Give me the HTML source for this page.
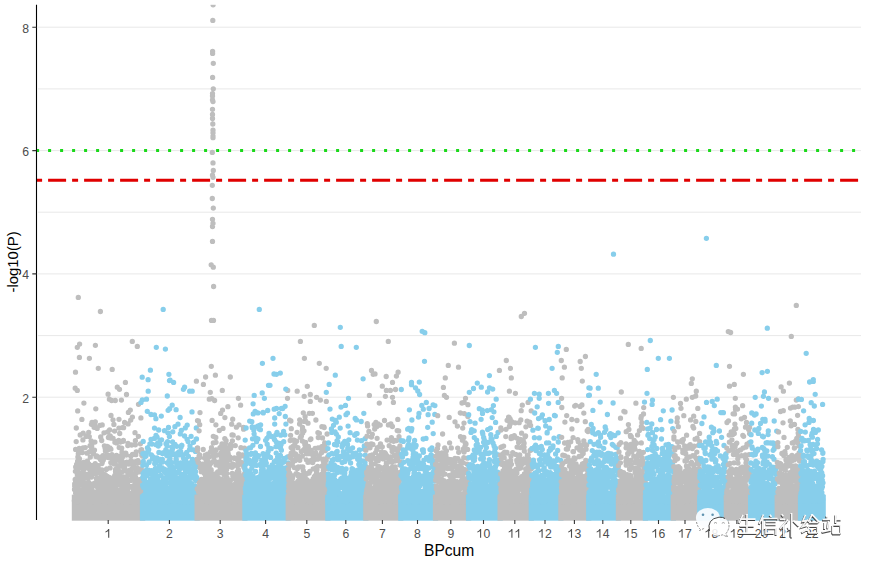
<!DOCTYPE html>
<html><head><meta charset="utf-8"><style>
html,body{margin:0;padding:0;background:#fff;width:869px;height:562px;overflow:hidden;position:relative}
.t{position:absolute;font-family:"Liberation Sans",sans-serif;white-space:nowrap}
.yl{position:absolute;right:840px;font:12.2px "Liberation Sans",sans-serif;color:#4d4d4d;line-height:14px}
.xl{position:absolute;top:526.5px;width:30px;text-align:center;font:12.2px "Liberation Sans",sans-serif;color:#4d4d4d;line-height:14px}
</style></head><body>
<svg width="869" height="562" viewBox="0 0 869 562" style="position:absolute;left:0;top:0">
<path d="M38 458.9H861M38 397.2H861M38 335.6H861M38 273.9H861M38 212.2H861M38 150.6H861M38 88.9H861M38 27.2H861" stroke="#e8e8e8" stroke-width="1" fill="none"/>
<rect x="71.8" y="494.7" width="73.4" height="26.0" fill="#bebebe"/>
<path d="M74.4 500.7h0M74.5 489.4h0M74.6 497.2h0M74.7 485.9h0M74.7 483.9h0M74.9 497.5h0M75.0 489.9h0M75.2 479.5h0M75.3 500.6h0M75.4 471.3h0M75.5 480.3h0M75.5 497.3h0M75.6 449.4h0M75.6 493.0h0M75.7 497.6h0M75.7 466.9h0M75.9 495.9h0M75.9 492.7h0M75.9 478.9h0M76.0 498.2h0M76.0 490.4h0M76.1 480.5h0M76.2 482.2h0M76.2 441.6h0M76.3 481.7h0M76.3 428.0h0M76.4 490.7h0M76.6 497.8h0M76.6 464.4h0M76.8 482.3h0M76.9 494.2h0M76.9 479.1h0M76.9 502.0h0M77.0 470.1h0M77.1 495.7h0M77.1 492.1h0M77.3 500.4h0M77.3 474.6h0M77.4 491.7h0M77.5 479.6h0M77.6 461.2h0M77.7 410.9h0M77.7 471.7h0M77.8 493.1h0M77.9 456.9h0M77.9 483.3h0M78.0 500.2h0M78.0 485.8h0M78.1 498.7h0M78.2 478.9h0M78.3 453.7h0M78.3 489.3h0M78.4 469.1h0M78.4 484.4h0M78.5 461.9h0M78.5 481.0h0M78.6 478.2h0M78.6 495.8h0M78.7 481.5h0M78.8 493.4h0M79.2 465.8h0M79.2 448.4h0M79.3 467.2h0M79.4 458.7h0M79.5 483.0h0M79.7 473.5h0M79.7 467.2h0M79.8 462.7h0M80.1 490.3h0M80.2 466.7h0M80.2 435.0h0M80.3 450.5h0M80.4 480.0h0M80.5 479.7h0M80.5 477.5h0M80.6 476.9h0M80.6 490.2h0M80.9 480.8h0M80.9 499.5h0M81.0 497.7h0M81.1 473.2h0M81.2 496.4h0M81.3 493.5h0M81.4 465.9h0M81.5 497.7h0M81.6 480.5h0M81.7 500.4h0M81.8 498.5h0M81.9 419.4h0M81.9 492.3h0M82.0 485.0h0M82.1 481.7h0M82.3 452.6h0M82.4 475.4h0M82.5 489.7h0M82.6 494.0h0M82.7 500.5h0M82.7 498.6h0M82.8 501.9h0M82.8 491.2h0M82.9 439.9h0M82.9 466.4h0M82.9 494.0h0M83.0 476.2h0M83.1 447.8h0M83.2 498.7h0M83.2 433.2h0M83.4 482.4h0M83.4 490.5h0M83.5 469.4h0M83.6 463.6h0M83.6 462.4h0M83.8 498.6h0M83.8 473.1h0M83.9 482.4h0M83.9 403.1h0M83.9 467.0h0M84.0 495.0h0M84.1 499.3h0M84.4 487.0h0M84.4 493.5h0M84.5 496.8h0M84.6 490.6h0M84.7 483.2h0M84.8 493.6h0M84.9 497.8h0M84.9 500.6h0M84.9 489.8h0M85.1 478.0h0M85.2 447.6h0M85.2 495.2h0M85.3 485.7h0M85.4 487.7h0M85.7 500.3h0M85.7 487.4h0M85.8 484.1h0M86.0 501.2h0M86.1 494.1h0M86.1 436.4h0M86.4 462.0h0M86.4 477.6h0M86.6 484.8h0M86.9 474.3h0M87.1 453.2h0M87.1 466.9h0M87.2 468.1h0M87.3 495.5h0M87.4 461.2h0M87.5 482.8h0M87.5 488.7h0M87.7 495.5h0M87.8 463.5h0M87.8 468.2h0M87.9 497.3h0M87.9 491.8h0M88.0 482.9h0M88.1 495.3h0M88.2 474.8h0M88.3 485.2h0M88.5 477.6h0M88.7 482.5h0M88.7 432.3h0M88.8 463.9h0M88.9 498.0h0M88.9 497.8h0M88.9 501.0h0M89.0 487.0h0M89.0 493.7h0M89.1 492.9h0M89.1 501.4h0M89.2 499.4h0M89.3 436.6h0M89.4 477.1h0M89.5 493.9h0M89.6 501.6h0M89.7 451.6h0M89.8 486.2h0M89.9 476.4h0M89.9 500.5h0M90.0 470.1h0M90.0 465.1h0M90.1 445.7h0M90.3 457.1h0M90.3 501.2h0M90.7 501.7h0M91.0 489.8h0M91.1 484.5h0M91.1 440.9h0M91.3 485.5h0M91.3 492.7h0M91.4 447.3h0M91.4 424.3h0M91.4 490.4h0M91.5 490.3h0M91.5 477.1h0M91.6 487.6h0M91.6 499.8h0M91.7 446.0h0M91.7 473.1h0M91.9 496.1h0M91.9 497.3h0M92.0 468.8h0M92.0 422.3h0M92.1 493.8h0M92.1 497.5h0M92.2 484.2h0M92.2 492.5h0M92.3 491.3h0M92.5 497.4h0M92.6 499.1h0M92.6 467.5h0M92.7 465.3h0M92.8 497.1h0M93.4 494.5h0M93.5 453.5h0M93.6 501.5h0M94.0 494.8h0M94.1 427.3h0M94.4 473.7h0M94.4 471.8h0M94.4 423.7h0M94.5 424.6h0M94.5 450.1h0M94.6 491.9h0M94.7 483.2h0M94.8 472.4h0M94.9 442.1h0M95.0 493.7h0M95.2 463.6h0M95.2 484.7h0M95.3 421.8h0M95.4 499.3h0M95.6 470.2h0M95.7 486.0h0M95.8 408.8h0M95.9 483.6h0M95.9 498.9h0M95.9 470.8h0M96.0 492.0h0M96.1 466.6h0M96.1 456.6h0M96.2 482.2h0M96.4 473.4h0M96.4 500.5h0M96.5 478.5h0M96.5 500.8h0M96.6 497.1h0M96.7 456.0h0M97.1 483.6h0M97.2 472.4h0M97.2 428.4h0M97.4 486.9h0M97.5 496.4h0M97.6 495.6h0M97.7 499.3h0M97.8 465.7h0M97.8 486.4h0M97.9 485.6h0M97.9 471.1h0M97.9 465.6h0M98.0 456.9h0M98.1 502.0h0M98.2 467.2h0M98.2 469.9h0M98.3 500.2h0M98.4 496.4h0M98.5 497.1h0M98.5 498.9h0M98.6 490.9h0M99.0 497.4h0M99.1 494.2h0M99.2 489.5h0M99.4 486.7h0M99.4 481.1h0M99.7 492.7h0M99.8 458.2h0M99.9 492.1h0M99.9 425.4h0M100.2 498.9h0M100.3 457.4h0M100.3 501.4h0M100.4 489.0h0M100.5 492.4h0M100.5 459.5h0M100.6 477.3h0M100.7 436.9h0M100.9 473.7h0M101.0 457.6h0M101.0 496.4h0M101.2 490.8h0M101.4 492.4h0M101.4 499.0h0M101.5 499.6h0M101.7 440.5h0M101.7 487.8h0M101.9 463.6h0M101.9 469.9h0M102.0 479.6h0M102.0 456.7h0M102.2 462.3h0M102.2 424.9h0M102.3 462.3h0M102.4 482.5h0M102.5 477.8h0M102.6 478.8h0M102.6 489.5h0M102.7 493.2h0M102.8 487.3h0M102.9 455.7h0M103.0 499.4h0M103.1 490.5h0M103.2 478.8h0M103.2 499.8h0M103.3 460.0h0M103.7 484.1h0M103.7 474.3h0M103.8 493.3h0M103.8 480.6h0M103.9 495.5h0M103.9 476.7h0M104.0 432.8h0M104.2 484.4h0M104.3 492.3h0M104.4 445.8h0M104.5 486.7h0M104.6 499.4h0M104.7 480.9h0M104.8 457.6h0M104.9 483.5h0M104.9 484.8h0M104.9 501.4h0M105.0 475.2h0M105.1 447.9h0M105.2 499.6h0M105.3 497.2h0M105.3 498.8h0M105.4 450.9h0M105.4 475.0h0M106.0 482.2h0M106.0 495.2h0M106.1 476.4h0M106.1 494.9h0M106.2 469.6h0M106.2 495.5h0M106.3 476.5h0M106.4 493.8h0M106.5 456.5h0M106.6 483.0h0M106.7 469.0h0M106.8 501.3h0M106.9 498.7h0M106.9 493.6h0M107.0 446.4h0M107.0 487.2h0M107.0 501.8h0M107.4 476.3h0M107.5 455.0h0M107.6 432.0h0M107.6 501.7h0M107.7 446.6h0M107.8 490.1h0M107.8 488.0h0M107.9 495.1h0M108.0 449.7h0M108.1 484.0h0M108.2 497.0h0M108.3 448.3h0M108.3 492.6h0M108.4 457.5h0M108.4 437.5h0M108.5 484.9h0M109.0 501.0h0M109.0 500.4h0M109.1 495.3h0M109.2 477.3h0M109.2 495.2h0M109.4 479.0h0M109.5 480.1h0M109.5 488.6h0M109.6 496.1h0M109.6 430.0h0M109.7 499.3h0M109.9 447.9h0M110.1 491.1h0M110.1 467.9h0M110.2 480.9h0M110.2 435.9h0M110.3 489.0h0M110.5 486.2h0M110.5 499.3h0M110.6 481.3h0M110.7 438.0h0M110.8 462.6h0M110.9 449.2h0M111.0 415.4h0M111.0 483.5h0M111.1 484.9h0M111.2 485.1h0M111.3 499.5h0M111.6 498.8h0M111.9 496.1h0M111.9 454.7h0M112.1 488.5h0M112.4 490.0h0M112.5 500.7h0M112.5 493.1h0M112.6 498.0h0M112.6 459.8h0M112.7 500.2h0M112.8 496.9h0M112.8 458.2h0M113.0 494.7h0M113.0 419.8h0M113.1 457.1h0M113.1 438.3h0M113.3 492.0h0M113.4 462.5h0M113.6 463.4h0M113.6 494.7h0M113.7 477.5h0M113.8 487.1h0M113.9 424.4h0M113.9 498.2h0M114.0 461.1h0M114.1 498.7h0M114.1 490.5h0M114.2 483.3h0M114.4 460.9h0M114.4 458.9h0M114.5 500.8h0M114.5 464.1h0M114.6 431.1h0M114.6 476.6h0M114.8 475.3h0M114.8 456.6h0M114.9 442.3h0M115.0 495.3h0M115.1 463.0h0M115.2 496.0h0M115.2 493.1h0M115.3 497.7h0M115.3 494.6h0M115.4 481.0h0M115.5 471.5h0M115.6 469.5h0M115.9 500.3h0M116.1 484.6h0M116.2 456.1h0M116.3 495.7h0M116.4 496.3h0M116.5 455.3h0M116.5 500.0h0M116.6 442.9h0M116.6 496.7h0M116.7 495.3h0M116.8 470.2h0M116.9 489.3h0M116.9 460.3h0M117.0 499.6h0M117.0 441.4h0M117.2 492.2h0M117.2 499.5h0M117.3 470.6h0M117.3 493.8h0M117.5 495.7h0M117.5 499.6h0M117.6 465.6h0M117.7 480.5h0M117.9 493.2h0M118.0 494.3h0M118.0 480.5h0M118.1 476.8h0M118.2 500.7h0M118.3 493.6h0M118.3 494.7h0M118.5 500.3h0M118.5 493.1h0M118.6 484.4h0M118.6 490.1h0M118.7 440.3h0M118.7 501.9h0M118.8 500.0h0M118.9 428.1h0M119.0 419.3h0M119.1 494.1h0M119.1 476.6h0M119.2 447.6h0M119.2 492.7h0M119.4 474.9h0M119.4 490.7h0M119.6 473.0h0M119.6 500.6h0M119.7 433.5h0M119.8 458.3h0M119.9 494.0h0M119.9 491.9h0M120.0 466.3h0M120.1 494.0h0M120.1 471.6h0M120.3 442.0h0M120.4 456.1h0M120.5 492.1h0M120.6 480.6h0M120.7 461.8h0M120.8 477.0h0M120.8 466.2h0M120.9 497.9h0M121.0 489.8h0M121.0 463.2h0M121.1 483.3h0M121.5 457.0h0M121.5 464.9h0M121.6 488.5h0M121.6 459.7h0M121.7 448.1h0M121.8 501.1h0M122.0 483.4h0M122.0 471.8h0M122.0 452.2h0M122.1 489.1h0M122.4 457.1h0M122.4 427.6h0M122.5 479.2h0M122.5 455.1h0M122.6 488.4h0M122.7 500.4h0M123.0 441.3h0M123.0 496.0h0M123.1 500.5h0M123.1 485.8h0M123.2 496.7h0M123.2 477.3h0M123.3 498.5h0M123.4 440.3h0M123.5 476.9h0M123.6 427.7h0M123.9 467.5h0M123.9 498.3h0M124.0 501.5h0M124.0 501.2h0M124.1 470.9h0M124.1 465.2h0M124.3 479.4h0M124.3 465.1h0M124.4 497.8h0M124.5 494.6h0M124.5 496.1h0M124.6 422.4h0M124.6 466.9h0M124.7 495.9h0M124.8 492.8h0M124.8 501.1h0M124.9 483.8h0M125.0 477.9h0M125.2 498.8h0M125.3 470.7h0M125.3 462.7h0M125.4 482.3h0M125.5 476.8h0M125.5 495.1h0M125.6 489.7h0M125.7 490.4h0M125.8 453.1h0M125.8 492.0h0M125.9 500.8h0M126.0 497.7h0M126.0 479.5h0M126.1 494.4h0M126.3 455.0h0M126.5 500.2h0M126.7 462.4h0M126.7 463.9h0M126.9 462.5h0M126.9 470.6h0M127.0 497.4h0M127.0 483.1h0M127.1 490.2h0M127.2 491.3h0M127.2 477.3h0M127.3 470.8h0M127.5 482.6h0M127.6 484.9h0M127.7 486.0h0M127.8 489.1h0M127.8 445.6h0M127.9 479.6h0M128.0 443.3h0M128.0 475.0h0M128.0 473.5h0M128.1 423.9h0M128.2 497.2h0M128.4 412.4h0M128.5 486.2h0M128.6 493.3h0M128.6 494.1h0M128.9 498.8h0M129.0 464.1h0M129.2 494.0h0M129.3 500.1h0M129.5 499.2h0M129.7 461.8h0M129.7 470.1h0M129.9 502.0h0M130.1 495.7h0M130.2 474.1h0M130.2 494.5h0M130.3 410.1h0M130.4 501.4h0M130.4 471.7h0M130.5 473.8h0M130.5 480.4h0M130.7 420.1h0M130.8 501.0h0M130.8 486.5h0M130.9 456.2h0M131.0 494.9h0M131.2 460.8h0M131.3 493.1h0M131.4 469.3h0M131.6 479.7h0M131.7 445.0h0M131.7 499.7h0M131.8 464.2h0M132.1 473.3h0M132.2 486.5h0M132.2 498.4h0M132.3 487.5h0M132.3 493.6h0M132.4 417.1h0M132.5 454.5h0M132.6 477.0h0M132.8 497.7h0M132.8 474.3h0M132.9 498.0h0M133.0 467.9h0M133.1 500.5h0M133.2 477.8h0M133.3 488.6h0M133.5 492.3h0M133.6 498.7h0M133.7 501.1h0M133.8 465.7h0M133.9 487.8h0M134.1 501.2h0M134.2 485.6h0M134.3 491.2h0M134.4 500.1h0M134.4 495.0h0M134.5 462.1h0M134.6 498.3h0M134.7 461.8h0M134.8 474.7h0M134.9 495.1h0M134.9 491.9h0M135.0 480.5h0M135.0 432.7h0M135.1 482.5h0M135.2 484.2h0M135.2 499.6h0M135.3 444.8h0M135.4 497.1h0M135.4 440.7h0M135.5 500.3h0M135.6 477.5h0M135.8 454.7h0M135.9 500.3h0M136.0 473.2h0M136.0 486.8h0M136.1 498.4h0M136.2 452.0h0M136.2 498.4h0M136.3 490.6h0M136.3 487.7h0M136.4 470.9h0M136.4 487.7h0M136.5 496.7h0M136.5 489.7h0M136.6 498.2h0M136.7 461.4h0M136.8 501.2h0M136.9 485.2h0M137.0 488.2h0M137.1 462.5h0M137.3 467.8h0M137.4 482.7h0M137.7 501.5h0M138.0 491.7h0M138.0 460.7h0M138.2 493.9h0M138.3 471.3h0M138.3 480.2h0M138.4 436.3h0M138.4 501.2h0M138.5 404.3h0M138.5 493.0h0M138.6 483.2h0M138.7 491.9h0M138.8 480.1h0M139.1 462.5h0M139.3 494.9h0M139.5 495.9h0M139.5 501.4h0M139.5 471.8h0M139.7 471.4h0M139.8 491.2h0M139.8 483.9h0M139.9 493.2h0M140.0 492.7h0M140.2 484.5h0M140.2 501.7h0M140.4 499.8h0M140.4 443.8h0M140.5 487.9h0M140.7 487.1h0M140.8 479.4h0M140.9 417.9h0M140.9 450.0h0M141.0 485.3h0M141.1 496.8h0M141.2 468.8h0M141.3 501.9h0M141.5 493.3h0M141.5 452.7h0M141.6 449.6h0M141.6 449.8h0M141.7 492.7h0M141.8 455.3h0M141.9 451.1h0M142.0 496.0h0M142.0 484.6h0M142.1 470.4h0M142.1 484.0h0M142.3 491.0h0M142.4 498.6h0M142.5 456.1h0" stroke="#bebebe" stroke-width="5.3" stroke-linecap="round" fill="none"/>
<rect x="139.9" y="494.7" width="59.9" height="26.0" fill="#87ceeb"/>
<path d="M142.6 485.1h0M142.7 499.9h0M142.8 477.1h0M142.8 465.3h0M142.9 496.2h0M142.9 453.7h0M143.0 486.3h0M143.1 473.6h0M143.2 496.0h0M143.2 441.4h0M143.3 500.1h0M143.3 461.5h0M143.5 497.3h0M143.7 487.4h0M143.7 479.2h0M143.9 495.2h0M144.0 485.7h0M144.0 499.1h0M144.2 500.4h0M144.2 498.2h0M144.3 487.8h0M144.4 471.9h0M144.5 496.6h0M144.5 479.6h0M144.7 483.3h0M144.8 481.1h0M144.9 456.7h0M145.0 496.9h0M145.3 498.9h0M145.4 481.8h0M145.5 498.9h0M145.7 491.1h0M145.9 452.8h0M146.0 490.5h0M146.1 455.7h0M146.1 501.2h0M146.2 453.6h0M146.2 493.3h0M146.3 496.2h0M146.3 495.0h0M146.4 501.3h0M146.5 492.3h0M146.5 465.0h0M146.6 469.8h0M146.7 475.6h0M146.8 495.4h0M146.8 493.2h0M146.9 493.1h0M147.0 499.2h0M147.1 474.2h0M147.2 494.7h0M147.3 411.3h0M147.4 447.8h0M147.4 490.4h0M147.6 501.7h0M147.7 495.0h0M147.8 482.5h0M148.1 473.1h0M148.2 451.8h0M148.3 487.1h0M148.5 470.1h0M148.6 488.2h0M148.6 494.5h0M148.7 449.6h0M148.9 462.4h0M149.0 484.9h0M149.0 487.0h0M149.2 497.7h0M149.2 461.9h0M149.3 484.0h0M149.4 488.0h0M149.5 486.0h0M149.6 500.4h0M149.7 493.1h0M149.8 491.4h0M149.9 443.9h0M150.0 481.2h0M150.0 495.6h0M150.3 478.9h0M150.6 500.4h0M150.7 473.7h0M150.9 500.1h0M151.0 439.3h0M151.0 414.5h0M151.1 479.8h0M151.1 482.8h0M151.3 494.5h0M151.4 487.2h0M151.4 454.8h0M151.6 492.0h0M151.6 471.7h0M151.7 470.6h0M151.8 487.8h0M151.9 483.5h0M152.0 490.5h0M152.0 444.1h0M152.1 493.6h0M152.2 492.3h0M152.3 500.6h0M152.4 491.4h0M152.5 499.7h0M152.5 458.6h0M152.6 480.4h0M152.7 501.9h0M152.7 483.8h0M152.9 479.5h0M152.9 479.9h0M153.0 472.4h0M153.1 499.8h0M153.2 456.9h0M153.2 499.3h0M153.3 471.9h0M153.5 496.5h0M153.5 485.4h0M153.6 496.1h0M153.7 476.6h0M153.7 497.2h0M153.8 491.3h0M153.9 496.0h0M154.0 494.4h0M154.1 496.1h0M154.3 476.2h0M154.3 438.4h0M154.4 479.6h0M154.5 414.8h0M154.5 428.1h0M154.5 494.0h0M154.7 463.6h0M154.9 483.4h0M155.0 481.8h0M155.0 481.1h0M155.0 462.4h0M155.1 458.2h0M155.3 476.2h0M155.4 483.2h0M155.4 468.4h0M155.5 476.3h0M155.5 475.8h0M155.7 487.5h0M155.7 463.2h0M155.8 462.7h0M155.8 501.9h0M155.9 473.1h0M155.9 418.7h0M156.0 435.3h0M156.0 479.3h0M156.0 480.0h0M156.1 444.7h0M156.1 482.0h0M156.2 476.9h0M156.2 469.2h0M156.4 494.7h0M156.5 480.3h0M156.6 487.7h0M156.7 495.2h0M156.8 490.4h0M156.9 498.6h0M157.0 496.8h0M157.0 458.0h0M157.1 437.2h0M157.6 480.8h0M157.8 443.0h0M157.8 493.2h0M157.9 476.1h0M157.9 487.7h0M158.0 500.3h0M158.0 494.0h0M158.1 477.3h0M158.2 493.5h0M158.3 446.0h0M158.3 494.7h0M158.4 493.7h0M158.7 430.0h0M158.8 490.6h0M158.9 452.4h0M158.9 486.2h0M159.0 492.2h0M159.2 493.0h0M159.3 460.3h0M159.3 470.3h0M159.5 498.8h0M159.5 488.3h0M159.5 461.3h0M159.6 466.1h0M159.7 483.7h0M159.8 470.2h0M160.0 444.1h0M160.3 459.4h0M160.4 496.0h0M160.5 484.8h0M160.7 493.0h0M160.7 475.4h0M160.8 440.1h0M160.9 482.7h0M160.9 460.0h0M161.0 493.9h0M161.0 497.9h0M161.1 483.4h0M161.2 492.3h0M161.3 416.1h0M161.3 482.0h0M161.4 482.9h0M161.4 461.2h0M161.5 501.9h0M161.6 439.8h0M161.7 469.4h0M161.8 462.2h0M162.0 467.6h0M162.1 497.1h0M162.2 461.8h0M162.3 459.5h0M162.3 492.9h0M162.5 453.6h0M162.5 461.9h0M162.5 485.7h0M162.7 498.0h0M162.7 487.2h0M162.8 493.2h0M163.0 486.3h0M163.1 498.5h0M163.1 490.8h0M163.2 452.6h0M163.2 480.2h0M163.4 481.3h0M163.5 490.0h0M163.6 481.3h0M163.6 477.9h0M163.8 483.7h0M163.9 468.9h0M164.0 470.9h0M164.0 469.9h0M164.1 494.6h0M164.3 498.5h0M164.3 497.1h0M164.4 501.5h0M164.4 495.1h0M164.5 484.8h0M164.5 430.7h0M164.6 489.7h0M164.7 495.1h0M164.9 492.5h0M165.1 491.1h0M165.3 472.0h0M165.4 472.8h0M165.5 469.9h0M165.5 492.3h0M165.6 482.6h0M165.7 487.5h0M165.7 493.4h0M165.8 450.1h0M165.8 450.0h0M166.0 502.0h0M166.0 443.7h0M166.1 493.5h0M166.1 491.3h0M166.3 481.4h0M166.4 500.2h0M166.5 501.5h0M166.6 482.8h0M166.7 488.0h0M166.8 455.5h0M166.9 452.6h0M167.0 475.5h0M167.1 470.3h0M167.1 446.0h0M167.3 462.7h0M167.4 500.7h0M167.5 496.9h0M167.6 441.6h0M167.9 432.8h0M168.0 477.4h0M168.0 491.9h0M168.1 410.3h0M168.2 490.8h0M168.5 427.4h0M168.5 501.0h0M168.6 476.6h0M168.8 464.4h0M169.0 451.8h0M169.1 496.5h0M169.2 483.0h0M169.3 460.5h0M169.4 436.4h0M169.5 497.4h0M169.6 471.9h0M169.6 476.8h0M169.6 464.9h0M169.7 408.7h0M169.8 473.5h0M169.9 469.0h0M169.9 493.3h0M170.0 458.5h0M170.0 464.7h0M170.1 496.8h0M170.1 469.8h0M170.2 491.4h0M170.3 488.9h0M170.4 477.8h0M170.5 468.9h0M170.6 465.5h0M170.7 487.4h0M170.8 499.5h0M170.9 462.2h0M170.9 491.9h0M171.1 497.0h0M171.1 465.6h0M171.2 488.3h0M171.4 478.4h0M171.5 496.5h0M171.6 454.1h0M171.8 471.8h0M171.9 501.2h0M171.9 447.1h0M172.0 492.5h0M172.0 462.6h0M172.2 405.2h0M172.2 469.7h0M172.5 448.9h0M172.5 454.4h0M172.6 442.0h0M172.7 484.7h0M172.8 431.8h0M172.9 480.7h0M172.9 492.4h0M173.0 453.3h0M173.1 474.6h0M173.1 476.2h0M173.3 497.5h0M173.3 496.6h0M173.4 483.0h0M173.5 470.0h0M173.6 485.7h0M173.6 472.6h0M173.7 492.3h0M173.7 476.4h0M173.8 467.7h0M173.9 492.3h0M174.0 480.9h0M174.0 444.5h0M174.3 500.8h0M174.4 485.0h0M174.6 482.1h0M174.6 497.4h0M174.9 426.7h0M175.0 444.5h0M175.2 476.4h0M175.3 495.4h0M175.4 500.9h0M175.4 492.0h0M175.5 479.3h0M175.8 496.6h0M176.0 489.5h0M176.0 455.8h0M176.1 458.9h0M176.1 409.7h0M176.2 493.7h0M176.3 459.7h0M176.4 463.0h0M176.5 501.2h0M176.5 494.7h0M176.7 499.9h0M176.7 472.5h0M176.8 446.3h0M176.9 480.6h0M177.0 477.8h0M177.1 483.2h0M177.2 490.6h0M177.3 490.0h0M177.4 466.2h0M177.5 491.0h0M177.6 492.0h0M177.7 453.0h0M177.7 493.6h0M177.8 472.5h0M177.9 483.3h0M177.9 466.8h0M178.0 489.3h0M178.0 424.2h0M178.1 487.3h0M178.4 496.7h0M178.5 492.0h0M178.9 468.0h0M179.0 480.1h0M179.1 495.8h0M179.2 499.1h0M179.2 451.7h0M179.4 472.8h0M179.6 497.5h0M179.6 454.9h0M179.6 497.5h0M179.8 491.3h0M179.9 493.0h0M180.0 468.8h0M180.0 480.3h0M180.1 484.8h0M180.1 417.5h0M180.2 501.1h0M180.3 433.9h0M180.4 501.8h0M180.4 478.2h0M180.6 501.6h0M180.6 463.0h0M180.6 491.5h0M180.7 451.6h0M180.8 501.6h0M180.8 499.2h0M181.1 447.1h0M181.1 495.6h0M181.1 475.0h0M181.2 491.9h0M181.3 430.5h0M181.6 445.3h0M181.7 489.1h0M181.7 498.6h0M181.8 466.6h0M181.8 475.5h0M181.9 445.3h0M182.0 467.8h0M182.2 477.1h0M182.2 490.5h0M182.3 495.5h0M182.5 474.6h0M182.6 481.8h0M182.6 496.1h0M182.7 454.7h0M182.9 496.3h0M182.9 490.6h0M183.0 484.3h0M183.1 482.4h0M183.2 462.5h0M183.2 496.3h0M183.3 497.7h0M183.4 500.2h0M183.4 499.7h0M183.5 478.3h0M183.6 458.2h0M183.8 478.5h0M183.9 489.4h0M184.0 488.4h0M184.1 477.5h0M184.1 465.3h0M184.2 501.7h0M184.4 493.8h0M184.6 436.0h0M184.7 483.7h0M184.7 474.5h0M184.8 484.7h0M185.0 473.5h0M185.1 497.3h0M185.2 469.9h0M185.2 487.4h0M185.3 427.9h0M185.4 479.3h0M185.6 459.9h0M185.7 494.0h0M185.9 497.1h0M185.9 477.9h0M186.0 486.9h0M186.1 501.4h0M186.6 453.5h0M186.7 452.5h0M186.8 478.1h0M186.8 478.1h0M186.9 478.5h0M187.0 480.2h0M187.1 439.3h0M187.1 499.4h0M187.2 425.1h0M187.2 482.1h0M187.3 464.3h0M187.3 497.2h0M187.4 501.7h0M187.6 489.9h0M187.8 479.5h0M187.8 465.5h0M187.9 494.1h0M187.9 487.1h0M188.1 441.6h0M188.1 463.1h0M188.3 500.8h0M188.4 456.3h0M188.5 499.7h0M188.6 477.1h0M188.6 497.1h0M188.7 477.3h0M188.8 501.0h0M188.9 491.3h0M188.9 470.6h0M189.0 495.5h0M189.0 494.4h0M189.1 491.5h0M189.3 466.2h0M189.4 495.6h0M189.5 497.8h0M189.6 487.0h0M189.6 449.5h0M189.8 483.0h0M189.8 498.4h0M189.9 499.8h0M190.0 445.8h0M190.2 473.5h0M190.3 462.7h0M190.4 483.2h0M190.6 483.0h0M190.7 502.0h0M190.9 494.5h0M191.0 478.0h0M191.0 490.9h0M191.1 436.3h0M191.2 476.8h0M191.3 469.5h0M191.4 495.8h0M191.5 484.0h0M191.6 496.3h0M191.9 484.7h0M192.0 411.9h0M192.1 475.9h0M192.1 487.9h0M192.1 496.8h0M192.2 489.1h0M192.4 449.7h0M192.5 459.3h0M192.6 501.0h0M192.8 475.5h0M193.1 500.7h0M193.3 497.4h0M193.3 491.2h0M193.5 442.3h0M193.6 492.2h0M193.7 469.0h0M193.7 463.4h0M193.8 497.7h0M194.0 493.3h0M194.1 500.0h0M194.1 465.1h0M194.3 471.6h0M194.3 499.1h0M194.4 492.4h0M194.4 497.9h0M194.5 478.6h0M194.7 477.5h0M194.9 485.8h0M194.9 501.0h0M195.1 472.9h0M195.1 477.9h0M195.2 474.6h0M195.3 495.3h0M195.4 497.4h0M195.5 500.2h0M195.5 451.4h0M195.6 471.6h0M195.7 501.1h0M195.7 480.6h0M195.8 501.3h0M195.9 499.9h0M196.0 490.0h0M196.1 460.7h0M196.2 439.1h0M196.3 476.8h0M196.3 427.9h0M196.4 495.9h0M196.5 438.9h0M196.6 501.0h0M196.6 495.4h0M196.7 459.4h0M196.7 501.2h0M196.8 490.6h0M196.8 492.2h0M196.9 477.9h0M196.9 493.2h0M197.0 466.6h0M197.1 448.3h0" stroke="#87ceeb" stroke-width="5.3" stroke-linecap="round" fill="none"/>
<rect x="194.5" y="494.7" width="53.0" height="26.0" fill="#bebebe"/>
<path d="M197.2 489.0h0M197.3 459.5h0M197.4 450.6h0M197.4 497.0h0M197.5 420.6h0M197.6 488.8h0M197.6 447.9h0M197.8 501.4h0M198.2 462.2h0M198.4 421.0h0M198.5 491.8h0M198.5 462.4h0M198.6 496.8h0M198.8 488.8h0M198.9 486.6h0M199.1 430.8h0M199.1 455.8h0M199.1 498.3h0M199.2 490.7h0M199.2 486.6h0M199.3 482.8h0M199.3 456.3h0M199.4 499.5h0M199.6 454.9h0M199.6 457.6h0M199.7 424.7h0M199.9 496.2h0M200.0 412.6h0M200.1 467.7h0M200.2 492.7h0M200.2 483.3h0M200.3 495.7h0M200.4 481.3h0M200.5 500.0h0M200.6 466.1h0M200.6 485.7h0M200.7 498.9h0M201.1 496.5h0M201.1 498.0h0M201.2 501.3h0M201.2 485.5h0M201.3 470.5h0M201.3 471.7h0M201.4 486.8h0M201.5 479.4h0M201.6 484.8h0M201.6 465.0h0M201.8 467.0h0M201.9 490.0h0M202.0 489.4h0M202.0 491.0h0M202.1 467.2h0M202.2 487.7h0M202.3 464.1h0M202.4 499.0h0M202.4 496.6h0M202.5 488.2h0M202.5 491.1h0M202.7 499.2h0M202.8 496.6h0M202.8 483.8h0M202.9 497.9h0M203.1 496.8h0M203.2 449.5h0M203.4 499.7h0M203.6 498.4h0M203.6 489.4h0M203.7 471.2h0M203.7 498.1h0M203.8 499.3h0M203.8 498.5h0M203.9 498.4h0M204.0 491.9h0M204.1 495.2h0M204.1 493.9h0M204.2 473.3h0M204.3 495.6h0M204.4 501.0h0M204.4 471.1h0M204.5 468.5h0M204.6 457.9h0M204.7 484.7h0M204.7 465.6h0M204.8 470.0h0M204.9 467.2h0M205.0 481.4h0M205.0 471.5h0M205.1 493.3h0M205.2 484.7h0M205.2 483.9h0M205.3 487.7h0M205.3 455.1h0M205.4 490.9h0M205.5 476.5h0M205.5 466.7h0M205.6 476.1h0M205.6 473.8h0M205.6 487.9h0M205.7 496.7h0M206.0 495.7h0M206.1 482.0h0M206.2 463.1h0M206.3 461.7h0M206.4 502.0h0M206.5 493.2h0M206.6 501.7h0M206.6 464.9h0M206.8 474.9h0M207.0 482.1h0M207.0 495.7h0M207.1 496.6h0M207.2 457.4h0M207.3 495.2h0M207.4 500.8h0M207.6 454.1h0M207.8 461.1h0M207.8 497.1h0M208.0 453.9h0M208.1 474.1h0M208.4 490.7h0M208.5 500.3h0M208.5 501.0h0M208.6 467.2h0M208.7 473.2h0M208.8 487.2h0M208.8 499.0h0M208.9 476.4h0M209.0 478.8h0M209.0 470.6h0M209.3 482.7h0M209.4 456.7h0M209.4 481.3h0M209.5 465.3h0M209.6 474.2h0M209.6 491.4h0M209.6 486.5h0M209.7 471.8h0M209.9 501.8h0M210.1 479.6h0M210.1 496.2h0M210.2 487.7h0M210.2 469.9h0M210.6 463.5h0M210.6 451.6h0M210.7 489.9h0M210.7 484.9h0M210.8 489.6h0M210.9 472.1h0M211.0 471.4h0M211.1 495.9h0M211.1 469.7h0M211.2 470.3h0M211.3 499.6h0M211.4 485.6h0M211.5 447.7h0M211.6 478.3h0M211.8 498.4h0M212.0 474.7h0M212.1 500.0h0M212.1 420.4h0M212.2 489.9h0M212.2 486.4h0M212.3 502.0h0M212.3 489.8h0M212.5 494.7h0M212.5 481.3h0M212.6 484.6h0M212.6 489.7h0M212.8 491.7h0M213.0 461.7h0M213.1 452.7h0M213.1 494.8h0M213.1 498.9h0M213.3 436.3h0M213.3 442.9h0M213.4 476.1h0M213.6 477.7h0M213.7 498.3h0M213.8 501.4h0M213.8 501.7h0M214.0 456.9h0M214.0 496.3h0M214.1 495.0h0M214.1 501.2h0M214.2 494.5h0M214.4 460.9h0M214.5 481.6h0M214.6 487.2h0M214.6 490.9h0M214.6 484.1h0M214.7 499.6h0M214.9 493.6h0M214.9 497.6h0M215.0 475.5h0M215.1 501.0h0M215.1 490.1h0M215.2 481.1h0M215.4 473.9h0M215.5 501.3h0M215.8 437.4h0M215.9 480.4h0M215.9 424.8h0M216.0 449.9h0M216.0 442.3h0M216.1 498.3h0M216.1 464.9h0M216.2 493.8h0M216.3 475.1h0M216.4 500.3h0M216.6 494.7h0M216.7 497.4h0M216.8 501.7h0M216.8 500.9h0M216.9 498.6h0M217.0 474.4h0M217.1 473.2h0M217.2 455.0h0M217.2 497.2h0M217.3 494.0h0M217.3 476.5h0M217.4 493.5h0M217.6 500.4h0M217.7 471.9h0M217.8 488.0h0M217.9 498.9h0M218.0 462.5h0M218.1 492.8h0M218.3 472.0h0M218.5 484.8h0M218.6 496.2h0M218.7 495.8h0M218.9 487.4h0M219.0 500.1h0M219.0 500.4h0M219.2 483.0h0M219.3 492.2h0M219.3 430.5h0M219.7 492.9h0M219.8 466.5h0M219.9 486.1h0M220.0 447.7h0M220.1 495.6h0M220.3 468.0h0M220.4 492.4h0M220.4 478.8h0M220.5 492.3h0M220.5 491.2h0M220.6 461.5h0M220.6 497.2h0M220.7 490.6h0M220.7 413.4h0M220.8 500.4h0M220.9 453.1h0M221.0 486.6h0M221.1 472.8h0M221.1 454.1h0M221.1 480.0h0M221.2 499.1h0M221.3 497.9h0M221.3 493.7h0M221.5 457.2h0M221.6 493.4h0M221.6 464.0h0M221.7 454.2h0M221.7 472.8h0M221.8 499.1h0M221.8 445.3h0M221.9 462.9h0M222.0 450.0h0M222.0 444.0h0M222.3 482.6h0M222.5 410.1h0M222.5 491.5h0M222.6 493.4h0M222.6 487.4h0M222.7 497.4h0M222.9 468.2h0M222.9 486.1h0M223.0 428.4h0M223.0 495.2h0M223.1 497.4h0M223.1 501.1h0M223.2 458.9h0M223.4 454.5h0M223.5 448.7h0M223.7 496.8h0M223.7 492.2h0M223.9 491.1h0M224.0 498.5h0M224.1 459.3h0M224.1 451.2h0M224.1 501.6h0M224.3 480.8h0M224.4 445.1h0M224.6 496.6h0M224.6 475.5h0M224.6 459.1h0M224.7 449.6h0M224.7 473.1h0M224.8 497.3h0M224.8 438.6h0M224.9 417.6h0M224.9 472.9h0M225.1 469.7h0M225.1 490.8h0M225.3 488.0h0M225.4 443.6h0M225.6 499.3h0M225.6 492.5h0M225.7 464.1h0M225.7 478.7h0M225.8 474.2h0M225.9 457.7h0M226.0 484.0h0M226.1 455.9h0M226.1 491.2h0M226.1 440.6h0M226.5 466.8h0M226.6 469.6h0M226.9 493.3h0M227.0 473.6h0M227.1 486.0h0M227.2 463.7h0M227.2 478.1h0M227.3 484.5h0M227.3 464.9h0M227.4 453.7h0M227.5 447.7h0M227.6 483.7h0M227.7 460.3h0M227.7 485.5h0M227.8 500.1h0M227.9 406.7h0M228.0 452.3h0M228.1 466.1h0M228.1 486.1h0M228.2 464.8h0M228.3 454.5h0M228.4 490.3h0M228.5 486.0h0M228.5 480.4h0M228.6 498.1h0M228.7 498.3h0M228.7 491.8h0M229.2 495.9h0M229.2 486.3h0M229.3 485.9h0M229.4 466.4h0M229.4 489.1h0M229.5 496.5h0M229.5 484.7h0M229.6 459.7h0M229.9 496.9h0M230.0 457.1h0M230.1 459.1h0M230.2 484.3h0M230.3 480.9h0M230.3 500.7h0M230.5 493.3h0M230.6 444.4h0M230.6 448.3h0M230.7 488.3h0M230.7 486.6h0M230.8 495.4h0M230.9 485.3h0M231.0 466.8h0M231.0 490.6h0M231.1 484.9h0M231.1 446.5h0M231.4 490.5h0M231.5 496.5h0M231.6 501.5h0M231.7 424.2h0M231.7 495.7h0M231.8 500.4h0M231.9 467.3h0M232.0 434.9h0M232.0 466.1h0M232.2 473.5h0M232.3 496.9h0M232.3 499.3h0M232.4 440.8h0M232.5 497.6h0M232.5 486.3h0M232.6 463.9h0M232.7 496.6h0M232.7 419.2h0M232.7 464.5h0M232.8 490.1h0M232.8 497.5h0M232.9 476.7h0M233.0 490.3h0M233.2 435.2h0M233.3 493.5h0M233.4 498.7h0M233.4 488.6h0M233.5 498.4h0M233.6 466.1h0M233.6 485.1h0M233.7 486.7h0M233.8 491.0h0M233.8 494.8h0M234.0 498.4h0M234.1 500.6h0M234.1 475.3h0M234.2 494.5h0M234.4 458.0h0M234.6 496.7h0M234.6 497.5h0M234.7 458.4h0M234.7 493.4h0M234.8 494.2h0M234.8 489.2h0M234.9 498.9h0M235.0 493.4h0M235.1 495.5h0M235.2 465.2h0M235.2 479.0h0M235.3 500.1h0M235.3 445.6h0M235.5 500.4h0M235.5 476.8h0M235.6 483.4h0M235.7 487.3h0M236.0 500.2h0M236.0 484.5h0M236.1 483.0h0M236.2 474.6h0M236.2 501.3h0M236.3 486.9h0M236.4 488.6h0M236.4 427.2h0M236.5 498.7h0M236.6 492.8h0M236.6 465.1h0M236.7 478.7h0M236.7 496.6h0M236.8 494.6h0M236.9 491.7h0M237.0 499.9h0M237.0 481.5h0M237.1 500.5h0M237.1 488.5h0M237.2 472.0h0M237.3 492.7h0M237.5 480.6h0M237.6 498.2h0M237.8 460.7h0M237.9 499.5h0M238.0 491.8h0M238.0 482.6h0M238.2 483.0h0M238.2 437.8h0M238.3 469.4h0M238.4 496.7h0M238.5 471.3h0M238.5 493.9h0M238.6 487.6h0M238.6 457.5h0M238.7 453.9h0M238.7 494.8h0M238.8 464.5h0M238.8 459.2h0M238.9 472.1h0M239.0 424.8h0M239.1 488.8h0M239.2 495.4h0M239.3 491.4h0M239.3 495.0h0M239.6 481.9h0M239.7 495.6h0M239.9 488.0h0M239.9 492.0h0M240.0 499.7h0M240.0 496.9h0M240.2 456.2h0M240.6 405.2h0M240.8 476.7h0M240.9 481.9h0M240.9 447.7h0M241.0 493.1h0M241.3 481.2h0M241.3 501.2h0M241.5 502.0h0M241.6 486.3h0M241.7 501.4h0M241.8 495.9h0M242.0 462.6h0M242.2 501.8h0M242.3 484.1h0M242.3 480.1h0M242.5 455.0h0M242.6 499.9h0M242.7 491.6h0M242.7 475.7h0M242.7 484.6h0M242.8 478.4h0M243.3 465.8h0M243.4 487.2h0M243.4 485.1h0M243.5 427.5h0M243.6 491.4h0M243.6 429.2h0M243.7 489.3h0M243.8 493.1h0M243.9 465.4h0M243.9 491.4h0M244.0 482.3h0M244.0 467.6h0M244.2 500.8h0M244.2 500.9h0M244.3 477.8h0M244.3 456.0h0M244.5 448.2h0M244.5 493.9h0M244.6 473.6h0M244.7 482.6h0M244.8 493.9h0M244.9 501.9h0" stroke="#bebebe" stroke-width="5.3" stroke-linecap="round" fill="none"/>
<rect x="242.3" y="494.7" width="48.5" height="26.0" fill="#87ceeb"/>
<path d="M244.9 465.9h0M245.1 469.0h0M245.1 470.1h0M245.2 440.1h0M245.2 499.6h0M245.3 489.1h0M245.4 487.6h0M245.4 497.1h0M245.7 492.7h0M245.8 475.2h0M245.9 459.7h0M245.9 491.7h0M246.0 450.8h0M246.1 428.0h0M246.2 484.9h0M246.2 457.8h0M246.3 463.8h0M246.3 495.2h0M246.4 495.4h0M246.5 483.2h0M246.6 453.4h0M246.7 494.4h0M246.8 459.5h0M246.8 497.7h0M246.9 474.9h0M247.0 499.8h0M247.1 478.7h0M247.2 493.5h0M247.2 483.7h0M247.4 455.1h0M247.5 488.1h0M247.5 474.4h0M247.7 494.9h0M247.7 493.6h0M248.1 495.6h0M248.2 471.2h0M248.3 496.5h0M248.5 496.8h0M248.6 496.1h0M248.6 476.0h0M248.7 477.6h0M248.7 459.7h0M249.0 499.3h0M249.1 497.1h0M249.2 500.4h0M249.3 494.1h0M249.5 447.9h0M249.5 489.4h0M249.6 475.8h0M249.7 421.1h0M249.7 498.0h0M249.8 476.5h0M250.0 480.5h0M250.2 483.5h0M250.2 498.2h0M250.3 481.2h0M250.3 494.7h0M250.4 493.3h0M250.4 485.8h0M250.5 499.6h0M250.5 491.8h0M250.6 473.2h0M250.6 447.7h0M250.7 476.7h0M250.8 502.0h0M250.8 491.1h0M250.9 454.3h0M251.1 464.0h0M251.1 482.5h0M251.2 453.8h0M251.2 462.0h0M251.4 487.2h0M251.5 453.3h0M251.5 477.5h0M251.7 480.5h0M251.7 500.8h0M251.8 421.7h0M251.8 468.3h0M252.0 497.6h0M252.0 499.0h0M252.1 492.8h0M252.2 426.8h0M252.2 500.0h0M252.3 427.8h0M252.4 496.0h0M252.5 438.8h0M252.6 497.2h0M252.7 475.8h0M252.7 495.1h0M252.8 427.9h0M252.9 498.5h0M252.9 445.3h0M253.1 403.8h0M253.1 475.8h0M253.3 413.9h0M253.4 460.7h0M253.5 492.2h0M253.7 479.3h0M253.8 430.3h0M254.1 433.8h0M254.2 500.6h0M254.2 482.8h0M254.3 483.8h0M254.4 463.0h0M254.5 458.7h0M254.6 483.3h0M254.7 485.9h0M254.8 492.4h0M254.9 489.4h0M255.0 490.6h0M255.1 497.1h0M255.1 411.3h0M255.2 454.6h0M255.2 478.8h0M255.3 461.0h0M255.4 452.9h0M255.6 471.5h0M255.7 465.2h0M255.7 438.0h0M255.8 480.6h0M255.8 482.5h0M255.9 493.6h0M256.0 494.0h0M256.1 459.8h0M256.1 426.9h0M256.2 494.1h0M256.3 465.4h0M256.4 493.8h0M256.5 441.7h0M256.6 484.7h0M256.7 494.9h0M256.9 492.6h0M257.0 487.3h0M257.3 500.1h0M257.4 491.0h0M257.5 484.2h0M257.6 500.6h0M257.6 494.7h0M257.7 478.9h0M257.9 439.0h0M257.9 412.9h0M258.0 496.5h0M258.0 480.5h0M258.1 477.4h0M258.2 456.5h0M258.2 425.8h0M258.3 498.7h0M258.3 492.2h0M258.4 499.4h0M258.4 455.7h0M258.5 496.0h0M258.7 499.1h0M258.8 483.5h0M258.9 480.1h0M258.9 493.9h0M259.2 498.2h0M259.2 501.2h0M259.3 428.9h0M259.3 489.0h0M259.5 500.2h0M259.6 499.5h0M259.7 495.1h0M259.7 480.1h0M260.0 488.4h0M260.0 476.4h0M260.4 429.7h0M260.5 464.2h0M260.5 446.5h0M260.6 424.8h0M260.8 499.3h0M260.9 465.8h0M261.0 497.9h0M261.1 497.7h0M261.2 474.0h0M261.2 473.2h0M261.3 495.3h0M261.4 495.4h0M261.4 482.5h0M261.5 501.4h0M261.5 469.8h0M261.7 460.4h0M261.7 492.4h0M261.8 481.8h0M261.9 498.6h0M262.0 476.3h0M262.1 501.4h0M262.2 474.6h0M262.2 476.4h0M262.3 462.6h0M262.4 491.0h0M262.6 492.6h0M262.6 492.7h0M262.7 489.0h0M262.7 486.5h0M262.8 479.3h0M262.9 482.9h0M262.9 467.0h0M263.0 495.9h0M263.0 412.4h0M263.1 453.7h0M263.2 484.1h0M263.2 468.7h0M263.3 474.9h0M263.3 412.9h0M263.5 483.4h0M263.5 501.4h0M263.6 500.1h0M263.6 479.0h0M263.7 500.2h0M263.7 501.7h0M263.8 487.7h0M264.0 486.7h0M264.0 456.3h0M264.1 493.5h0M264.2 454.2h0M264.2 483.1h0M264.3 498.1h0M264.4 493.4h0M264.5 500.7h0M264.6 492.4h0M264.7 479.3h0M264.7 495.3h0M264.8 486.3h0M264.8 472.5h0M264.9 500.5h0M264.9 489.6h0M265.0 487.0h0M265.1 484.7h0M265.2 464.6h0M265.3 463.4h0M265.4 484.9h0M265.5 460.4h0M265.6 440.3h0M265.7 473.7h0M265.9 497.9h0M266.0 457.1h0M266.0 501.7h0M266.1 480.8h0M266.2 492.4h0M266.3 475.7h0M266.3 463.1h0M266.4 491.9h0M266.5 487.3h0M266.7 476.6h0M266.7 476.7h0M266.7 493.9h0M266.9 438.4h0M266.9 492.2h0M267.0 484.1h0M267.1 480.4h0M267.2 444.2h0M267.2 494.4h0M267.4 486.6h0M267.5 477.4h0M267.6 493.1h0M267.7 410.5h0M267.8 471.3h0M267.9 486.0h0M268.2 451.4h0M268.3 456.0h0M268.4 480.7h0M268.4 490.1h0M268.6 501.7h0M268.7 485.9h0M268.7 436.1h0M268.8 447.8h0M269.0 467.5h0M269.0 433.3h0M269.1 469.8h0M269.2 494.9h0M269.3 486.3h0M269.5 491.4h0M269.7 496.7h0M269.7 500.0h0M269.7 501.6h0M269.8 474.6h0M269.9 493.8h0M269.9 487.6h0M270.1 467.6h0M270.2 488.2h0M270.2 478.5h0M270.3 488.8h0M270.4 501.3h0M270.5 457.4h0M270.6 485.6h0M270.7 475.1h0M270.8 501.9h0M270.9 468.3h0M271.2 448.7h0M271.3 500.9h0M271.4 473.2h0M271.5 470.2h0M271.6 436.5h0M271.6 486.5h0M271.7 491.7h0M271.7 498.6h0M271.8 468.3h0M271.8 499.5h0M271.9 491.8h0M272.0 489.9h0M272.0 488.4h0M272.1 477.0h0M272.2 496.5h0M272.2 464.8h0M272.4 483.7h0M272.4 478.2h0M272.5 478.2h0M272.7 485.0h0M272.8 500.6h0M272.9 501.9h0M273.0 496.3h0M273.0 493.5h0M273.5 437.3h0M273.6 485.2h0M273.7 467.0h0M273.7 498.1h0M274.1 495.6h0M274.1 484.7h0M274.2 498.0h0M274.2 409.2h0M274.3 461.7h0M274.4 501.4h0M274.5 439.6h0M274.5 468.1h0M274.6 496.4h0M274.7 418.0h0M274.7 424.1h0M274.9 501.6h0M275.0 491.6h0M275.0 502.0h0M275.1 488.8h0M275.2 498.0h0M275.2 485.2h0M275.3 501.6h0M275.3 482.8h0M275.4 492.2h0M275.4 472.9h0M275.5 469.3h0M275.7 481.5h0M275.7 502.0h0M275.8 485.4h0M275.9 498.7h0M275.9 460.6h0M276.0 446.7h0M276.0 434.7h0M276.2 453.1h0M276.2 441.8h0M276.2 482.8h0M276.3 477.0h0M276.4 482.1h0M276.5 408.4h0M276.6 480.6h0M276.7 461.3h0M276.8 466.9h0M276.9 481.7h0M277.0 432.4h0M277.1 477.4h0M277.1 483.0h0M277.4 475.7h0M277.6 456.8h0M277.7 484.1h0M277.8 492.5h0M277.9 495.7h0M278.0 466.2h0M278.0 494.4h0M278.1 444.2h0M278.1 498.3h0M278.2 492.2h0M278.2 501.1h0M278.3 500.9h0M278.4 488.6h0M278.4 478.0h0M278.5 483.0h0M278.6 474.3h0M278.7 460.2h0M278.8 486.6h0M278.9 461.8h0M279.1 469.6h0M279.2 478.8h0M279.2 413.6h0M279.3 488.6h0M279.4 493.7h0M279.4 498.0h0M279.5 487.8h0M279.6 494.9h0M279.6 443.5h0M279.7 470.0h0M279.7 492.4h0M279.8 501.7h0M279.9 465.3h0M280.1 469.8h0M280.2 484.5h0M280.2 477.2h0M280.3 480.5h0M280.4 491.9h0M280.4 455.5h0M280.5 447.9h0M280.5 460.7h0M280.6 466.1h0M280.7 498.9h0M280.7 435.2h0M280.9 476.3h0M281.0 485.4h0M281.1 484.1h0M281.1 444.5h0M281.2 500.3h0M281.3 492.3h0M281.4 408.4h0M281.4 450.2h0M281.5 472.2h0M281.5 461.2h0M281.7 499.7h0M281.8 470.9h0M281.9 501.9h0M282.1 496.4h0M282.1 490.6h0M282.4 489.3h0M282.4 501.8h0M282.5 497.3h0M282.6 482.2h0M282.6 493.9h0M282.7 408.6h0M282.7 485.6h0M282.8 472.4h0M282.9 467.8h0M283.0 492.6h0M283.0 484.9h0M283.1 480.1h0M283.2 462.3h0M283.3 486.6h0M283.4 491.4h0M283.4 500.8h0M283.5 468.9h0M283.5 500.8h0M283.6 431.4h0M283.6 476.6h0M283.7 441.7h0M283.7 489.2h0M283.8 478.7h0M284.1 473.2h0M284.1 470.1h0M284.2 501.2h0M284.2 458.3h0M284.4 459.1h0M284.5 500.8h0M284.5 483.4h0M284.6 491.3h0M284.7 483.8h0M284.7 486.3h0M284.9 434.8h0M285.0 487.4h0M285.0 488.6h0M285.1 406.3h0M285.1 497.8h0M285.2 484.9h0M285.3 416.5h0M285.5 495.4h0M285.5 486.6h0M285.6 491.4h0M285.7 498.9h0M285.8 500.3h0M285.8 488.0h0M285.9 424.1h0M285.9 484.9h0M286.0 480.1h0M286.0 478.4h0M286.1 474.1h0M286.2 494.2h0M286.2 474.9h0M286.3 485.7h0M286.5 485.7h0M286.6 490.1h0M286.6 467.7h0M286.7 468.9h0M286.7 477.4h0M287.0 483.2h0M287.0 482.1h0M287.1 490.0h0M287.3 472.1h0M287.3 499.4h0M287.4 494.9h0M287.4 469.8h0M287.5 457.0h0M287.6 501.0h0M287.7 497.0h0M287.7 484.9h0M287.8 488.6h0M287.8 476.2h0M287.9 480.3h0M287.9 498.7h0M288.0 482.5h0M288.0 478.0h0M288.1 462.8h0" stroke="#87ceeb" stroke-width="5.3" stroke-linecap="round" fill="none"/>
<rect x="285.6" y="494.7" width="44.9" height="26.0" fill="#bebebe"/>
<path d="M288.2 498.5h0M288.4 491.1h0M288.5 469.2h0M288.5 475.7h0M288.6 464.1h0M288.7 486.5h0M288.8 494.9h0M288.9 485.0h0M289.0 480.7h0M289.2 473.5h0M289.2 487.9h0M289.3 478.9h0M289.3 492.8h0M289.4 494.7h0M289.6 482.0h0M289.6 420.2h0M289.7 473.1h0M290.0 455.9h0M290.1 497.7h0M290.1 486.3h0M290.2 476.0h0M290.2 440.5h0M290.4 489.8h0M290.5 478.9h0M290.6 435.3h0M290.7 465.2h0M290.7 487.9h0M290.8 458.1h0M290.9 421.0h0M290.9 496.9h0M291.0 485.7h0M291.1 447.6h0M291.2 500.9h0M291.2 453.2h0M291.3 428.7h0M291.4 501.6h0M291.4 496.4h0M291.5 465.2h0M291.8 501.3h0M291.8 486.1h0M292.0 489.9h0M292.1 475.7h0M292.2 484.4h0M292.2 487.4h0M292.3 496.3h0M292.4 478.2h0M292.6 492.3h0M292.7 462.7h0M292.7 460.6h0M292.8 450.2h0M292.8 476.7h0M292.9 446.4h0M292.9 501.8h0M293.0 440.2h0M293.1 499.7h0M293.2 501.9h0M293.3 454.3h0M293.4 482.8h0M293.6 489.9h0M293.8 493.5h0M294.1 453.8h0M294.1 440.1h0M294.2 500.6h0M294.2 490.8h0M294.3 494.4h0M294.3 467.6h0M294.3 484.2h0M294.5 494.9h0M294.5 493.9h0M294.7 490.2h0M294.7 497.5h0M294.8 444.4h0M294.9 495.6h0M295.0 499.3h0M295.3 459.3h0M295.3 460.4h0M295.5 500.7h0M295.5 454.0h0M295.7 490.3h0M295.8 500.9h0M295.8 491.4h0M295.9 487.7h0M295.9 496.6h0M296.0 458.8h0M296.1 473.6h0M296.4 495.5h0M296.5 441.2h0M296.7 490.6h0M296.9 486.9h0M297.1 432.3h0M297.2 493.1h0M297.2 499.4h0M297.3 468.8h0M297.3 499.0h0M297.5 501.0h0M297.5 483.7h0M297.7 474.8h0M297.8 481.3h0M297.8 483.7h0M297.9 447.7h0M298.1 494.7h0M298.2 489.6h0M298.2 456.1h0M298.3 498.8h0M298.3 467.0h0M298.4 486.3h0M298.4 474.7h0M298.5 476.2h0M298.6 481.5h0M298.8 494.9h0M299.0 487.1h0M299.1 475.2h0M299.1 498.1h0M299.2 500.1h0M299.3 500.3h0M299.3 475.1h0M299.4 475.5h0M299.6 424.0h0M299.7 419.8h0M299.8 460.3h0M299.9 488.2h0M300.0 499.1h0M300.3 437.3h0M300.4 466.8h0M300.6 476.1h0M300.6 487.0h0M300.7 495.1h0M300.7 496.4h0M300.8 494.8h0M300.8 497.5h0M301.2 487.5h0M301.2 482.3h0M301.3 451.6h0M301.4 435.9h0M301.4 491.8h0M301.5 486.5h0M301.6 478.1h0M302.0 491.3h0M302.0 488.1h0M302.1 489.3h0M302.3 478.4h0M302.3 441.0h0M302.3 456.2h0M302.4 430.1h0M302.5 498.0h0M302.5 427.4h0M302.6 474.8h0M302.7 433.0h0M302.7 496.6h0M302.8 466.9h0M303.1 450.5h0M303.3 470.6h0M303.3 412.8h0M303.5 481.7h0M303.5 486.0h0M303.6 450.4h0M303.6 495.6h0M303.7 484.6h0M303.8 480.2h0M304.0 501.2h0M304.0 430.8h0M304.2 421.4h0M304.3 493.7h0M304.4 490.9h0M304.8 448.3h0M304.8 444.3h0M304.9 493.8h0M305.1 416.6h0M305.3 492.5h0M305.3 420.5h0M305.4 478.3h0M305.4 473.5h0M305.5 442.5h0M305.6 474.7h0M305.7 499.2h0M305.8 492.9h0M305.9 473.8h0M305.9 498.3h0M306.0 490.9h0M306.2 450.1h0M306.3 491.1h0M306.4 459.8h0M306.4 473.9h0M306.5 493.9h0M306.5 494.3h0M306.6 453.8h0M306.6 486.6h0M306.7 487.4h0M306.8 495.0h0M306.8 484.1h0M306.9 492.0h0M307.0 499.5h0M307.1 479.9h0M307.2 492.3h0M307.3 488.6h0M307.5 492.6h0M307.5 485.7h0M307.8 495.6h0M307.9 462.3h0M308.0 423.2h0M308.1 453.7h0M308.1 496.6h0M308.2 498.6h0M308.3 491.7h0M308.4 446.5h0M308.4 498.3h0M308.6 491.9h0M308.7 449.4h0M308.8 483.3h0M309.0 500.1h0M309.0 501.5h0M309.1 473.1h0M309.2 462.1h0M309.3 413.3h0M309.4 501.0h0M309.6 501.1h0M309.8 495.0h0M309.8 471.3h0M310.1 498.5h0M310.2 481.9h0M310.3 439.6h0M310.3 492.5h0M310.4 493.4h0M310.5 489.2h0M310.9 438.9h0M311.1 453.8h0M311.2 450.3h0M311.3 497.9h0M311.4 484.5h0M311.4 460.1h0M311.5 482.6h0M311.6 481.6h0M311.6 499.4h0M312.0 485.1h0M312.1 491.4h0M312.1 501.6h0M312.2 499.8h0M312.3 498.7h0M312.4 413.3h0M312.4 453.2h0M312.7 462.6h0M312.8 500.0h0M312.9 495.3h0M313.0 502.0h0M313.1 479.0h0M313.1 455.8h0M313.2 468.9h0M313.3 488.7h0M313.4 497.8h0M313.5 497.7h0M313.6 481.8h0M313.6 453.4h0M313.7 456.1h0M313.8 499.9h0M313.9 495.9h0M314.0 459.9h0M314.1 500.0h0M314.2 483.9h0M314.3 476.7h0M314.4 455.1h0M314.6 488.3h0M314.6 495.1h0M314.7 501.3h0M314.7 493.5h0M314.8 499.9h0M314.9 497.8h0M315.1 448.3h0M315.2 475.7h0M315.2 477.7h0M315.3 501.5h0M315.4 494.9h0M315.5 499.0h0M315.6 484.7h0M315.8 452.8h0M315.8 483.4h0M315.8 485.0h0M315.9 420.0h0M316.1 494.9h0M316.2 486.5h0M316.2 467.7h0M316.3 478.9h0M316.4 502.0h0M316.4 497.7h0M316.6 500.4h0M316.6 472.0h0M316.7 485.5h0M316.7 497.7h0M316.9 501.5h0M316.9 486.9h0M317.0 469.5h0M317.0 483.9h0M317.1 489.4h0M317.2 498.4h0M317.2 496.8h0M317.3 490.1h0M317.3 492.0h0M317.3 482.3h0M317.4 486.6h0M317.6 459.2h0M317.7 466.3h0M317.7 485.5h0M317.8 492.3h0M317.9 432.6h0M318.1 496.4h0M318.1 447.9h0M318.2 496.3h0M318.3 437.5h0M318.3 501.5h0M318.4 498.7h0M318.4 487.2h0M318.5 490.5h0M318.6 498.2h0M318.6 493.8h0M318.7 484.9h0M318.8 485.2h0M319.1 482.8h0M319.3 455.6h0M319.3 492.8h0M319.4 486.3h0M319.4 433.3h0M319.7 477.0h0M319.8 493.2h0M320.0 499.3h0M320.1 496.8h0M320.2 495.5h0M320.3 474.8h0M320.3 478.6h0M320.3 501.9h0M320.4 484.1h0M320.5 491.0h0M320.6 494.3h0M320.7 499.1h0M320.8 499.2h0M320.8 487.2h0M321.0 502.0h0M321.1 488.6h0M321.3 486.3h0M321.3 484.4h0M321.5 478.7h0M321.5 452.7h0M321.6 490.9h0M321.6 448.5h0M321.7 452.3h0M321.8 446.6h0M321.9 426.7h0M321.9 501.2h0M322.0 466.2h0M322.0 477.5h0M322.2 495.4h0M322.4 474.2h0M322.5 437.9h0M322.6 459.3h0M322.6 493.1h0M322.7 480.1h0M322.8 497.7h0M322.8 500.4h0M322.9 460.1h0M323.0 493.5h0M323.3 470.6h0M323.3 475.7h0M323.4 474.6h0M323.4 474.8h0M323.6 462.2h0M323.7 474.1h0M323.8 481.5h0M323.9 426.8h0M324.0 492.6h0M324.0 496.8h0M324.1 459.2h0M324.2 469.9h0M324.2 427.6h0M324.3 445.1h0M324.3 500.9h0M324.3 492.6h0M324.5 487.0h0M324.6 478.2h0M324.7 442.8h0M324.8 488.6h0M325.0 498.0h0M325.1 464.5h0M325.1 446.8h0M325.3 450.5h0M325.5 485.1h0M325.8 482.2h0M325.9 468.3h0M325.9 493.1h0M326.0 460.4h0M326.2 460.2h0M326.4 478.8h0M326.6 498.6h0M326.7 474.6h0M326.9 466.5h0M327.0 465.8h0M327.0 491.2h0M327.1 434.0h0M327.2 476.8h0M327.3 468.4h0M327.3 498.1h0M327.4 494.7h0M327.4 483.6h0M327.7 456.8h0M327.7 479.4h0M327.8 494.1h0" stroke="#bebebe" stroke-width="5.3" stroke-linecap="round" fill="none"/>
<rect x="325.2" y="494.7" width="43.3" height="26.0" fill="#87ceeb"/>
<path d="M327.9 448.6h0M328.0 499.4h0M328.0 500.6h0M328.1 485.3h0M328.3 473.9h0M328.3 483.2h0M328.4 443.0h0M328.5 477.9h0M328.7 484.7h0M328.8 467.0h0M328.8 480.3h0M328.9 454.8h0M329.0 479.5h0M329.1 493.1h0M329.3 492.3h0M329.4 501.9h0M329.4 488.0h0M329.5 495.3h0M329.5 496.5h0M329.6 487.4h0M329.6 491.6h0M329.7 500.6h0M329.7 477.7h0M329.8 492.2h0M329.8 468.4h0M330.0 409.1h0M330.1 501.1h0M330.2 479.0h0M330.2 489.1h0M330.3 494.5h0M330.3 492.8h0M330.4 499.2h0M330.4 491.3h0M330.5 486.8h0M330.7 495.2h0M330.9 463.2h0M331.1 485.9h0M331.2 485.0h0M331.4 429.0h0M331.5 501.2h0M331.5 481.8h0M331.6 483.6h0M331.8 479.3h0M331.8 432.4h0M331.9 498.1h0M331.9 453.5h0M332.0 469.7h0M332.1 466.7h0M332.1 486.5h0M332.2 460.1h0M332.3 419.1h0M332.5 479.0h0M332.6 492.3h0M332.6 475.3h0M332.7 481.7h0M332.8 501.9h0M332.9 492.7h0M333.1 476.8h0M333.1 469.6h0M333.2 499.9h0M333.3 482.4h0M333.3 489.9h0M333.4 467.6h0M333.5 425.3h0M333.7 459.5h0M333.8 475.3h0M333.8 492.8h0M334.0 453.9h0M334.1 501.1h0M334.2 464.8h0M334.3 480.3h0M334.3 487.6h0M334.3 499.9h0M334.4 467.6h0M334.5 444.5h0M334.7 499.8h0M334.7 479.4h0M334.8 484.3h0M334.8 474.7h0M334.9 481.8h0M335.0 486.2h0M335.1 432.0h0M335.3 495.3h0M335.3 420.5h0M335.5 492.2h0M335.6 482.5h0M335.6 488.3h0M335.7 498.7h0M335.8 501.5h0M335.8 497.8h0M336.0 481.3h0M336.1 485.4h0M336.3 422.2h0M336.4 434.1h0M336.5 452.1h0M336.7 445.0h0M336.8 467.2h0M336.8 499.5h0M337.0 440.8h0M337.0 500.7h0M337.1 498.9h0M337.1 471.2h0M337.2 451.4h0M337.3 483.8h0M337.3 472.4h0M337.4 468.3h0M337.6 457.0h0M337.8 441.9h0M337.8 491.0h0M337.9 459.7h0M338.0 490.2h0M338.1 491.4h0M338.2 490.3h0M338.3 488.7h0M338.3 436.9h0M338.4 499.5h0M338.4 481.5h0M338.6 498.8h0M338.8 468.0h0M338.9 458.8h0M339.0 485.2h0M339.2 487.9h0M339.2 456.4h0M339.3 500.4h0M339.3 417.2h0M339.3 493.2h0M339.9 500.9h0M340.1 498.3h0M340.2 428.1h0M340.3 494.0h0M340.4 457.0h0M340.7 495.2h0M340.8 472.1h0M340.8 479.0h0M341.0 407.1h0M341.1 499.1h0M341.6 496.0h0M341.6 482.8h0M341.7 480.8h0M341.7 483.2h0M341.9 456.0h0M342.0 468.5h0M342.0 500.7h0M342.1 446.8h0M342.2 462.6h0M342.2 477.9h0M342.3 469.7h0M342.5 445.6h0M342.6 444.6h0M342.8 499.7h0M342.9 486.7h0M342.9 501.0h0M343.0 487.8h0M343.2 443.4h0M343.3 451.6h0M343.3 481.0h0M343.4 500.0h0M343.9 488.6h0M344.0 486.0h0M344.1 456.9h0M344.1 491.8h0M344.2 485.7h0M344.2 494.9h0M344.3 474.4h0M344.3 475.4h0M344.4 455.3h0M344.4 485.4h0M344.7 441.4h0M344.7 487.8h0M344.8 494.4h0M344.8 473.2h0M344.9 494.7h0M344.9 461.6h0M345.0 495.8h0M345.1 492.7h0M345.3 459.1h0M345.3 485.9h0M345.4 496.6h0M345.5 405.4h0M345.7 458.2h0M345.9 501.5h0M346.0 414.7h0M346.1 468.9h0M346.2 496.0h0M346.3 483.1h0M346.3 482.5h0M346.4 491.2h0M346.6 482.4h0M346.8 501.4h0M346.8 496.2h0M346.9 453.8h0M347.0 493.6h0M347.1 490.3h0M347.2 478.5h0M347.3 482.4h0M347.4 495.1h0M347.5 413.1h0M347.5 444.5h0M347.6 484.3h0M347.6 486.7h0M347.7 498.8h0M347.7 449.1h0M347.8 447.8h0M347.9 458.8h0M348.0 498.4h0M348.1 426.1h0M348.6 497.1h0M348.6 498.0h0M348.8 495.6h0M348.8 439.8h0M348.8 488.4h0M348.9 481.4h0M348.9 493.7h0M349.0 492.0h0M349.0 490.6h0M349.1 456.6h0M349.1 478.0h0M349.3 481.2h0M349.4 483.2h0M349.8 484.7h0M349.8 486.5h0M349.9 489.8h0M349.9 497.0h0M350.0 450.6h0M350.1 432.7h0M350.2 499.6h0M350.3 499.8h0M350.4 457.5h0M350.6 463.0h0M350.7 483.4h0M350.9 481.0h0M350.9 497.9h0M351.0 475.4h0M351.1 495.6h0M351.2 493.1h0M351.3 472.4h0M351.5 484.4h0M351.6 497.5h0M351.7 489.2h0M351.7 497.3h0M351.8 497.4h0M351.8 498.1h0M352.0 468.6h0M352.1 470.0h0M352.3 489.7h0M352.3 490.4h0M352.3 498.4h0M352.5 487.9h0M352.6 447.8h0M352.7 482.6h0M352.8 494.3h0M352.9 497.2h0M353.0 469.3h0M353.1 453.5h0M353.2 456.5h0M353.4 488.4h0M353.6 492.0h0M353.7 454.7h0M353.7 490.1h0M353.8 476.7h0M353.8 490.8h0M353.9 474.0h0M353.9 478.7h0M354.1 499.4h0M354.2 501.5h0M354.3 492.8h0M354.3 490.1h0M354.4 474.1h0M354.5 496.6h0M354.5 489.7h0M354.7 496.1h0M354.7 435.3h0M354.8 493.9h0M354.9 486.2h0M354.9 500.2h0M355.0 493.7h0M355.2 498.2h0M355.2 418.4h0M355.3 494.1h0M355.4 499.8h0M355.5 499.8h0M355.6 484.3h0M355.6 453.1h0M355.7 495.1h0M355.8 500.5h0M355.8 434.0h0M355.9 497.8h0M356.0 485.0h0M356.1 473.0h0M356.2 492.5h0M356.3 499.3h0M356.4 419.9h0M356.5 497.5h0M356.6 471.0h0M356.7 473.5h0M356.8 489.3h0M356.9 496.6h0M357.0 496.6h0M357.1 433.6h0M357.2 498.5h0M357.3 498.0h0M357.4 440.1h0M357.4 494.3h0M357.5 488.4h0M357.5 482.2h0M357.6 470.2h0M357.7 477.3h0M357.7 459.3h0M357.8 475.8h0M357.8 496.7h0M357.9 489.8h0M358.4 456.6h0M358.6 492.3h0M358.7 480.2h0M358.8 464.3h0M358.9 486.9h0M359.0 464.8h0M359.0 499.5h0M359.2 470.4h0M359.4 449.9h0M359.5 463.1h0M359.6 486.1h0M359.6 484.6h0M359.7 470.6h0M359.8 474.3h0M359.9 478.0h0M359.9 468.2h0M359.9 497.2h0M360.0 459.6h0M360.1 499.4h0M360.1 455.2h0M360.2 491.2h0M360.2 487.6h0M360.3 489.6h0M360.3 495.9h0M360.4 480.5h0M360.4 487.8h0M360.5 498.7h0M361.0 500.8h0M361.1 472.6h0M361.1 491.4h0M361.2 487.1h0M361.2 421.5h0M361.3 481.7h0M361.4 482.9h0M361.4 466.2h0M361.5 440.7h0M361.7 476.0h0M361.8 481.4h0M361.8 492.2h0M361.9 502.0h0M361.9 482.3h0M362.0 499.4h0M362.1 498.8h0M362.1 475.5h0M362.4 469.7h0M362.4 473.3h0M362.5 494.4h0M362.7 501.5h0M362.9 495.1h0M363.1 486.9h0M363.1 472.6h0M363.2 471.3h0M363.3 482.0h0M363.3 484.9h0M363.4 488.8h0M363.4 492.7h0M363.5 465.7h0M363.7 488.5h0M363.8 413.3h0M363.8 492.1h0M363.9 461.1h0M364.0 470.5h0M364.0 449.1h0M364.1 499.5h0M364.1 471.4h0M364.2 485.3h0M364.3 445.9h0M364.3 474.4h0M364.4 469.9h0M364.5 497.5h0M364.7 494.8h0M364.7 498.4h0M364.8 481.9h0M364.9 477.2h0M365.0 462.5h0M365.1 438.7h0M365.1 445.9h0M365.2 483.1h0M365.2 480.9h0M365.3 455.2h0M365.3 480.8h0M365.4 502.0h0M365.5 482.8h0M365.5 501.4h0M365.6 487.9h0M365.6 466.1h0M365.8 492.6h0M365.8 489.8h0M365.9 499.8h0" stroke="#87ceeb" stroke-width="5.3" stroke-linecap="round" fill="none"/>
<rect x="363.2" y="494.7" width="40.2" height="26.0" fill="#bebebe"/>
<path d="M365.9 450.2h0M366.3 478.9h0M366.3 493.1h0M366.5 501.0h0M366.5 501.1h0M366.6 472.1h0M366.7 473.5h0M366.7 489.8h0M366.9 444.1h0M367.0 436.2h0M367.2 474.9h0M367.3 423.6h0M367.4 487.9h0M367.5 458.5h0M367.6 425.9h0M367.8 495.4h0M367.9 484.9h0M367.9 488.1h0M368.0 477.6h0M368.1 491.2h0M368.4 483.2h0M368.5 469.5h0M368.6 489.1h0M368.7 491.7h0M368.8 467.6h0M368.8 491.7h0M368.9 431.4h0M369.1 469.9h0M369.2 458.4h0M369.5 491.3h0M369.6 446.4h0M369.7 485.6h0M369.7 473.5h0M369.8 456.1h0M369.8 472.0h0M369.9 455.6h0M370.0 447.8h0M370.1 483.1h0M370.2 487.3h0M370.3 471.8h0M370.3 475.5h0M370.4 497.8h0M370.5 495.5h0M370.5 460.0h0M370.7 500.2h0M370.8 488.3h0M370.9 466.6h0M371.0 471.4h0M371.1 444.0h0M371.2 490.3h0M371.3 456.6h0M371.3 495.3h0M371.4 463.6h0M371.4 479.7h0M371.4 437.0h0M371.5 498.6h0M371.5 482.3h0M371.6 488.7h0M371.6 488.0h0M371.7 492.6h0M371.9 464.8h0M372.1 490.8h0M372.2 454.8h0M372.2 469.1h0M372.3 434.3h0M372.4 476.5h0M372.4 489.7h0M372.5 496.5h0M372.6 481.4h0M372.7 495.0h0M372.9 444.5h0M373.2 479.5h0M373.3 490.1h0M373.4 494.4h0M373.4 473.1h0M373.6 474.3h0M373.7 479.8h0M373.8 478.7h0M373.9 490.9h0M374.0 470.5h0M374.0 497.8h0M374.1 489.3h0M374.1 494.9h0M374.2 424.6h0M374.3 482.2h0M374.4 494.1h0M374.5 500.1h0M374.6 488.9h0M374.7 429.0h0M374.7 493.1h0M374.9 458.5h0M375.1 463.7h0M375.3 489.1h0M375.4 496.6h0M375.4 502.0h0M375.5 486.3h0M375.6 452.7h0M375.6 491.0h0M375.9 490.9h0M375.9 422.4h0M376.0 490.6h0M376.2 485.4h0M376.3 482.8h0M376.4 500.7h0M376.6 493.1h0M376.6 495.0h0M376.8 449.7h0M376.9 426.5h0M376.9 472.4h0M377.0 495.9h0M377.1 438.3h0M377.1 485.1h0M377.4 477.4h0M377.4 447.7h0M377.5 488.7h0M377.6 480.5h0M377.7 481.8h0M377.8 468.0h0M377.8 473.6h0M378.0 460.7h0M378.1 423.9h0M378.2 460.7h0M378.3 500.0h0M378.4 457.2h0M378.5 466.3h0M378.6 466.6h0M378.6 495.5h0M378.7 470.9h0M378.9 501.6h0M378.9 481.9h0M379.3 403.1h0M379.3 499.3h0M379.4 490.5h0M379.4 491.0h0M379.5 497.3h0M379.5 446.4h0M379.6 466.9h0M379.7 492.7h0M379.9 475.0h0M380.0 457.8h0M380.2 455.3h0M380.2 425.1h0M380.3 483.6h0M380.4 499.7h0M380.4 482.6h0M380.5 443.9h0M380.7 492.5h0M380.9 489.3h0M381.1 488.6h0M381.2 474.8h0M381.3 473.7h0M381.4 491.3h0M381.6 451.8h0M381.8 487.1h0M381.9 500.9h0M381.9 501.7h0M382.0 488.2h0M382.1 497.7h0M382.3 446.8h0M382.4 497.8h0M382.6 478.6h0M382.7 498.7h0M382.7 497.0h0M382.8 486.2h0M382.9 496.8h0M382.9 456.7h0M383.0 458.2h0M383.1 499.4h0M383.2 458.9h0M383.3 494.2h0M383.4 487.0h0M383.4 469.1h0M383.5 491.9h0M383.6 483.5h0M384.2 480.2h0M384.2 481.4h0M384.3 467.4h0M384.4 477.7h0M384.4 492.6h0M384.5 499.9h0M384.5 420.5h0M384.6 489.0h0M384.7 476.6h0M384.7 452.6h0M384.8 468.4h0M384.9 489.2h0M384.9 457.3h0M384.9 488.3h0M385.0 472.6h0M385.1 474.3h0M385.2 473.8h0M385.2 494.9h0M385.3 474.1h0M385.4 453.3h0M385.5 488.6h0M385.5 483.9h0M385.6 493.2h0M385.6 485.7h0M385.8 491.5h0M385.8 488.3h0M385.9 476.7h0M385.9 489.3h0M385.9 498.3h0M386.1 479.2h0M386.3 463.9h0M386.4 487.1h0M386.4 462.9h0M386.6 455.4h0M386.8 500.1h0M386.8 466.9h0M386.9 473.6h0M387.0 488.0h0M387.1 440.1h0M387.2 487.5h0M387.2 497.5h0M387.3 477.5h0M387.4 496.1h0M387.5 487.7h0M387.6 501.1h0M387.6 487.8h0M387.7 494.8h0M387.9 499.5h0M387.9 458.1h0M387.9 496.7h0M388.0 488.3h0M388.1 500.4h0M388.1 474.2h0M388.2 472.9h0M388.3 491.5h0M388.3 469.2h0M388.4 424.9h0M388.4 493.6h0M388.5 491.9h0M388.6 494.9h0M388.7 488.9h0M388.9 497.8h0M388.9 469.9h0M389.0 480.4h0M389.1 480.7h0M389.2 445.7h0M389.4 499.1h0M389.5 468.9h0M389.6 492.6h0M389.7 498.7h0M389.8 476.1h0M389.9 483.6h0M390.0 488.8h0M390.1 488.3h0M390.1 501.9h0M390.2 461.9h0M390.3 488.3h0M390.4 484.7h0M390.4 480.4h0M390.5 477.1h0M390.6 487.2h0M390.7 480.5h0M390.8 496.2h0M390.8 456.9h0M390.9 494.8h0M390.9 424.0h0M390.9 498.6h0M391.0 461.0h0M391.1 440.6h0M391.2 496.5h0M391.3 486.4h0M391.4 437.6h0M391.5 494.7h0M391.5 485.2h0M391.6 480.0h0M391.8 496.4h0M391.9 462.1h0M391.9 448.4h0M392.0 493.0h0M392.1 499.0h0M392.2 451.5h0M392.4 426.5h0M392.4 448.7h0M392.4 493.1h0M392.5 466.8h0M392.5 499.4h0M392.6 489.8h0M392.8 491.2h0M392.9 500.5h0M392.9 500.1h0M393.0 497.8h0M393.1 483.2h0M393.2 473.4h0M393.3 499.9h0M393.3 447.4h0M393.4 471.0h0M393.4 477.2h0M393.5 473.0h0M393.6 501.3h0M393.6 498.7h0M393.7 441.3h0M393.7 479.6h0M393.9 488.9h0M394.0 468.7h0M394.1 477.6h0M394.3 497.3h0M394.3 479.2h0M394.4 489.6h0M394.4 456.0h0M394.4 479.6h0M394.5 490.2h0M394.6 485.4h0M394.6 485.3h0M394.7 485.5h0M394.8 473.2h0M394.9 440.5h0M394.9 461.1h0M395.0 467.0h0M395.0 475.4h0M395.1 485.9h0M395.2 488.8h0M395.2 500.0h0M395.3 475.1h0M395.4 472.3h0M395.4 495.8h0M395.4 489.2h0M395.5 469.2h0M395.5 449.3h0M395.6 492.6h0M395.8 473.0h0M395.9 502.0h0M396.1 460.6h0M396.2 499.2h0M396.3 478.3h0M396.4 472.6h0M396.6 501.7h0M396.6 448.9h0M396.7 440.6h0M396.7 490.6h0M396.8 491.3h0M396.8 454.7h0M396.9 474.0h0M396.9 486.7h0M397.0 481.5h0M397.1 487.4h0M397.2 473.0h0M397.2 430.6h0M397.3 494.6h0M397.4 499.6h0M397.5 493.4h0M397.6 496.3h0M397.7 451.3h0M397.7 491.6h0M397.8 419.4h0M397.8 484.9h0M397.9 491.1h0M397.9 477.7h0M398.0 472.9h0M398.1 495.0h0M398.3 457.1h0M398.4 483.7h0M398.4 485.7h0M398.5 474.1h0M398.5 496.9h0M398.6 495.7h0M398.6 487.1h0M398.7 430.9h0M398.7 493.7h0M398.9 496.8h0M399.0 494.8h0M399.0 436.7h0M399.1 448.3h0M399.3 478.4h0M399.4 484.0h0M399.7 480.0h0M399.8 489.9h0M399.8 472.3h0M399.9 447.0h0M399.9 496.4h0M399.9 445.9h0M400.0 465.0h0M400.1 461.6h0M400.3 475.5h0M400.4 477.1h0M400.5 496.8h0M400.7 455.3h0" stroke="#bebebe" stroke-width="5.3" stroke-linecap="round" fill="none"/>
<rect x="398.2" y="494.7" width="40.0" height="26.0" fill="#87ceeb"/>
<path d="M400.8 496.0h0M400.9 499.9h0M401.0 475.5h0M401.3 465.1h0M401.3 440.7h0M401.4 487.2h0M401.4 496.2h0M401.5 454.3h0M401.7 499.2h0M401.8 489.3h0M401.8 474.3h0M402.0 498.2h0M402.1 487.2h0M402.1 474.1h0M402.2 493.5h0M402.4 457.0h0M402.5 469.2h0M402.6 497.3h0M402.6 471.6h0M402.7 477.9h0M402.8 469.6h0M402.9 484.7h0M403.1 441.0h0M403.2 449.8h0M403.2 452.6h0M403.3 472.3h0M403.3 441.4h0M403.4 490.4h0M403.4 496.2h0M403.5 489.6h0M403.5 487.4h0M403.6 479.1h0M403.6 490.3h0M403.8 462.3h0M403.9 482.7h0M403.9 495.7h0M404.0 501.8h0M404.1 495.0h0M404.1 500.3h0M404.2 471.6h0M404.3 496.8h0M404.5 473.6h0M404.5 491.6h0M404.8 468.9h0M404.8 489.7h0M404.9 475.2h0M404.9 494.2h0M405.0 481.5h0M405.1 493.1h0M405.1 451.7h0M405.3 477.8h0M405.4 479.1h0M405.5 499.5h0M405.5 469.2h0M405.6 474.4h0M405.7 484.7h0M405.9 492.6h0M405.9 500.2h0M405.9 453.5h0M406.0 480.5h0M406.0 495.1h0M406.1 494.6h0M406.2 485.7h0M406.4 494.1h0M406.9 487.8h0M407.1 485.6h0M407.1 488.3h0M407.2 482.4h0M407.3 493.6h0M407.4 489.7h0M407.4 476.6h0M407.5 447.8h0M407.5 490.7h0M407.6 501.7h0M407.6 490.4h0M407.7 502.0h0M407.7 429.2h0M407.8 460.7h0M407.8 473.0h0M407.9 445.6h0M408.0 470.9h0M408.0 487.9h0M408.4 498.1h0M408.4 477.8h0M408.5 440.2h0M408.6 444.4h0M408.7 484.6h0M408.7 499.6h0M408.8 428.4h0M408.9 469.6h0M409.0 438.0h0M409.0 497.0h0M409.1 487.2h0M409.2 491.5h0M409.3 463.4h0M409.4 409.8h0M409.4 486.4h0M409.5 498.9h0M409.6 464.1h0M409.7 479.4h0M409.8 491.3h0M410.0 461.6h0M410.1 429.8h0M410.1 498.5h0M410.2 485.4h0M410.2 498.0h0M410.3 486.1h0M410.4 493.1h0M410.5 495.1h0M410.6 488.7h0M410.6 448.3h0M410.8 490.0h0M410.9 467.8h0M410.9 481.1h0M411.0 496.0h0M411.1 430.9h0M411.1 446.5h0M411.2 499.9h0M411.3 497.2h0M411.3 497.4h0M411.4 496.1h0M411.4 500.7h0M411.5 430.0h0M411.7 499.3h0M411.8 428.6h0M411.9 420.0h0M411.9 479.0h0M412.0 461.0h0M412.1 491.7h0M412.1 481.0h0M412.2 460.1h0M412.3 478.9h0M412.7 478.0h0M412.7 500.6h0M412.9 450.6h0M413.0 457.3h0M413.1 464.9h0M413.1 501.2h0M413.2 498.4h0M413.3 454.3h0M413.4 459.3h0M413.4 494.6h0M413.5 476.3h0M413.6 502.0h0M413.7 469.3h0M413.8 443.8h0M413.9 485.2h0M413.9 493.8h0M414.0 473.1h0M414.2 498.8h0M414.3 444.7h0M414.4 488.0h0M414.5 472.5h0M414.6 440.5h0M414.7 484.5h0M414.8 499.3h0M414.8 479.5h0M415.0 498.3h0M415.1 499.3h0M415.2 501.7h0M415.4 495.3h0M415.4 495.2h0M415.5 447.1h0M415.6 500.5h0M415.6 492.0h0M415.7 460.9h0M415.8 500.0h0M415.8 475.8h0M415.9 484.7h0M415.9 453.8h0M416.0 494.3h0M416.0 478.1h0M416.1 501.9h0M416.1 445.5h0M416.2 487.8h0M416.3 462.8h0M416.3 485.1h0M416.4 496.7h0M416.5 501.5h0M416.8 468.3h0M416.8 462.8h0M416.9 501.8h0M417.0 500.2h0M417.1 500.4h0M417.2 479.0h0M417.3 459.8h0M417.3 459.3h0M417.4 468.0h0M417.5 497.1h0M417.6 491.6h0M417.8 497.1h0M417.8 460.1h0M417.9 456.7h0M418.0 495.0h0M418.0 492.6h0M418.1 484.8h0M418.2 480.7h0M418.4 489.0h0M418.5 417.1h0M418.5 494.5h0M418.6 476.4h0M418.7 474.2h0M418.8 495.9h0M419.0 468.5h0M419.0 413.5h0M419.1 462.8h0M419.3 455.9h0M419.5 486.2h0M419.6 476.1h0M419.9 499.6h0M420.0 476.5h0M420.2 500.2h0M420.4 500.9h0M420.7 495.6h0M420.9 463.3h0M421.0 463.7h0M421.1 493.2h0M421.2 468.6h0M421.3 483.7h0M421.3 468.1h0M421.4 476.3h0M421.5 494.9h0M421.5 495.3h0M421.5 478.9h0M421.6 501.9h0M421.7 478.6h0M421.8 405.5h0M422.0 480.5h0M422.1 493.2h0M422.3 478.3h0M422.4 491.4h0M422.5 449.9h0M422.6 492.8h0M422.8 494.5h0M423.0 491.4h0M423.0 491.5h0M423.1 494.1h0M423.2 465.9h0M423.2 439.0h0M423.3 409.2h0M423.3 450.0h0M423.4 452.3h0M423.5 464.2h0M423.6 482.4h0M423.8 496.3h0M423.8 494.4h0M423.9 475.7h0M424.0 460.1h0M424.1 475.7h0M424.3 499.1h0M424.4 468.0h0M424.5 478.8h0M424.6 492.1h0M424.9 482.7h0M425.0 501.5h0M425.1 486.7h0M425.1 471.0h0M425.2 480.5h0M425.3 487.5h0M425.3 500.9h0M425.4 479.8h0M425.4 494.4h0M425.5 480.7h0M425.5 484.5h0M425.7 498.8h0M426.0 500.9h0M426.0 438.4h0M426.0 492.5h0M426.1 480.2h0M426.3 470.1h0M426.5 457.7h0M426.5 501.1h0M426.5 489.0h0M426.6 495.2h0M426.7 491.4h0M426.8 467.5h0M426.8 477.4h0M427.0 473.3h0M427.0 476.0h0M427.5 494.8h0M427.5 493.1h0M427.6 501.1h0M427.7 427.3h0M427.7 480.5h0M427.9 499.5h0M428.0 487.1h0M428.1 414.7h0M428.2 484.6h0M428.2 485.4h0M428.3 486.8h0M428.3 500.3h0M428.4 491.8h0M428.4 477.3h0M428.5 474.9h0M428.6 485.5h0M429.0 460.5h0M429.0 468.0h0M429.1 408.5h0M429.2 489.1h0M429.3 492.6h0M429.4 486.6h0M429.7 493.2h0M429.8 480.4h0M429.8 494.6h0M429.9 457.0h0M429.9 491.7h0M430.0 449.6h0M430.0 497.1h0M430.1 459.0h0M430.2 478.5h0M430.3 477.6h0M430.5 501.1h0M430.5 481.9h0M430.6 493.9h0M430.7 474.5h0M430.8 501.1h0M430.8 501.9h0M431.0 501.4h0M431.0 498.4h0M431.1 454.8h0M431.2 498.1h0M431.4 485.9h0M431.6 493.6h0M431.7 488.6h0M431.8 457.7h0M431.9 448.0h0M432.0 449.5h0M432.2 455.9h0M432.2 422.2h0M432.3 494.6h0M432.5 463.8h0M432.7 466.8h0M432.9 474.1h0M433.0 486.7h0M433.0 497.9h0M433.1 404.8h0M433.1 472.4h0M433.2 433.6h0M433.2 493.9h0M433.4 460.8h0M433.5 501.0h0M433.5 490.8h0M433.6 473.3h0M433.7 471.5h0M433.7 486.4h0M433.9 474.0h0M434.1 493.2h0M434.2 500.3h0M434.2 488.3h0M434.3 467.2h0M434.4 473.2h0M434.5 468.4h0M434.5 481.0h0M434.6 490.6h0M434.7 496.8h0M434.8 414.4h0M434.9 405.6h0M435.0 476.4h0M435.0 489.4h0M435.1 463.4h0M435.2 500.6h0M435.3 496.0h0M435.3 498.9h0M435.5 500.1h0" stroke="#87ceeb" stroke-width="5.3" stroke-linecap="round" fill="none"/>
<rect x="432.9" y="494.7" width="38.3" height="26.0" fill="#bebebe"/>
<path d="M435.6 464.4h0M435.7 480.2h0M435.8 456.3h0M435.9 501.5h0M436.1 497.0h0M436.2 476.7h0M436.2 450.7h0M436.3 485.9h0M436.4 489.0h0M436.6 498.0h0M436.6 500.5h0M436.7 471.7h0M436.9 480.2h0M437.0 477.9h0M437.1 455.4h0M437.1 499.1h0M437.2 460.2h0M437.2 495.2h0M437.3 474.6h0M437.3 496.4h0M437.4 492.4h0M437.5 448.4h0M437.5 499.8h0M437.7 415.7h0M437.7 493.9h0M437.8 496.2h0M437.8 479.5h0M437.9 467.4h0M438.0 500.8h0M438.0 445.0h0M438.2 481.3h0M438.3 488.6h0M438.3 476.2h0M438.4 465.5h0M438.6 497.5h0M438.6 453.4h0M438.7 473.8h0M438.8 500.7h0M438.8 498.3h0M438.9 487.8h0M439.0 488.6h0M439.3 489.0h0M439.4 492.8h0M439.5 492.8h0M439.6 469.6h0M439.7 494.2h0M439.7 480.6h0M439.9 498.4h0M439.9 468.1h0M440.0 486.3h0M440.1 492.0h0M440.1 494.0h0M440.2 489.2h0M440.4 466.6h0M440.5 492.9h0M440.6 469.1h0M441.0 456.6h0M441.0 481.8h0M441.0 494.4h0M441.1 460.5h0M441.4 472.8h0M441.5 481.2h0M441.6 492.8h0M441.6 487.3h0M441.7 468.8h0M441.9 482.1h0M441.9 462.9h0M442.0 480.2h0M442.0 452.8h0M442.0 479.4h0M442.1 490.5h0M442.1 459.5h0M442.2 485.4h0M442.3 458.4h0M442.4 490.0h0M442.5 499.7h0M442.5 480.5h0M442.6 434.0h0M442.6 498.9h0M442.7 474.6h0M442.8 453.6h0M442.9 470.6h0M443.0 496.6h0M443.1 492.9h0M443.1 463.5h0M443.2 468.7h0M443.6 487.0h0M443.6 501.2h0M443.7 480.7h0M443.9 480.7h0M444.1 501.5h0M444.1 496.1h0M444.3 495.3h0M444.5 498.4h0M444.7 447.9h0M444.7 495.9h0M444.8 502.0h0M444.9 493.9h0M445.0 474.1h0M445.0 465.1h0M445.2 496.7h0M445.4 495.8h0M445.4 485.9h0M445.5 484.8h0M445.5 484.8h0M445.6 457.3h0M445.6 464.4h0M445.7 498.1h0M445.8 489.9h0M445.8 492.0h0M445.9 455.0h0M446.0 457.5h0M446.0 498.4h0M446.1 486.6h0M446.2 501.7h0M446.2 494.6h0M446.4 450.8h0M446.5 495.0h0M446.5 464.3h0M446.6 500.3h0M446.6 460.2h0M446.7 491.1h0M446.8 488.3h0M446.8 485.4h0M446.9 486.5h0M447.1 497.0h0M447.2 501.8h0M447.2 487.7h0M447.3 493.5h0M447.4 486.3h0M447.6 468.5h0M447.6 499.4h0M447.7 489.4h0M447.7 461.6h0M447.9 499.6h0M448.0 484.9h0M448.1 481.9h0M448.2 488.9h0M448.3 488.3h0M448.3 481.5h0M448.5 488.5h0M448.5 485.5h0M448.7 462.5h0M448.9 459.4h0M448.9 486.5h0M449.0 489.0h0M449.0 494.6h0M449.2 417.4h0M449.5 495.9h0M449.5 475.3h0M449.6 442.8h0M449.8 497.8h0M449.8 487.1h0M449.9 488.0h0M450.0 501.5h0M450.0 485.1h0M450.1 494.1h0M450.1 497.1h0M450.2 493.7h0M450.3 476.6h0M450.4 468.5h0M450.6 493.4h0M450.7 482.3h0M450.9 490.9h0M451.0 459.7h0M451.3 447.9h0M451.4 499.7h0M451.5 464.2h0M451.5 495.4h0M451.6 462.0h0M451.8 496.4h0M451.9 500.4h0M452.0 490.4h0M452.1 501.9h0M452.1 462.0h0M452.2 482.6h0M452.3 495.2h0M452.5 492.0h0M452.7 480.0h0M452.7 462.6h0M452.8 462.7h0M452.9 485.8h0M453.0 467.3h0M453.0 472.9h0M453.1 499.5h0M453.2 493.2h0M453.2 479.6h0M453.3 498.6h0M453.4 472.1h0M453.6 498.5h0M453.8 490.4h0M453.8 475.4h0M453.9 483.5h0M453.9 486.3h0M454.1 488.0h0M454.2 494.7h0M454.3 490.6h0M454.5 488.9h0M454.8 495.5h0M454.8 462.6h0M454.9 482.5h0M455.0 421.8h0M455.0 458.3h0M455.4 497.5h0M455.6 485.1h0M455.7 500.8h0M455.8 486.1h0M455.8 492.1h0M455.9 475.3h0M456.1 472.6h0M456.2 475.6h0M456.3 472.1h0M456.4 483.8h0M456.5 489.8h0M456.5 498.9h0M456.7 501.4h0M456.9 488.6h0M457.0 481.6h0M457.0 467.0h0M457.1 483.4h0M457.2 467.0h0M457.3 496.9h0M457.3 492.8h0M457.4 426.1h0M457.5 466.4h0M457.5 470.0h0M457.6 487.6h0M457.7 487.5h0M457.7 448.1h0M457.8 495.4h0M457.9 458.7h0M458.0 475.6h0M458.0 496.4h0M458.1 501.4h0M458.4 482.3h0M458.5 495.2h0M458.5 490.6h0M458.7 452.3h0M458.9 492.2h0M459.1 491.6h0M459.3 471.5h0M459.3 469.6h0M459.5 498.7h0M459.8 493.8h0M459.8 488.9h0M459.9 482.6h0M460.0 461.4h0M460.1 475.6h0M460.1 501.8h0M460.3 412.8h0M460.4 474.8h0M460.5 436.7h0M460.5 473.6h0M460.7 413.1h0M460.9 481.7h0M460.9 495.7h0M461.0 488.2h0M461.0 462.6h0M461.0 483.4h0M461.2 496.4h0M461.2 502.0h0M461.4 463.2h0M461.4 486.4h0M461.6 480.4h0M461.6 461.1h0M461.7 467.8h0M461.8 488.2h0M462.0 475.4h0M462.0 403.0h0M462.3 471.1h0M462.4 440.2h0M462.5 496.3h0M462.7 428.1h0M462.9 494.3h0M462.9 499.9h0M463.0 495.4h0M463.1 474.2h0M463.2 493.9h0M463.2 450.0h0M463.3 462.8h0M463.4 480.4h0M463.5 498.5h0M463.5 448.8h0M463.6 486.6h0M463.6 501.5h0M463.8 437.5h0M463.8 457.6h0M463.9 493.5h0M464.0 497.4h0M464.0 423.1h0M464.1 452.1h0M464.1 495.7h0M464.2 501.2h0M464.2 486.2h0M464.3 413.6h0M464.4 478.8h0M464.5 501.1h0M464.5 481.2h0M464.5 481.9h0M464.6 497.5h0M464.7 486.1h0M464.8 446.9h0M464.9 502.0h0M464.9 469.6h0M465.0 498.9h0M465.1 489.6h0M465.1 492.5h0M465.2 442.9h0M465.2 485.5h0M465.4 481.6h0M465.4 470.4h0M465.5 498.4h0M465.8 485.9h0M465.9 469.8h0M466.0 443.9h0M466.0 492.8h0M466.2 493.1h0M466.4 478.7h0M466.4 491.0h0M466.5 494.3h0M466.6 494.6h0M466.6 495.6h0M466.7 498.3h0M466.7 484.0h0M466.8 495.1h0M466.9 493.5h0M467.1 487.3h0M467.1 497.9h0M467.2 464.1h0M467.3 458.2h0M467.3 483.7h0M467.4 499.2h0M467.5 484.9h0M467.5 480.3h0M467.6 449.4h0M467.6 482.1h0M467.7 472.9h0M467.8 492.8h0M467.9 404.7h0M467.9 416.5h0M468.0 485.8h0M468.1 500.6h0M468.2 481.8h0M468.5 479.1h0M468.5 477.2h0" stroke="#bebebe" stroke-width="5.3" stroke-linecap="round" fill="none"/>
<rect x="465.9" y="494.7" width="36.9" height="26.0" fill="#87ceeb"/>
<path d="M468.6 499.6h0M468.6 473.3h0M468.7 414.7h0M468.8 473.4h0M468.9 466.1h0M469.0 475.2h0M469.0 457.6h0M469.1 477.7h0M469.3 491.0h0M469.4 495.9h0M469.8 496.7h0M469.8 488.2h0M469.9 491.9h0M470.0 421.6h0M470.0 497.9h0M470.0 468.1h0M470.1 493.9h0M470.1 498.9h0M470.4 464.7h0M470.4 466.2h0M470.5 495.3h0M470.5 483.8h0M470.6 489.2h0M470.8 498.8h0M471.0 501.3h0M471.0 432.4h0M471.0 478.7h0M471.1 501.0h0M471.3 497.0h0M471.4 497.3h0M471.6 491.9h0M471.7 429.7h0M471.8 466.6h0M471.9 499.5h0M472.0 456.4h0M472.1 488.2h0M472.2 501.3h0M472.4 492.6h0M472.4 484.8h0M472.5 488.2h0M472.5 486.6h0M472.5 465.1h0M472.6 495.5h0M472.7 499.0h0M472.7 478.0h0M472.8 500.8h0M472.9 489.2h0M473.0 494.6h0M473.1 455.0h0M473.1 476.7h0M473.2 499.3h0M473.3 484.2h0M473.3 460.0h0M473.4 487.8h0M473.4 499.6h0M473.5 496.4h0M473.6 490.8h0M473.8 476.8h0M473.9 470.9h0M474.0 500.9h0M474.0 474.3h0M474.0 481.2h0M474.1 466.7h0M474.1 487.7h0M474.2 430.8h0M474.3 437.6h0M474.3 450.0h0M474.4 460.3h0M474.4 490.3h0M474.7 457.6h0M474.8 500.1h0M474.9 500.0h0M474.9 482.8h0M475.1 423.2h0M475.3 469.9h0M475.4 490.0h0M475.5 499.8h0M475.5 473.9h0M475.6 453.2h0M475.6 480.5h0M475.7 483.4h0M475.8 494.1h0M475.8 499.5h0M475.9 500.9h0M476.0 478.0h0M476.0 470.8h0M476.1 493.4h0M476.1 452.2h0M476.2 496.6h0M476.2 445.2h0M476.3 489.7h0M476.4 470.5h0M476.5 492.1h0M476.5 479.2h0M476.6 440.1h0M476.6 476.0h0M476.7 492.8h0M476.8 496.6h0M477.0 492.3h0M477.1 487.0h0M477.1 491.1h0M477.3 443.8h0M477.3 496.0h0M477.4 471.5h0M477.5 496.5h0M477.5 449.3h0M477.6 466.5h0M477.7 501.6h0M477.8 476.8h0M477.8 496.0h0M477.9 486.8h0M478.0 497.4h0M478.1 489.8h0M478.1 493.8h0M478.2 485.1h0M478.3 471.8h0M478.4 492.2h0M478.5 469.9h0M478.5 468.3h0M478.5 482.3h0M478.7 499.9h0M478.8 498.1h0M478.9 488.0h0M478.9 496.7h0M479.0 498.0h0M479.0 478.2h0M479.2 450.3h0M479.3 494.7h0M479.3 408.7h0M479.5 480.8h0M479.5 491.0h0M479.6 471.3h0M479.6 500.4h0M479.7 486.2h0M479.8 483.8h0M479.9 467.3h0M480.0 497.7h0M480.0 497.5h0M480.1 473.4h0M480.1 469.2h0M480.3 483.7h0M480.4 468.3h0M480.5 483.8h0M480.6 447.3h0M480.6 492.9h0M480.7 458.9h0M480.7 474.6h0M480.8 454.1h0M480.8 498.1h0M480.9 476.1h0M481.1 419.3h0M481.1 485.4h0M481.2 492.3h0M481.3 484.7h0M481.4 496.4h0M481.5 496.7h0M481.6 493.7h0M481.7 499.6h0M481.7 489.6h0M481.8 465.8h0M482.0 498.9h0M482.0 501.7h0M482.1 482.6h0M482.2 410.1h0M482.3 481.6h0M482.3 454.7h0M482.4 432.2h0M482.5 413.4h0M482.6 483.0h0M482.6 487.6h0M482.7 490.5h0M482.7 465.0h0M482.8 474.4h0M482.8 434.0h0M482.9 490.2h0M482.9 467.6h0M483.0 459.6h0M483.0 472.3h0M483.3 500.9h0M483.3 475.2h0M483.4 458.2h0M483.5 501.2h0M483.5 501.5h0M483.6 442.3h0M483.6 479.2h0M483.7 437.4h0M483.8 462.8h0M484.1 475.8h0M484.1 482.5h0M484.2 492.8h0M484.3 439.8h0M484.4 487.4h0M484.4 498.7h0M484.5 463.1h0M484.6 496.1h0M484.7 444.7h0M484.8 474.9h0M485.0 453.8h0M485.1 491.7h0M485.2 470.5h0M485.2 451.7h0M485.3 499.9h0M485.4 488.0h0M485.5 486.6h0M485.6 491.6h0M485.9 479.8h0M486.1 490.4h0M486.1 482.5h0M486.2 488.3h0M486.2 481.2h0M486.3 479.5h0M486.4 447.5h0M486.4 473.4h0M486.5 475.8h0M486.6 466.0h0M486.6 489.5h0M486.7 487.2h0M486.9 489.6h0M486.9 499.9h0M487.0 494.1h0M487.1 486.1h0M487.3 410.6h0M487.5 480.0h0M487.6 489.4h0M487.7 429.6h0M487.7 494.7h0M487.8 490.1h0M487.9 442.4h0M487.9 471.6h0M488.0 480.0h0M488.1 489.8h0M488.2 490.6h0M488.3 498.2h0M488.4 478.6h0M488.4 496.9h0M488.5 453.5h0M488.6 474.7h0M488.7 477.8h0M488.8 486.8h0M488.9 493.3h0M489.0 472.8h0M489.0 499.8h0M489.1 499.3h0M489.1 496.2h0M489.2 462.4h0M489.3 496.7h0M489.4 453.0h0M489.4 459.7h0M489.5 496.7h0M489.6 476.6h0M489.8 497.6h0M489.9 465.5h0M490.1 492.2h0M490.4 468.4h0M490.4 428.1h0M490.5 472.9h0M490.6 469.6h0M490.6 491.0h0M490.7 480.2h0M490.7 497.4h0M490.8 486.9h0M490.8 434.7h0M490.9 494.2h0M490.9 474.3h0M491.1 438.4h0M491.3 492.5h0M491.3 484.1h0M491.4 409.7h0M491.9 495.2h0M491.9 439.5h0M492.1 491.4h0M492.2 417.6h0M492.2 487.4h0M492.3 501.1h0M492.3 487.1h0M492.4 471.0h0M492.4 487.5h0M492.5 496.1h0M492.6 468.9h0M492.7 496.3h0M492.9 501.0h0M492.9 482.3h0M493.0 499.7h0M493.1 487.8h0M493.1 494.3h0M493.1 443.2h0M493.2 472.9h0M493.2 489.8h0M493.3 492.5h0M493.4 405.6h0M493.6 480.6h0M493.6 499.0h0M493.7 489.5h0M493.8 499.5h0M493.8 486.8h0M493.9 411.8h0M494.0 477.3h0M494.1 452.5h0M494.1 489.1h0M494.1 446.0h0M494.2 479.8h0M494.2 498.6h0M494.3 475.7h0M494.4 460.9h0M494.4 477.5h0M494.5 461.7h0M494.6 456.2h0M494.7 472.1h0M494.7 497.0h0M494.8 497.9h0M494.9 448.5h0M495.1 452.7h0M495.1 495.4h0M495.2 468.6h0M495.2 461.4h0M495.3 475.5h0M495.3 499.3h0M495.4 476.1h0M495.5 466.5h0M495.5 448.2h0M495.6 494.2h0M495.6 496.0h0M495.6 422.4h0M495.7 500.4h0M496.0 475.6h0M496.3 436.4h0M496.3 490.6h0M496.4 488.0h0M496.5 485.2h0M496.6 501.4h0M496.7 484.4h0M496.8 479.0h0M496.9 461.4h0M496.9 472.4h0M497.0 462.8h0M497.1 498.6h0M497.1 496.3h0M497.2 475.6h0M497.3 500.3h0M497.6 454.7h0M497.6 464.0h0M497.7 472.2h0M497.8 489.8h0M497.9 460.2h0M497.9 499.1h0M498.0 432.4h0M498.1 498.4h0M498.1 488.4h0M498.1 478.3h0M498.2 489.2h0M498.3 501.0h0M498.4 497.1h0M498.4 491.4h0M498.5 484.3h0M498.7 461.0h0M498.7 500.9h0M499.1 480.0h0M499.2 478.9h0M499.4 499.3h0M499.5 489.2h0M499.6 498.5h0M499.7 478.4h0M499.8 499.2h0M499.8 494.1h0M499.9 461.9h0M500.0 494.8h0M500.1 496.9h0M500.1 474.0h0" stroke="#87ceeb" stroke-width="5.3" stroke-linecap="round" fill="none"/>
<rect x="497.5" y="494.7" width="36.4" height="26.0" fill="#bebebe"/>
<path d="M500.2 484.2h0M500.3 498.4h0M500.4 495.9h0M500.5 455.1h0M500.7 474.0h0M500.8 427.9h0M500.8 447.4h0M501.0 430.0h0M501.0 488.6h0M501.1 489.9h0M501.1 483.8h0M501.3 492.1h0M501.4 489.5h0M501.5 459.1h0M501.6 464.3h0M501.7 501.5h0M501.7 473.6h0M501.8 500.5h0M501.8 458.0h0M501.9 494.1h0M501.9 499.9h0M502.1 464.4h0M502.1 481.8h0M502.1 446.7h0M502.2 488.0h0M502.3 494.2h0M502.4 478.0h0M502.4 475.6h0M502.6 463.4h0M502.7 480.3h0M502.7 496.8h0M502.8 484.8h0M502.9 486.9h0M502.9 493.3h0M503.0 470.9h0M503.0 464.7h0M503.1 484.2h0M503.2 453.7h0M503.2 495.1h0M503.3 489.0h0M503.5 500.0h0M503.5 493.1h0M503.6 475.1h0M503.6 446.1h0M503.7 491.9h0M503.8 486.6h0M503.9 477.1h0M504.1 483.4h0M504.1 497.7h0M504.2 457.7h0M504.3 491.9h0M504.4 493.9h0M504.5 466.4h0M504.6 468.2h0M504.6 452.2h0M504.7 471.0h0M504.8 469.3h0M504.9 499.6h0M504.9 482.9h0M505.1 476.8h0M505.3 486.1h0M505.3 496.3h0M505.4 494.6h0M505.7 491.5h0M505.8 436.6h0M506.0 429.3h0M506.1 462.9h0M506.1 486.5h0M506.2 471.7h0M506.3 467.3h0M506.5 481.8h0M506.5 488.3h0M506.6 491.1h0M506.6 475.9h0M506.8 489.4h0M506.9 476.6h0M507.0 470.6h0M507.0 452.4h0M507.1 420.3h0M507.1 453.1h0M507.2 489.9h0M507.2 482.9h0M507.3 489.3h0M507.5 501.8h0M507.6 461.8h0M507.6 469.0h0M507.7 471.0h0M507.8 488.3h0M507.9 488.5h0M508.0 490.2h0M508.1 487.0h0M508.3 492.1h0M508.6 417.1h0M508.6 474.1h0M508.9 501.3h0M509.0 496.4h0M509.1 417.5h0M509.2 480.6h0M509.3 501.6h0M509.4 426.5h0M509.4 498.2h0M509.5 477.9h0M509.5 493.8h0M509.6 462.2h0M509.6 495.8h0M509.7 485.3h0M509.8 469.1h0M510.0 424.2h0M510.0 502.0h0M510.1 465.8h0M510.1 481.0h0M510.2 492.0h0M510.2 419.2h0M510.3 471.8h0M510.3 495.1h0M510.6 483.4h0M510.6 476.7h0M510.6 487.0h0M510.7 460.6h0M510.9 456.3h0M511.0 438.5h0M511.0 494.0h0M511.1 487.8h0M511.2 486.3h0M511.4 492.0h0M511.4 464.3h0M511.5 436.7h0M511.6 492.3h0M511.6 497.9h0M511.6 471.4h0M511.7 495.9h0M511.8 497.6h0M511.9 493.2h0M512.1 422.0h0M512.1 482.6h0M512.2 496.3h0M512.4 438.0h0M512.6 492.2h0M512.7 452.7h0M512.7 479.5h0M512.8 495.7h0M512.9 495.5h0M513.0 500.1h0M513.1 497.4h0M513.2 471.9h0M513.2 479.8h0M513.4 485.2h0M513.4 491.8h0M513.5 489.4h0M513.6 491.5h0M513.9 477.5h0M514.0 498.4h0M514.1 476.2h0M514.1 481.0h0M514.1 496.5h0M514.2 491.0h0M514.2 498.2h0M514.3 435.6h0M514.6 480.9h0M514.7 493.6h0M515.1 499.9h0M515.2 488.7h0M515.2 422.8h0M515.4 481.6h0M515.5 494.3h0M515.6 470.0h0M515.6 501.1h0M515.6 493.7h0M515.7 485.2h0M515.8 454.5h0M515.9 501.1h0M515.9 483.0h0M516.0 500.5h0M516.1 496.0h0M516.1 499.5h0M516.1 469.1h0M516.2 485.5h0M516.3 500.0h0M516.4 488.4h0M516.5 483.6h0M516.6 492.2h0M516.6 483.9h0M516.6 477.3h0M516.8 460.5h0M516.9 473.0h0M517.0 488.3h0M517.1 447.1h0M517.1 462.3h0M517.2 438.3h0M517.5 488.8h0M517.6 497.7h0M517.9 493.2h0M518.0 464.4h0M518.0 501.1h0M518.1 478.4h0M518.1 497.2h0M518.2 459.4h0M518.3 497.4h0M518.3 501.6h0M518.4 494.6h0M518.5 483.3h0M518.6 442.4h0M518.7 468.8h0M518.7 457.3h0M518.8 461.1h0M518.8 481.8h0M518.9 489.8h0M519.1 500.5h0M519.1 455.8h0M519.2 422.7h0M519.5 458.3h0M519.6 487.8h0M519.6 464.1h0M519.6 495.8h0M519.7 454.9h0M519.8 462.5h0M520.1 498.7h0M520.2 447.6h0M520.3 439.3h0M520.5 478.2h0M520.6 467.9h0M520.8 420.0h0M521.0 486.1h0M521.1 460.2h0M521.1 487.1h0M521.2 410.7h0M521.2 495.1h0M521.3 482.4h0M521.4 464.5h0M521.6 476.7h0M521.6 433.2h0M521.8 464.6h0M521.8 478.3h0M522.1 488.6h0M522.1 477.8h0M522.2 484.9h0M522.3 405.2h0M522.6 462.8h0M522.7 494.4h0M522.8 481.7h0M522.9 501.2h0M523.0 489.5h0M523.3 440.9h0M523.5 459.2h0M523.5 501.6h0M523.6 489.0h0M523.6 495.7h0M523.6 444.9h0M523.7 491.9h0M523.7 500.8h0M523.8 496.8h0M523.9 495.9h0M524.0 459.1h0M524.0 488.6h0M524.1 447.1h0M524.1 443.2h0M524.2 488.8h0M524.3 451.0h0M524.4 473.8h0M524.5 496.1h0M524.8 497.2h0M524.9 499.3h0M524.9 460.5h0M525.1 436.8h0M525.3 476.0h0M525.4 477.9h0M525.4 501.8h0M525.5 483.8h0M525.6 436.0h0M525.7 468.9h0M525.8 460.0h0M525.8 494.5h0M525.9 426.8h0M526.0 462.9h0M526.2 472.1h0M526.2 479.6h0M526.3 493.6h0M526.4 470.0h0M526.5 490.4h0M526.5 496.4h0M526.6 495.5h0M526.8 499.6h0M527.0 495.8h0M527.0 480.9h0M527.1 421.2h0M527.1 500.1h0M527.4 455.2h0M527.4 500.7h0M527.5 493.5h0M527.6 501.7h0M527.7 474.5h0M527.8 460.9h0M528.1 478.1h0M528.1 487.2h0M528.1 454.8h0M528.2 500.1h0M528.2 463.3h0M528.3 496.5h0M528.4 466.3h0M528.5 492.3h0M528.6 494.7h0M528.7 473.8h0M528.8 458.8h0M528.9 482.1h0M528.9 481.6h0M529.0 490.4h0M529.1 499.6h0M529.4 479.3h0M529.4 500.4h0M529.5 423.4h0M529.6 479.2h0M529.7 422.1h0M529.9 475.3h0M529.9 501.1h0M530.1 474.5h0M530.1 450.5h0M530.1 490.4h0M530.2 466.6h0M530.2 501.6h0M530.4 467.1h0M530.5 469.2h0M530.6 425.4h0M530.7 494.4h0M530.8 501.6h0M530.9 450.0h0M531.0 482.3h0M531.1 463.1h0M531.1 484.8h0M531.2 468.8h0M531.2 410.8h0" stroke="#bebebe" stroke-width="5.3" stroke-linecap="round" fill="none"/>
<rect x="528.7" y="494.7" width="34.8" height="26.0" fill="#87ceeb"/>
<path d="M531.4 500.3h0M531.7 489.7h0M531.7 492.3h0M531.8 475.4h0M532.0 448.5h0M532.1 494.4h0M532.1 489.1h0M532.3 475.9h0M532.3 464.2h0M532.4 501.9h0M532.5 498.8h0M532.6 485.8h0M532.6 483.3h0M532.7 483.9h0M532.7 465.4h0M532.8 501.3h0M532.9 430.2h0M533.0 467.0h0M533.0 500.8h0M533.1 475.8h0M533.2 488.0h0M533.2 496.4h0M533.3 493.2h0M533.4 460.2h0M533.5 488.6h0M533.6 492.4h0M533.6 476.1h0M533.6 496.3h0M533.7 481.0h0M533.7 493.7h0M533.8 474.3h0M533.9 463.0h0M534.1 502.0h0M534.1 483.2h0M534.2 479.7h0M534.2 498.3h0M534.4 498.4h0M534.4 437.7h0M534.5 465.0h0M534.5 446.8h0M534.6 493.2h0M534.6 498.7h0M534.7 413.0h0M534.7 501.5h0M534.8 493.9h0M534.8 501.7h0M534.9 485.0h0M535.1 484.8h0M535.2 488.4h0M535.2 473.0h0M535.5 490.8h0M535.6 445.1h0M535.6 476.9h0M535.6 483.4h0M535.8 486.4h0M535.9 450.5h0M535.9 486.7h0M536.2 489.0h0M536.3 449.7h0M536.3 473.7h0M536.4 446.9h0M536.5 501.9h0M536.5 496.1h0M536.6 487.5h0M536.7 495.7h0M536.8 492.2h0M537.0 465.3h0M537.0 492.1h0M537.1 478.4h0M537.1 479.1h0M537.2 406.8h0M537.4 500.8h0M537.5 493.3h0M537.5 476.6h0M537.6 467.3h0M537.8 428.2h0M537.8 488.9h0M538.0 484.8h0M538.0 495.4h0M538.1 470.2h0M538.2 500.7h0M538.3 428.3h0M538.4 480.5h0M538.5 418.6h0M538.6 499.3h0M538.7 494.5h0M538.8 491.9h0M538.8 447.9h0M538.9 470.7h0M539.1 492.5h0M539.3 437.9h0M539.4 453.6h0M539.5 459.8h0M539.7 498.2h0M539.9 489.9h0M540.0 463.7h0M540.0 485.2h0M540.1 453.7h0M540.1 483.7h0M540.2 500.6h0M540.2 490.2h0M540.4 459.5h0M540.5 498.1h0M540.6 477.3h0M540.7 488.1h0M540.7 480.1h0M540.9 454.4h0M540.9 493.2h0M541.0 498.5h0M541.1 484.3h0M541.1 500.9h0M541.1 447.5h0M541.2 494.5h0M541.3 446.5h0M541.4 500.0h0M541.4 417.1h0M541.6 479.9h0M541.7 475.5h0M541.8 492.3h0M541.9 493.3h0M542.0 491.3h0M542.1 497.1h0M542.1 464.8h0M542.3 449.5h0M542.3 492.7h0M542.4 414.8h0M542.4 502.0h0M542.5 495.6h0M542.5 486.8h0M542.6 500.1h0M542.7 486.3h0M542.7 492.7h0M542.7 482.6h0M542.9 494.5h0M543.0 493.8h0M543.1 495.2h0M543.3 495.8h0M543.3 491.9h0M543.5 469.8h0M543.7 493.7h0M543.7 495.5h0M543.9 478.7h0M543.9 489.5h0M544.0 487.2h0M544.1 488.9h0M544.2 468.0h0M544.3 495.0h0M544.3 470.0h0M544.4 455.0h0M544.5 487.2h0M544.5 493.6h0M544.6 495.5h0M544.6 458.9h0M544.7 471.5h0M544.7 497.9h0M545.0 461.9h0M545.0 501.1h0M545.1 420.7h0M545.4 495.4h0M545.4 487.5h0M545.5 480.1h0M545.7 486.0h0M545.7 425.9h0M545.9 491.0h0M546.0 459.8h0M546.1 499.8h0M546.2 480.0h0M546.3 484.5h0M546.4 474.3h0M546.6 442.9h0M546.8 471.7h0M547.0 495.2h0M547.1 432.9h0M547.2 432.3h0M547.3 489.3h0M547.3 494.3h0M547.5 489.5h0M547.6 454.6h0M547.6 499.8h0M547.7 479.7h0M547.8 481.0h0M547.9 463.9h0M548.1 486.3h0M548.1 497.3h0M548.2 461.0h0M548.2 492.1h0M548.4 457.7h0M548.5 495.1h0M548.5 474.2h0M548.6 403.3h0M548.6 475.4h0M548.7 498.7h0M548.7 442.8h0M548.8 493.9h0M548.9 497.1h0M549.2 419.5h0M549.2 451.0h0M549.4 480.5h0M549.6 428.1h0M549.6 500.7h0M549.7 458.9h0M549.7 498.0h0M549.7 476.9h0M549.8 475.4h0M549.9 490.2h0M549.9 494.3h0M550.1 486.6h0M550.2 481.4h0M550.2 472.8h0M550.3 472.7h0M550.5 481.9h0M550.6 448.2h0M550.6 493.1h0M550.7 467.1h0M550.8 449.5h0M550.8 491.9h0M550.9 465.4h0M551.0 491.5h0M551.0 475.4h0M551.5 484.2h0M551.6 465.2h0M551.7 485.0h0M551.8 498.8h0M552.0 480.6h0M552.2 501.5h0M552.2 488.3h0M552.3 491.0h0M552.5 501.3h0M552.7 499.3h0M552.7 478.2h0M552.8 447.6h0M553.0 446.0h0M553.0 493.0h0M553.1 489.2h0M553.1 463.3h0M553.2 460.8h0M553.3 485.7h0M553.3 496.1h0M553.5 474.6h0M553.6 466.9h0M554.0 438.2h0M554.3 466.2h0M554.3 500.3h0M554.4 501.5h0M554.4 464.6h0M554.5 415.5h0M554.7 500.2h0M554.8 490.2h0M554.9 501.8h0M555.2 498.3h0M555.2 495.7h0M555.2 477.0h0M555.3 480.9h0M555.3 415.8h0M555.4 497.6h0M555.5 491.6h0M555.6 453.9h0M555.7 476.6h0M555.8 496.8h0M556.0 469.6h0M556.0 466.9h0M556.2 493.4h0M556.2 501.6h0M556.3 496.8h0M556.4 473.2h0M556.5 502.0h0M556.6 496.2h0M556.7 496.3h0M556.7 502.0h0M556.8 473.2h0M556.9 460.3h0M557.0 500.8h0M557.1 480.3h0M557.1 487.4h0M557.2 485.1h0M557.3 482.5h0M557.4 458.8h0M557.4 466.6h0M557.5 492.6h0M557.7 450.5h0M557.7 489.1h0M557.9 484.2h0M557.9 495.4h0M558.2 478.1h0M558.3 442.0h0M558.4 475.2h0M558.6 493.2h0M558.8 488.2h0M558.9 486.9h0M559.2 477.4h0M559.2 436.7h0M559.4 490.8h0M559.7 498.0h0M559.7 500.0h0M559.7 479.2h0M559.8 477.9h0M559.9 497.1h0M560.0 501.4h0M560.1 495.5h0M560.2 472.0h0M560.3 488.0h0M560.4 490.5h0M560.4 499.4h0M560.6 460.5h0M560.6 486.6h0M560.7 467.1h0M560.8 476.7h0M560.9 500.0h0M560.9 468.3h0" stroke="#87ceeb" stroke-width="5.3" stroke-linecap="round" fill="none"/>
<rect x="558.3" y="494.7" width="33.1" height="26.0" fill="#bebebe"/>
<path d="M561.2 481.6h0M561.5 487.5h0M561.5 474.4h0M561.6 494.9h0M561.6 491.0h0M561.7 437.3h0M561.7 465.9h0M561.8 485.9h0M561.8 407.5h0M561.9 490.2h0M562.0 464.4h0M562.1 483.8h0M562.2 496.5h0M562.3 482.5h0M562.4 499.3h0M562.5 499.9h0M562.6 496.8h0M562.6 497.2h0M562.7 483.5h0M562.7 488.7h0M562.7 490.1h0M562.8 455.2h0M562.8 502.0h0M562.9 463.6h0M562.9 500.1h0M563.0 495.5h0M563.0 470.3h0M563.1 490.1h0M563.2 494.4h0M563.3 498.1h0M563.6 489.0h0M563.6 495.7h0M563.7 473.8h0M563.8 482.0h0M563.8 496.4h0M563.9 477.0h0M564.0 497.0h0M564.0 496.6h0M564.2 491.9h0M564.3 471.5h0M564.4 470.6h0M564.5 491.1h0M564.6 443.0h0M564.6 492.2h0M564.7 455.7h0M564.8 487.6h0M564.9 422.1h0M565.0 469.7h0M565.0 483.8h0M565.2 485.9h0M565.2 493.0h0M565.2 499.1h0M565.3 498.5h0M565.3 482.3h0M565.4 492.3h0M565.7 499.9h0M565.8 493.7h0M565.9 461.4h0M565.9 491.5h0M566.0 501.9h0M566.2 500.5h0M566.2 495.3h0M566.3 449.1h0M566.3 485.3h0M566.5 480.3h0M566.7 415.6h0M566.7 501.6h0M566.8 473.3h0M567.0 484.1h0M567.1 495.4h0M567.1 482.2h0M567.2 492.3h0M567.2 480.8h0M567.2 489.4h0M567.3 485.6h0M567.4 496.7h0M567.5 482.3h0M567.6 449.0h0M567.6 488.8h0M567.8 497.7h0M567.8 495.5h0M567.9 457.1h0M567.9 442.3h0M568.1 496.3h0M568.1 496.1h0M568.2 474.3h0M568.4 446.0h0M568.5 478.3h0M568.6 492.5h0M568.7 487.1h0M568.8 499.5h0M568.8 489.4h0M568.9 496.3h0M569.1 475.6h0M569.2 493.9h0M569.3 484.0h0M569.5 500.2h0M569.5 466.0h0M569.7 478.0h0M569.8 498.4h0M569.8 491.9h0M570.1 489.6h0M570.2 486.5h0M570.2 490.9h0M570.2 460.6h0M570.3 464.4h0M570.3 499.9h0M570.4 475.1h0M570.4 463.8h0M570.5 485.7h0M570.6 501.6h0M570.6 485.2h0M570.7 441.8h0M570.8 495.0h0M570.9 483.1h0M570.9 493.2h0M571.1 468.2h0M571.1 479.0h0M571.2 482.6h0M571.2 471.1h0M571.2 490.7h0M571.3 493.0h0M571.4 500.0h0M571.5 485.8h0M571.5 494.6h0M571.6 471.2h0M571.7 482.4h0M571.7 497.8h0M571.8 419.5h0M571.9 428.9h0M572.0 493.1h0M572.2 500.3h0M572.2 499.7h0M572.4 497.1h0M572.5 467.9h0M572.6 496.7h0M572.7 476.3h0M572.7 484.1h0M572.9 488.3h0M573.0 451.6h0M573.1 437.6h0M573.1 472.7h0M573.2 463.8h0M573.2 491.1h0M573.3 470.2h0M573.3 461.7h0M573.4 451.7h0M573.5 501.4h0M573.6 480.9h0M573.7 494.4h0M573.8 481.5h0M574.0 479.3h0M574.0 489.8h0M574.1 458.0h0M574.2 463.9h0M574.4 488.7h0M574.6 470.0h0M574.7 487.2h0M574.7 406.1h0M574.7 471.7h0M575.0 458.8h0M575.2 486.0h0M575.2 496.2h0M575.3 494.7h0M575.6 492.8h0M575.7 405.3h0M575.7 492.6h0M575.8 480.7h0M575.8 498.6h0M575.9 501.0h0M576.0 463.9h0M576.2 466.4h0M576.2 487.5h0M576.3 490.9h0M576.7 467.4h0M576.7 495.6h0M576.8 482.2h0M577.0 420.5h0M577.0 447.8h0M577.1 492.0h0M577.1 468.2h0M577.2 492.1h0M577.2 494.7h0M577.3 494.8h0M577.4 497.5h0M577.5 473.4h0M577.6 487.4h0M577.7 470.2h0M577.8 477.4h0M577.8 439.7h0M577.9 497.6h0M578.0 472.9h0M578.1 491.5h0M578.2 467.7h0M578.2 496.9h0M578.3 471.7h0M578.3 441.7h0M578.4 488.5h0M578.5 470.9h0M578.6 485.2h0M578.6 497.9h0M578.8 500.3h0M578.9 467.2h0M578.9 486.0h0M579.0 490.3h0M579.1 456.5h0M579.2 491.4h0M579.3 498.0h0M579.3 501.6h0M579.6 468.6h0M579.7 480.0h0M579.7 450.0h0M579.8 499.1h0M580.0 498.9h0M580.1 480.5h0M580.1 406.4h0M580.2 494.6h0M580.2 489.1h0M580.3 501.5h0M580.3 473.3h0M580.4 445.2h0M580.5 469.7h0M580.7 477.6h0M580.7 498.7h0M580.9 479.9h0M580.9 477.5h0M581.0 470.4h0M581.0 491.8h0M581.2 475.8h0M581.4 455.8h0M581.6 449.5h0M581.7 485.2h0M581.9 405.0h0M581.9 465.7h0M582.1 451.5h0M582.2 499.5h0M582.2 495.4h0M582.2 465.9h0M582.3 489.0h0M582.4 463.8h0M582.4 499.6h0M582.5 500.5h0M582.7 498.9h0M582.7 480.1h0M582.8 467.0h0M583.0 469.2h0M583.0 469.2h0M583.1 490.2h0M583.1 501.7h0M583.2 496.2h0M583.2 453.6h0M583.3 481.8h0M583.4 500.2h0M583.5 490.3h0M583.6 450.4h0M583.6 463.4h0M583.7 463.9h0M583.8 413.1h0M583.8 441.0h0M583.9 483.5h0M584.1 487.6h0M584.2 444.6h0M584.2 477.2h0M584.3 489.2h0M584.3 494.6h0M584.4 483.9h0M584.4 501.4h0M584.5 498.2h0M584.6 500.5h0M584.8 500.5h0M585.2 476.1h0M585.2 491.7h0M585.3 421.7h0M585.6 492.0h0M585.6 482.7h0M585.7 467.3h0M585.7 501.5h0M585.8 460.5h0M585.8 501.3h0M585.9 465.9h0M585.9 484.2h0M586.0 449.2h0M586.1 501.4h0M586.2 480.5h0M586.2 499.0h0M586.3 499.7h0M586.4 494.6h0M586.5 499.8h0M586.6 444.9h0M586.7 464.3h0M586.7 497.9h0M586.8 484.5h0M586.9 482.0h0M587.0 496.4h0M587.1 469.8h0M587.1 477.6h0M587.2 479.5h0M587.2 489.3h0M587.2 430.7h0M587.4 474.2h0M587.6 497.7h0M587.7 467.7h0M587.8 500.6h0M588.0 431.5h0M588.2 501.3h0M588.2 429.3h0M588.5 477.6h0M588.6 490.2h0M588.7 494.2h0M588.7 485.3h0M588.7 478.0h0" stroke="#bebebe" stroke-width="5.3" stroke-linecap="round" fill="none"/>
<rect x="586.1" y="494.7" width="34.9" height="26.0" fill="#87ceeb"/>
<path d="M588.9 470.1h0M589.0 485.2h0M589.1 492.3h0M589.1 479.0h0M589.2 494.5h0M589.3 474.5h0M589.3 497.8h0M589.4 464.8h0M589.6 480.1h0M590.1 474.1h0M590.1 495.9h0M590.2 494.0h0M590.3 441.7h0M590.5 460.4h0M590.6 490.3h0M590.7 484.4h0M590.7 482.8h0M590.7 475.0h0M590.8 485.9h0M590.8 469.0h0M591.0 470.5h0M591.1 476.4h0M591.2 497.9h0M591.3 424.4h0M591.3 501.8h0M591.6 457.8h0M591.6 482.5h0M591.7 460.7h0M591.7 476.0h0M591.7 459.8h0M591.8 491.6h0M591.8 502.0h0M592.0 501.3h0M592.0 496.1h0M592.1 490.4h0M592.2 494.5h0M592.2 496.7h0M592.2 493.8h0M592.3 450.6h0M592.3 485.4h0M592.4 485.5h0M592.5 430.0h0M592.5 472.1h0M592.6 499.2h0M592.6 500.1h0M592.7 498.2h0M592.7 485.6h0M592.7 432.8h0M592.8 475.3h0M592.9 410.4h0M592.9 499.1h0M593.0 487.5h0M593.0 494.6h0M593.1 428.3h0M593.2 498.7h0M593.4 480.9h0M593.4 499.2h0M593.6 475.4h0M593.6 488.1h0M593.7 470.9h0M593.8 455.3h0M593.8 473.8h0M594.0 495.1h0M594.0 444.3h0M594.2 482.2h0M594.4 501.9h0M594.5 463.6h0M594.7 496.7h0M594.8 497.7h0M594.9 501.4h0M595.0 499.4h0M595.0 485.5h0M595.3 483.6h0M595.3 434.2h0M595.4 453.5h0M595.5 474.7h0M595.6 501.3h0M595.6 482.3h0M595.8 493.8h0M595.9 454.4h0M596.0 477.6h0M596.1 500.6h0M596.2 477.2h0M596.2 456.3h0M596.3 483.5h0M596.4 494.1h0M596.4 469.6h0M596.5 494.1h0M596.5 469.8h0M596.6 443.8h0M596.7 461.1h0M596.7 452.2h0M596.8 490.0h0M596.8 491.0h0M596.9 496.8h0M597.2 486.6h0M597.3 490.7h0M597.3 493.3h0M597.4 476.1h0M597.5 499.4h0M597.7 490.9h0M597.7 473.2h0M597.8 484.6h0M598.0 490.1h0M598.1 464.9h0M598.2 501.7h0M598.2 498.7h0M598.3 491.9h0M598.3 460.6h0M598.4 441.9h0M598.4 432.7h0M598.5 467.8h0M598.7 445.8h0M598.7 479.8h0M598.7 470.9h0M598.9 488.1h0M599.0 489.3h0M599.1 485.3h0M599.1 496.5h0M599.2 462.3h0M599.2 452.2h0M599.3 464.2h0M599.4 475.7h0M599.5 501.7h0M599.6 500.6h0M599.6 498.3h0M599.7 496.7h0M599.8 499.0h0M599.9 471.5h0M599.9 494.2h0M600.0 445.9h0M600.1 488.9h0M600.2 498.0h0M600.2 476.7h0M600.3 472.8h0M600.3 489.3h0M600.4 484.7h0M600.5 435.1h0M600.6 437.3h0M600.7 464.3h0M600.8 483.7h0M600.9 492.3h0M601.0 471.6h0M601.1 475.1h0M601.2 496.0h0M601.2 455.3h0M601.3 491.1h0M601.6 453.3h0M601.7 498.9h0M601.7 491.5h0M601.8 485.2h0M601.8 494.5h0M601.9 486.6h0M602.0 491.1h0M602.1 463.5h0M602.1 491.0h0M602.2 497.7h0M602.2 487.4h0M602.4 492.4h0M602.6 497.9h0M602.7 480.5h0M602.8 483.6h0M602.9 500.5h0M602.9 490.3h0M603.0 487.6h0M603.1 482.6h0M603.3 477.1h0M603.3 490.1h0M603.4 490.6h0M603.4 479.1h0M603.5 467.1h0M603.7 480.5h0M603.7 462.1h0M603.7 448.3h0M603.9 490.7h0M604.0 499.9h0M604.0 491.2h0M604.1 481.3h0M604.2 485.4h0M604.4 485.1h0M604.4 486.2h0M604.5 432.3h0M604.6 471.6h0M604.8 459.2h0M604.8 484.9h0M604.9 495.5h0M604.9 489.7h0M605.0 497.9h0M605.0 442.2h0M605.1 473.8h0M605.2 426.9h0M605.2 484.9h0M605.3 497.8h0M605.5 482.9h0M605.5 487.3h0M605.7 468.5h0M605.8 429.5h0M605.9 488.1h0M606.0 458.0h0M606.1 491.7h0M606.1 454.5h0M606.2 500.7h0M606.3 467.5h0M606.5 499.4h0M606.6 468.7h0M606.8 458.0h0M606.8 493.4h0M607.0 487.2h0M607.1 472.6h0M607.2 487.4h0M607.2 478.1h0M607.3 478.8h0M607.4 414.5h0M607.5 457.9h0M607.6 492.8h0M607.7 495.1h0M607.8 461.0h0M607.8 453.5h0M607.8 499.9h0M607.9 484.2h0M608.2 499.3h0M608.5 493.6h0M608.5 475.5h0M608.9 484.0h0M608.9 453.3h0M609.0 481.8h0M609.2 485.2h0M609.3 470.1h0M609.5 434.9h0M609.6 460.2h0M609.8 483.8h0M609.9 493.3h0M610.0 476.5h0M610.1 475.8h0M610.3 470.7h0M610.4 433.7h0M610.5 485.6h0M610.6 497.4h0M610.7 501.8h0M610.8 458.1h0M610.8 437.5h0M611.1 493.0h0M611.3 495.0h0M611.3 454.0h0M611.4 497.7h0M611.4 464.0h0M611.6 475.4h0M611.8 488.8h0M612.1 484.0h0M612.1 434.7h0M612.2 470.7h0M612.2 474.2h0M612.3 434.9h0M612.3 444.3h0M612.4 495.0h0M612.6 491.9h0M613.0 501.3h0M613.1 459.2h0M613.1 479.7h0M613.2 474.6h0M613.3 489.2h0M613.3 487.9h0M613.3 445.3h0M613.5 481.3h0M613.6 486.0h0M613.9 499.2h0M614.0 470.8h0M614.1 496.3h0M614.2 490.3h0M614.2 491.0h0M614.3 498.2h0M614.3 476.6h0M614.4 484.6h0M614.5 480.1h0M614.5 494.7h0M614.8 435.6h0M614.9 479.8h0M615.0 487.3h0M615.1 490.0h0M615.1 470.4h0M615.3 462.8h0M615.3 500.8h0M615.4 493.8h0M615.4 482.2h0M615.5 467.4h0M615.6 462.2h0M615.6 502.0h0M615.7 454.5h0M615.8 447.3h0M615.9 494.4h0M615.9 498.6h0M616.0 468.8h0M616.0 488.3h0M616.1 481.3h0M616.1 492.1h0M616.2 458.8h0M616.3 486.6h0M616.3 501.9h0M616.5 468.9h0M616.7 470.9h0M616.8 460.7h0M616.8 481.2h0M616.9 501.8h0M617.0 484.0h0M617.0 493.7h0M617.1 491.2h0M617.1 488.3h0M617.2 500.9h0M617.2 447.8h0M617.3 485.5h0M617.4 490.3h0M617.5 458.9h0M617.6 483.5h0M617.7 458.5h0M617.8 483.1h0M617.8 502.0h0M617.8 483.9h0M617.9 494.9h0M618.0 495.2h0M618.0 497.5h0M618.1 468.4h0M618.2 463.2h0M618.2 432.8h0M618.3 481.7h0M618.4 474.8h0" stroke="#87ceeb" stroke-width="5.3" stroke-linecap="round" fill="none"/>
<rect x="615.8" y="494.7" width="32.3" height="26.0" fill="#bebebe"/>
<path d="M618.5 465.7h0M618.6 489.4h0M618.7 491.1h0M618.8 501.0h0M618.9 500.4h0M618.9 501.5h0M619.0 495.1h0M619.0 451.9h0M619.2 444.5h0M619.4 495.0h0M619.8 493.7h0M619.9 485.8h0M620.0 472.0h0M620.0 474.5h0M620.2 475.2h0M620.3 474.8h0M620.3 481.1h0M620.4 462.8h0M620.5 483.0h0M620.5 418.2h0M620.6 492.9h0M620.6 471.4h0M620.7 480.7h0M620.8 442.6h0M620.9 456.8h0M620.9 457.4h0M621.3 498.7h0M621.4 489.7h0M621.5 494.9h0M621.6 489.9h0M621.7 497.3h0M621.8 475.3h0M621.8 501.9h0M622.1 495.1h0M622.1 478.1h0M622.2 498.8h0M622.3 500.2h0M622.5 488.2h0M622.6 490.0h0M622.8 502.0h0M622.8 499.5h0M622.8 497.7h0M622.9 477.3h0M623.0 496.5h0M623.1 496.7h0M623.1 483.1h0M623.2 481.4h0M623.4 476.7h0M623.6 472.7h0M623.7 499.4h0M623.7 489.5h0M623.8 483.9h0M623.8 501.8h0M623.9 411.3h0M624.1 476.3h0M624.1 500.3h0M624.2 488.4h0M624.2 501.8h0M624.3 481.7h0M624.4 492.5h0M624.5 476.9h0M624.7 495.1h0M624.7 483.9h0M624.8 487.9h0M624.9 493.3h0M624.9 500.8h0M625.0 477.0h0M625.0 411.9h0M625.1 496.8h0M625.4 497.7h0M625.5 481.6h0M625.5 501.8h0M625.7 477.2h0M625.7 482.1h0M625.8 481.2h0M625.8 492.6h0M625.9 461.7h0M626.0 480.2h0M626.0 443.8h0M626.1 447.8h0M626.2 465.2h0M626.2 431.7h0M626.3 458.1h0M626.4 476.0h0M626.6 458.8h0M626.6 488.5h0M626.7 490.5h0M626.8 478.2h0M626.8 481.2h0M626.9 498.1h0M627.0 490.9h0M627.1 499.4h0M627.1 474.6h0M627.3 498.4h0M627.3 487.1h0M627.4 499.6h0M627.5 482.8h0M627.7 453.7h0M627.8 498.7h0M627.9 488.6h0M628.1 476.6h0M628.2 454.0h0M628.2 462.9h0M628.3 497.6h0M628.3 480.0h0M628.4 482.8h0M628.4 424.6h0M628.5 475.3h0M628.6 489.1h0M628.6 489.7h0M628.9 452.4h0M628.9 429.5h0M629.0 497.4h0M629.1 448.4h0M629.2 494.7h0M629.4 475.1h0M629.5 481.2h0M629.6 469.2h0M629.7 494.8h0M629.8 477.5h0M629.9 446.9h0M630.1 495.8h0M630.3 469.6h0M630.3 495.0h0M630.4 435.4h0M630.6 436.6h0M630.8 491.3h0M630.8 475.6h0M630.8 444.5h0M630.9 501.6h0M630.9 460.4h0M631.0 477.4h0M631.0 501.8h0M631.1 501.5h0M631.1 489.5h0M631.2 448.0h0M631.2 465.1h0M631.3 483.9h0M631.3 436.7h0M631.5 498.7h0M631.6 483.7h0M631.6 496.0h0M631.7 492.4h0M631.8 496.8h0M631.8 468.1h0M631.9 487.1h0M631.9 451.8h0M632.0 497.3h0M632.0 491.2h0M632.1 486.1h0M632.2 496.4h0M632.3 444.1h0M632.3 490.7h0M632.4 499.2h0M632.6 482.5h0M632.7 497.8h0M633.1 489.4h0M633.1 496.6h0M633.3 489.2h0M633.4 483.2h0M633.5 490.6h0M633.6 499.3h0M633.7 487.7h0M633.8 456.2h0M634.2 440.3h0M634.4 446.4h0M634.5 490.2h0M634.6 491.0h0M634.6 494.8h0M634.7 498.9h0M634.8 486.4h0M634.8 480.9h0M634.9 482.0h0M634.9 499.4h0M635.0 501.1h0M635.0 449.2h0M635.1 462.5h0M635.1 498.3h0M635.2 442.0h0M635.2 472.4h0M635.3 468.2h0M635.4 483.6h0M635.4 479.7h0M635.5 485.3h0M635.6 471.9h0M635.7 490.7h0M635.8 499.8h0M635.9 403.2h0M636.1 499.5h0M636.1 458.6h0M636.2 484.6h0M636.3 476.1h0M636.3 482.4h0M636.4 443.2h0M636.5 500.8h0M636.8 457.6h0M636.8 474.7h0M636.9 476.6h0M636.9 492.4h0M637.0 493.0h0M637.1 497.1h0M637.3 487.9h0M637.4 470.6h0M637.5 498.9h0M637.5 474.9h0M637.6 434.9h0M637.7 478.3h0M637.7 474.6h0M637.8 473.9h0M637.9 496.2h0M638.0 492.9h0M638.0 472.3h0M638.2 492.0h0M638.2 479.4h0M638.3 497.4h0M638.3 500.9h0M638.4 454.1h0M638.5 498.8h0M638.5 481.8h0M638.6 497.1h0M638.7 481.9h0M638.8 493.4h0M638.8 499.5h0M638.9 471.7h0M638.9 465.8h0M639.0 492.4h0M639.1 455.6h0M639.2 500.4h0M639.2 486.1h0M639.3 469.8h0M639.3 501.7h0M639.3 495.5h0M639.4 430.6h0M639.4 451.5h0M639.6 500.4h0M639.6 483.5h0M639.7 497.4h0M639.7 486.7h0M639.8 461.2h0M639.8 477.1h0M639.9 454.4h0M639.9 486.3h0M640.0 463.1h0M640.0 471.3h0M640.1 491.0h0M640.1 480.4h0M640.2 485.3h0M640.2 493.9h0M640.3 483.2h0M640.4 488.0h0M640.5 500.5h0M640.5 455.4h0M640.6 491.4h0M640.6 485.1h0M640.7 501.1h0M640.8 465.2h0M640.8 473.2h0M640.9 488.7h0M640.9 482.5h0M641.0 418.2h0M641.1 491.5h0M641.2 491.0h0M641.2 482.8h0M641.3 442.9h0M641.3 485.8h0M641.3 416.5h0M641.4 426.4h0M641.5 482.2h0M641.6 490.6h0M641.7 471.6h0M641.7 500.6h0M641.8 484.4h0M641.9 422.6h0M641.9 487.6h0M642.0 488.1h0M642.1 487.9h0M642.1 472.9h0M642.2 457.7h0M642.4 496.0h0M642.4 464.4h0M642.6 477.6h0M642.6 489.5h0M642.7 501.3h0M642.8 460.6h0M643.3 428.3h0M643.3 480.2h0M643.4 481.9h0M643.4 452.3h0M643.5 414.0h0M643.6 465.1h0M643.7 407.6h0M643.8 464.3h0M643.8 482.5h0M643.9 475.0h0M643.9 485.9h0M644.0 493.8h0M644.0 490.9h0M644.1 483.9h0M644.2 490.7h0M644.3 467.5h0M644.4 490.5h0M644.5 493.9h0M644.6 478.1h0M644.8 468.8h0M644.8 469.1h0M644.8 493.2h0M644.9 492.3h0M644.9 488.5h0M645.1 466.6h0M645.1 499.1h0M645.4 482.6h0" stroke="#bebebe" stroke-width="5.3" stroke-linecap="round" fill="none"/>
<rect x="642.8" y="494.7" width="33.2" height="26.0" fill="#87ceeb"/>
<path d="M645.5 491.9h0M645.7 498.6h0M645.7 492.9h0M645.9 467.8h0M646.0 494.4h0M646.0 484.9h0M646.1 499.2h0M646.1 476.1h0M646.4 497.5h0M646.4 497.5h0M646.5 500.4h0M646.6 485.1h0M646.6 491.4h0M646.7 478.5h0M646.8 497.5h0M646.8 422.4h0M647.1 488.8h0M647.1 472.2h0M647.3 458.1h0M647.3 475.3h0M647.4 468.3h0M647.4 464.8h0M647.5 462.8h0M647.6 495.8h0M647.7 491.4h0M647.7 449.6h0M647.8 428.9h0M647.8 491.5h0M647.9 495.7h0M647.9 435.3h0M648.0 501.8h0M648.1 500.8h0M648.1 491.4h0M648.2 465.5h0M648.3 486.2h0M648.3 434.5h0M648.4 500.9h0M648.8 469.5h0M648.9 490.8h0M649.0 476.4h0M649.0 485.8h0M649.1 500.8h0M649.2 499.4h0M649.3 496.3h0M649.3 457.4h0M649.4 477.8h0M649.5 492.2h0M649.5 495.1h0M649.6 499.9h0M649.7 438.6h0M649.8 492.2h0M650.0 478.8h0M650.1 495.9h0M650.2 428.2h0M650.2 484.1h0M650.3 499.9h0M650.3 498.1h0M650.4 486.3h0M650.6 476.7h0M650.8 463.2h0M650.9 497.2h0M651.0 491.5h0M651.3 472.8h0M651.3 501.4h0M651.3 467.8h0M651.4 493.8h0M651.7 466.3h0M651.7 479.9h0M651.8 423.9h0M651.9 446.3h0M652.0 456.5h0M652.0 459.9h0M652.1 404.4h0M652.2 501.4h0M652.2 486.3h0M652.3 493.9h0M652.3 501.2h0M652.3 469.9h0M652.4 450.3h0M652.5 467.3h0M652.5 432.7h0M652.6 472.5h0M652.8 481.7h0M652.9 442.8h0M653.0 484.7h0M653.1 500.6h0M653.3 489.3h0M653.3 495.2h0M653.4 500.3h0M653.8 502.0h0M653.9 487.9h0M654.0 473.9h0M654.1 444.8h0M654.1 439.4h0M654.4 497.8h0M654.4 457.4h0M654.7 498.4h0M654.8 479.0h0M654.9 500.9h0M655.0 464.3h0M655.1 453.6h0M655.2 499.4h0M655.2 437.0h0M655.3 454.3h0M655.4 491.3h0M655.4 484.1h0M655.5 465.4h0M655.5 497.9h0M655.6 459.5h0M655.6 464.7h0M655.7 487.8h0M656.0 486.8h0M656.2 486.2h0M656.2 466.6h0M656.3 498.6h0M656.3 491.9h0M656.4 487.1h0M656.5 429.5h0M656.7 497.2h0M656.8 500.0h0M656.8 448.4h0M656.9 501.8h0M657.1 489.2h0M657.3 486.0h0M657.4 493.7h0M657.4 488.4h0M657.5 481.2h0M657.7 499.8h0M657.8 480.3h0M657.9 469.1h0M658.0 470.6h0M658.0 494.0h0M658.1 481.3h0M658.1 464.7h0M658.2 499.0h0M658.3 457.2h0M658.4 483.0h0M658.5 487.1h0M658.8 499.9h0M658.9 484.5h0M658.9 489.3h0M659.0 494.4h0M659.1 477.0h0M659.2 480.0h0M659.3 491.4h0M659.3 461.9h0M659.4 482.4h0M659.4 488.1h0M659.5 489.5h0M659.6 476.4h0M659.7 480.1h0M659.7 478.9h0M659.8 488.7h0M659.9 480.1h0M660.0 489.5h0M660.2 472.4h0M660.2 475.1h0M660.3 481.5h0M660.4 479.6h0M660.5 469.8h0M660.6 419.7h0M660.6 501.0h0M660.8 497.9h0M660.8 491.3h0M661.0 497.7h0M661.2 483.7h0M661.2 500.3h0M661.3 474.0h0M661.4 474.9h0M661.5 439.0h0M661.6 498.9h0M661.7 498.5h0M661.8 462.9h0M661.8 492.0h0M661.8 429.5h0M661.9 468.8h0M662.1 485.2h0M662.2 464.0h0M662.3 463.3h0M662.3 453.6h0M662.4 495.1h0M662.4 448.4h0M662.6 459.2h0M662.6 472.4h0M662.7 450.8h0M662.7 467.3h0M662.8 473.3h0M663.1 487.6h0M663.2 500.1h0M663.3 410.8h0M663.3 490.2h0M663.4 480.9h0M663.5 479.3h0M663.7 501.2h0M663.8 469.2h0M663.8 484.3h0M663.9 488.1h0M664.0 481.4h0M664.2 481.8h0M664.3 461.1h0M664.4 485.6h0M664.6 487.6h0M664.7 476.1h0M664.8 456.4h0M665.0 499.5h0M665.0 462.4h0M665.2 499.2h0M665.3 498.1h0M665.3 467.2h0M665.4 498.6h0M665.4 479.7h0M665.5 492.0h0M665.5 486.0h0M665.6 484.2h0M665.7 469.6h0M665.8 452.1h0M665.8 500.3h0M665.9 499.1h0M666.0 444.9h0M666.0 468.1h0M666.2 484.7h0M666.3 458.6h0M666.3 491.9h0M666.4 480.7h0M666.4 501.9h0M666.5 464.1h0M666.7 460.6h0M666.7 500.5h0M666.8 478.7h0M667.0 499.3h0M667.1 477.6h0M667.1 492.2h0M667.2 479.0h0M667.3 500.0h0M667.5 452.1h0M667.6 466.6h0M667.7 492.9h0M667.8 480.4h0M667.8 494.1h0M667.9 452.7h0M668.1 485.8h0M668.1 478.7h0M668.2 449.5h0M668.3 474.4h0M668.4 484.3h0M668.4 496.6h0M668.4 454.8h0M668.5 444.5h0M668.7 457.1h0M668.7 469.9h0M668.8 477.3h0M668.8 485.1h0M669.0 469.3h0M669.1 488.2h0M669.2 483.2h0M669.3 485.3h0M669.4 491.9h0M669.5 485.6h0M669.6 487.2h0M669.7 446.3h0M669.8 466.3h0M669.9 451.3h0M669.9 485.0h0M670.0 499.3h0M670.0 461.5h0M670.1 492.2h0M670.2 464.8h0M670.3 491.4h0M670.3 501.7h0M670.4 487.0h0M670.4 497.8h0M670.5 498.0h0M670.6 470.7h0M670.7 469.9h0M670.9 421.2h0M671.2 453.4h0M671.3 483.5h0M671.3 483.7h0M671.5 487.3h0M671.6 496.6h0M671.6 477.0h0M671.7 478.6h0M671.8 477.2h0M671.9 446.7h0M672.0 494.6h0M672.1 410.0h0M672.2 497.4h0M672.4 485.9h0M672.5 462.8h0M672.6 488.8h0M672.6 495.5h0M672.7 428.6h0M672.9 471.5h0M672.9 469.9h0M673.0 498.5h0M673.1 477.8h0M673.2 495.2h0M673.3 454.6h0" stroke="#87ceeb" stroke-width="5.3" stroke-linecap="round" fill="none"/>
<rect x="670.7" y="494.7" width="31.6" height="26.0" fill="#bebebe"/>
<path d="M673.5 499.1h0M673.6 489.8h0M673.6 486.9h0M673.8 499.7h0M673.8 466.7h0M673.9 439.1h0M673.9 436.9h0M674.0 480.6h0M674.1 482.0h0M674.2 431.3h0M674.2 481.3h0M674.3 477.3h0M674.3 456.2h0M674.4 495.7h0M674.5 476.9h0M674.5 482.9h0M674.6 491.8h0M674.7 447.9h0M674.8 450.1h0M674.8 480.4h0M674.9 457.0h0M674.9 460.7h0M675.0 489.4h0M675.1 448.2h0M675.2 488.4h0M675.2 455.7h0M675.4 481.5h0M675.4 474.3h0M675.5 491.1h0M675.6 470.9h0M675.8 497.6h0M676.0 467.4h0M676.2 492.1h0M676.3 481.4h0M676.4 483.1h0M676.4 489.2h0M676.4 467.3h0M676.6 489.1h0M676.7 498.7h0M676.8 488.6h0M676.9 458.9h0M676.9 501.5h0M677.0 495.4h0M677.1 421.9h0M677.2 494.2h0M677.3 418.0h0M677.5 458.7h0M677.6 495.0h0M677.7 441.9h0M677.8 496.2h0M677.9 477.4h0M677.9 497.0h0M678.2 497.3h0M678.2 497.5h0M678.3 488.1h0M678.3 426.7h0M678.4 497.3h0M678.4 492.1h0M678.5 466.7h0M678.5 469.2h0M678.6 500.9h0M678.7 447.0h0M678.8 493.1h0M678.9 501.6h0M679.0 478.5h0M679.1 470.5h0M679.3 482.1h0M679.3 479.4h0M679.5 494.8h0M679.7 490.7h0M679.7 501.9h0M679.8 472.8h0M679.9 468.2h0M680.0 470.3h0M680.0 493.9h0M680.1 472.2h0M680.2 491.6h0M680.2 487.1h0M680.3 495.9h0M680.4 485.0h0M680.4 485.2h0M680.4 479.5h0M680.5 403.5h0M680.5 500.3h0M680.7 493.1h0M680.7 487.5h0M680.9 475.7h0M681.0 480.8h0M681.0 408.3h0M681.1 473.0h0M681.4 474.7h0M681.4 497.1h0M681.7 490.8h0M681.8 492.2h0M681.9 440.5h0M681.9 494.0h0M681.9 494.4h0M682.1 489.6h0M682.2 493.7h0M682.3 442.1h0M682.4 495.0h0M682.5 499.3h0M682.6 496.6h0M682.8 450.1h0M682.8 452.6h0M682.9 488.0h0M682.9 501.9h0M683.1 499.7h0M683.2 491.4h0M683.3 439.5h0M683.4 452.0h0M683.5 498.7h0M683.6 497.0h0M683.7 474.3h0M683.8 415.7h0M683.8 477.9h0M683.9 498.8h0M684.1 473.6h0M684.2 498.1h0M684.2 495.6h0M684.3 490.0h0M684.4 500.0h0M684.4 487.3h0M684.5 493.5h0M684.7 445.9h0M684.8 492.7h0M684.9 490.7h0M684.9 482.2h0M684.9 492.6h0M685.0 460.9h0M685.1 493.1h0M685.2 449.8h0M685.2 473.5h0M685.3 482.3h0M685.4 453.4h0M685.4 482.5h0M685.4 495.4h0M685.5 495.9h0M685.6 470.9h0M685.7 475.6h0M685.7 453.5h0M685.8 499.6h0M685.8 494.6h0M685.9 487.8h0M685.9 498.9h0M686.0 485.8h0M686.2 490.6h0M686.3 483.5h0M686.4 460.5h0M686.5 465.9h0M686.5 493.9h0M686.6 493.2h0M686.6 435.2h0M686.7 481.2h0M686.9 487.2h0M686.9 492.0h0M686.9 457.7h0M687.1 501.5h0M687.4 475.3h0M687.4 491.5h0M687.5 476.6h0M687.8 488.3h0M687.8 478.0h0M687.9 501.3h0M687.9 491.4h0M688.2 495.8h0M688.3 495.4h0M688.3 471.1h0M688.4 467.6h0M688.4 448.2h0M688.5 491.3h0M688.6 498.1h0M688.7 493.2h0M688.8 491.4h0M688.9 490.8h0M689.1 496.1h0M689.3 482.8h0M689.4 496.4h0M689.4 445.3h0M689.5 457.0h0M689.6 473.5h0M689.6 499.1h0M689.7 482.9h0M689.7 499.2h0M689.8 447.7h0M689.9 495.0h0M689.9 476.0h0M690.0 482.4h0M690.0 485.0h0M690.2 444.6h0M690.2 491.6h0M690.4 491.4h0M690.5 492.0h0M690.6 419.9h0M690.8 487.2h0M690.9 463.4h0M690.9 490.9h0M691.0 479.2h0M691.1 474.2h0M691.4 496.2h0M691.4 485.9h0M691.5 462.3h0M691.5 471.6h0M691.8 498.2h0M691.9 490.9h0M692.2 491.9h0M692.3 448.5h0M692.4 490.7h0M692.4 498.8h0M692.6 496.4h0M692.6 495.3h0M692.7 492.1h0M692.8 455.6h0M692.9 426.4h0M692.9 495.4h0M693.0 476.9h0M693.1 475.1h0M693.1 470.9h0M693.2 493.7h0M693.3 492.1h0M693.3 500.3h0M693.4 490.7h0M693.4 469.5h0M693.5 481.5h0M693.6 464.9h0M693.7 416.2h0M693.7 428.1h0M693.8 491.2h0M693.9 501.1h0M693.9 466.1h0M694.1 482.2h0M694.2 446.2h0M694.3 489.4h0M694.3 470.2h0M694.4 456.2h0M694.5 471.7h0M694.7 478.5h0M694.8 472.2h0M694.8 473.6h0M694.9 498.4h0M695.0 486.7h0M695.1 439.2h0M695.1 490.4h0M695.2 495.1h0M695.2 475.1h0M695.3 499.4h0M695.4 489.7h0M695.4 501.9h0M695.5 479.8h0M695.8 421.4h0M695.8 497.9h0M695.9 481.0h0M695.9 480.7h0M696.1 497.0h0M696.2 500.6h0M696.3 458.6h0M696.4 498.5h0M696.4 496.1h0M696.4 495.5h0M696.5 485.5h0M696.6 494.8h0M696.6 476.6h0M696.8 452.1h0M696.8 492.0h0M696.9 482.7h0M697.0 463.4h0M697.1 438.2h0M697.2 485.1h0M697.3 460.5h0M697.3 499.0h0M697.4 474.5h0M697.4 477.1h0M697.6 486.8h0M697.7 495.8h0M697.7 500.5h0M697.8 408.4h0M697.9 489.2h0M698.2 493.9h0M698.2 479.9h0M698.3 474.3h0M698.3 469.2h0M698.4 445.3h0M698.4 494.4h0M698.6 487.9h0M698.6 469.1h0M698.7 500.1h0M698.7 498.7h0M698.8 497.6h0M698.8 491.8h0M698.9 458.2h0M698.9 464.2h0M699.0 499.6h0M699.2 491.3h0M699.3 496.3h0M699.3 480.0h0M699.4 484.3h0M699.4 501.8h0M699.5 469.2h0M699.6 433.4h0M699.6 501.6h0M699.7 441.6h0" stroke="#bebebe" stroke-width="5.3" stroke-linecap="round" fill="none"/>
<rect x="697.1" y="494.7" width="31.8" height="26.0" fill="#87ceeb"/>
<path d="M699.7 445.5h0M699.8 477.7h0M699.9 474.6h0M699.9 475.3h0M700.0 501.4h0M700.0 492.0h0M700.2 458.6h0M700.3 485.2h0M700.4 471.2h0M700.5 494.3h0M700.5 477.5h0M700.6 500.6h0M700.7 501.8h0M700.8 460.0h0M700.9 496.5h0M701.0 458.6h0M701.1 498.8h0M701.3 498.5h0M701.4 479.8h0M701.6 486.3h0M701.6 484.8h0M701.7 491.6h0M701.8 460.2h0M701.8 493.1h0M701.9 423.5h0M701.9 478.9h0M701.9 445.3h0M702.1 493.5h0M702.3 497.4h0M702.3 462.0h0M702.4 484.9h0M702.5 477.9h0M702.6 481.7h0M702.7 499.4h0M702.9 484.5h0M702.9 481.6h0M703.0 497.3h0M703.0 474.9h0M703.1 494.3h0M703.1 501.6h0M703.2 460.7h0M703.2 497.1h0M703.3 485.5h0M703.4 476.1h0M703.4 470.8h0M703.5 477.8h0M703.5 500.9h0M703.7 493.7h0M703.9 448.2h0M703.9 466.1h0M704.0 416.9h0M704.1 482.8h0M704.1 484.0h0M704.3 461.3h0M704.3 466.8h0M704.4 493.1h0M704.4 500.0h0M704.5 499.5h0M704.5 484.2h0M704.6 490.6h0M704.8 498.7h0M704.9 491.0h0M704.9 487.2h0M705.0 478.1h0M705.0 494.3h0M705.1 452.4h0M705.1 499.9h0M705.2 447.9h0M705.3 453.5h0M705.5 485.4h0M705.6 498.9h0M705.6 441.8h0M705.9 460.5h0M706.0 496.7h0M706.0 501.4h0M706.2 493.5h0M706.4 499.4h0M706.4 485.3h0M706.5 497.1h0M706.6 500.2h0M706.7 500.7h0M706.9 482.2h0M706.9 475.7h0M707.2 488.6h0M707.3 483.1h0M707.3 494.1h0M707.6 494.8h0M707.7 467.0h0M707.7 480.0h0M707.8 472.3h0M707.9 481.9h0M708.0 488.4h0M708.0 469.9h0M708.2 468.7h0M708.4 444.2h0M708.5 497.4h0M708.5 501.2h0M708.6 478.8h0M708.6 443.5h0M708.7 496.5h0M708.8 477.5h0M708.8 497.6h0M708.9 490.6h0M709.0 495.8h0M709.1 474.2h0M709.2 437.2h0M709.3 501.6h0M709.5 440.8h0M709.5 467.1h0M709.7 476.8h0M709.8 499.3h0M709.9 455.1h0M709.9 493.6h0M710.0 443.3h0M710.3 495.5h0M710.4 483.6h0M710.5 442.3h0M710.5 483.1h0M710.6 494.5h0M710.7 490.8h0M710.8 490.6h0M710.9 501.9h0M711.0 453.9h0M711.0 486.0h0M711.1 492.5h0M711.3 483.3h0M711.4 473.0h0M711.4 427.2h0M711.6 483.0h0M711.7 500.5h0M711.9 445.9h0M711.9 459.2h0M712.1 450.5h0M712.1 468.6h0M712.3 498.3h0M712.4 481.1h0M712.4 482.7h0M712.4 497.4h0M712.7 481.2h0M712.7 491.3h0M712.8 432.7h0M712.8 501.8h0M712.9 495.9h0M712.9 478.5h0M713.0 492.2h0M713.2 480.3h0M713.3 493.8h0M713.4 471.2h0M713.6 428.6h0M713.6 471.4h0M713.7 454.3h0M713.9 431.2h0M714.0 493.4h0M714.1 469.7h0M714.2 468.6h0M714.3 405.6h0M714.4 476.8h0M714.4 459.0h0M714.4 485.9h0M714.8 501.0h0M714.9 453.6h0M714.9 451.0h0M715.0 451.8h0M715.2 499.9h0M715.3 496.5h0M715.4 493.1h0M715.4 501.3h0M715.5 449.3h0M715.5 462.2h0M715.6 483.7h0M715.8 468.4h0M715.8 467.4h0M715.9 460.4h0M716.0 490.1h0M716.1 499.9h0M716.2 441.3h0M716.3 498.0h0M716.6 491.9h0M716.7 443.3h0M716.7 488.1h0M716.8 499.5h0M716.9 484.0h0M717.0 492.4h0M717.1 481.2h0M717.2 498.0h0M717.4 501.9h0M717.4 498.0h0M717.4 496.5h0M717.5 450.9h0M717.7 494.9h0M717.8 493.5h0M717.8 471.6h0M717.9 477.1h0M718.0 498.8h0M718.1 482.8h0M718.2 465.9h0M718.2 484.0h0M718.4 494.7h0M718.4 498.5h0M718.5 487.9h0M718.6 486.2h0M719.0 486.5h0M719.1 487.9h0M719.1 483.7h0M719.2 498.4h0M719.2 490.4h0M719.3 487.3h0M719.4 431.0h0M719.4 482.3h0M719.5 497.0h0M719.6 500.2h0M719.8 486.6h0M719.8 483.9h0M719.9 488.8h0M719.9 496.0h0M720.0 495.3h0M720.2 491.1h0M720.3 497.6h0M720.4 455.9h0M720.5 488.0h0M720.6 476.6h0M720.7 490.9h0M720.8 412.6h0M720.8 469.7h0M720.9 472.5h0M720.9 496.7h0M721.0 492.2h0M721.1 477.5h0M721.3 496.3h0M721.3 499.0h0M721.4 475.9h0M721.4 488.0h0M721.6 437.3h0M721.7 495.7h0M721.8 501.5h0M721.9 471.7h0M721.9 491.6h0M722.0 497.1h0M722.1 501.9h0M722.2 480.8h0M722.2 501.8h0M722.4 491.3h0M722.5 496.0h0M722.6 500.3h0M722.6 500.1h0M722.7 481.8h0M722.8 490.8h0M722.8 497.3h0M722.9 501.5h0M722.9 497.3h0M723.1 488.6h0M723.1 458.5h0M723.2 457.9h0M723.3 477.4h0M723.4 412.7h0M723.4 494.6h0M723.4 492.9h0M723.5 464.5h0M723.5 476.5h0M723.8 469.5h0M723.9 487.5h0M724.0 445.5h0M724.0 500.6h0M724.1 470.2h0M724.2 457.3h0M724.3 492.2h0M724.4 493.0h0M724.4 501.0h0M724.5 461.7h0M724.6 471.6h0M724.7 467.7h0M724.8 457.8h0M724.9 486.6h0M725.1 460.5h0M725.3 489.7h0M725.4 454.9h0M725.4 489.4h0M725.5 485.5h0M725.5 479.7h0M725.6 494.6h0M725.6 462.9h0M725.7 490.9h0M725.8 483.2h0M725.8 477.5h0M725.9 453.9h0M726.0 453.8h0M726.1 457.6h0M726.2 481.5h0M726.3 486.4h0" stroke="#87ceeb" stroke-width="5.3" stroke-linecap="round" fill="none"/>
<rect x="723.7" y="494.7" width="29.6" height="26.0" fill="#bebebe"/>
<path d="M726.4 498.3h0M726.4 498.2h0M726.5 497.0h0M726.7 492.7h0M726.8 448.1h0M727.0 490.5h0M727.0 422.5h0M727.1 495.2h0M727.1 495.8h0M727.2 491.9h0M727.2 490.7h0M727.3 495.4h0M727.4 501.3h0M727.5 496.9h0M727.9 497.6h0M727.9 501.1h0M728.1 486.5h0M728.2 477.3h0M728.2 501.5h0M728.3 464.8h0M728.3 484.7h0M728.4 500.6h0M728.5 420.8h0M728.8 493.1h0M728.8 450.7h0M728.9 472.8h0M728.9 491.6h0M728.9 471.6h0M729.0 492.1h0M729.1 496.3h0M729.2 435.1h0M729.4 442.2h0M729.4 471.8h0M729.6 497.0h0M729.7 501.7h0M729.7 500.1h0M729.8 481.5h0M729.9 463.5h0M730.0 470.5h0M730.2 492.2h0M730.3 495.3h0M730.5 478.9h0M730.5 476.5h0M730.8 496.3h0M730.9 486.1h0M731.0 496.2h0M731.2 432.0h0M731.3 482.0h0M731.3 497.0h0M731.5 469.0h0M731.7 481.9h0M731.8 497.9h0M731.8 500.7h0M731.9 498.4h0M731.9 439.8h0M732.0 495.7h0M732.1 492.3h0M732.2 445.5h0M732.3 499.7h0M732.3 472.8h0M732.5 490.9h0M732.5 486.0h0M732.6 448.4h0M732.7 470.5h0M732.9 484.7h0M732.9 434.4h0M733.0 493.9h0M733.1 413.8h0M733.2 481.2h0M733.2 492.4h0M733.4 454.6h0M733.5 489.5h0M733.5 491.9h0M733.5 497.3h0M733.6 451.0h0M733.8 500.3h0M733.9 498.6h0M733.9 447.0h0M734.0 462.8h0M734.1 487.1h0M734.3 433.5h0M734.4 428.8h0M734.5 413.9h0M734.6 489.3h0M734.7 500.7h0M734.7 500.7h0M734.9 424.1h0M734.9 491.2h0M735.0 487.9h0M735.1 490.2h0M735.1 446.4h0M735.3 478.6h0M735.4 407.1h0M735.4 500.3h0M735.5 409.3h0M735.5 489.5h0M735.6 481.5h0M735.8 428.5h0M735.8 482.8h0M735.9 501.0h0M736.1 473.8h0M736.1 443.8h0M736.3 469.5h0M736.4 483.8h0M736.5 501.0h0M736.5 501.8h0M736.6 455.0h0M736.7 487.0h0M736.7 496.5h0M736.8 443.1h0M736.8 471.1h0M736.9 493.5h0M737.0 500.7h0M737.0 495.9h0M737.1 472.4h0M737.4 470.0h0M737.5 409.1h0M737.7 492.3h0M737.8 458.8h0M737.9 494.5h0M737.9 451.2h0M738.0 463.1h0M738.2 488.9h0M738.5 497.1h0M738.5 483.0h0M738.6 483.3h0M738.7 477.4h0M738.7 500.0h0M738.8 481.9h0M739.1 484.4h0M739.4 475.4h0M739.5 478.2h0M739.6 491.3h0M739.7 475.8h0M739.8 478.1h0M739.8 500.7h0M739.9 485.6h0M740.0 493.7h0M740.1 484.8h0M740.2 500.5h0M740.3 500.0h0M740.3 497.3h0M740.4 490.2h0M740.5 449.9h0M740.7 472.5h0M740.8 467.8h0M740.9 489.2h0M741.0 492.7h0M741.1 482.4h0M741.3 485.1h0M741.3 418.8h0M741.4 495.4h0M741.5 496.2h0M741.6 455.7h0M741.8 500.0h0M742.0 471.3h0M742.2 467.1h0M742.3 501.1h0M742.4 490.3h0M742.5 480.6h0M742.5 501.7h0M742.5 472.7h0M742.6 405.7h0M742.7 493.8h0M742.8 499.3h0M742.8 435.3h0M742.9 478.3h0M742.9 496.9h0M743.0 448.1h0M743.1 469.6h0M743.1 467.4h0M743.2 489.9h0M743.3 501.7h0M743.4 488.8h0M743.4 481.2h0M743.5 495.7h0M743.6 436.3h0M743.7 468.0h0M743.8 501.4h0M744.0 501.8h0M744.1 488.7h0M744.3 472.5h0M744.3 481.1h0M744.4 489.9h0M744.5 417.3h0M744.5 498.0h0M744.9 499.4h0M744.9 479.2h0M745.0 483.6h0M745.2 481.9h0M745.4 474.2h0M745.4 454.8h0M745.5 427.2h0M745.6 497.0h0M745.7 458.5h0M745.8 494.9h0M745.9 466.9h0M745.9 496.8h0M746.0 447.0h0M746.0 462.9h0M746.1 485.9h0M746.1 486.3h0M746.3 492.8h0M746.5 422.4h0M746.6 459.8h0M746.7 489.2h0M746.8 491.1h0M746.9 488.8h0M747.0 444.2h0M747.0 494.6h0M747.1 488.6h0M747.2 488.9h0M747.2 472.8h0M747.3 467.0h0M747.4 479.3h0M747.5 490.2h0M747.6 490.7h0M747.7 468.4h0M747.7 498.8h0M747.9 496.8h0M748.0 469.3h0M748.0 470.2h0M748.0 495.2h0M748.1 478.2h0M748.2 493.0h0M748.3 500.8h0M748.3 468.2h0M748.4 500.8h0M748.5 476.3h0M748.5 476.7h0M748.7 429.4h0M748.8 500.8h0M749.0 444.2h0M749.0 442.9h0M749.1 454.6h0M749.2 427.6h0M749.3 498.1h0M749.6 433.6h0M749.6 427.2h0M749.8 496.6h0M749.8 492.9h0M750.0 471.1h0M750.1 470.2h0M750.2 496.6h0M750.3 474.6h0M750.4 479.3h0M750.5 499.3h0M750.5 490.4h0M750.6 497.5h0" stroke="#bebebe" stroke-width="5.3" stroke-linecap="round" fill="none"/>
<rect x="748.0" y="494.7" width="31.8" height="26.0" fill="#87ceeb"/>
<path d="M750.8 463.0h0M750.9 441.8h0M751.0 482.3h0M751.0 487.3h0M751.1 434.7h0M751.2 469.5h0M751.5 480.4h0M751.7 423.2h0M751.8 413.0h0M751.8 491.8h0M752.0 446.8h0M752.0 454.4h0M752.1 497.1h0M752.2 501.2h0M752.3 448.2h0M752.4 479.3h0M752.5 486.6h0M752.6 492.5h0M752.7 494.8h0M752.8 494.4h0M752.8 476.3h0M753.0 502.0h0M753.2 501.3h0M753.2 498.9h0M753.3 455.1h0M753.3 471.2h0M753.4 498.8h0M753.4 488.7h0M753.5 482.8h0M753.6 496.3h0M753.8 496.5h0M753.8 471.5h0M754.0 483.7h0M754.1 498.9h0M754.3 486.5h0M754.4 477.2h0M754.5 465.4h0M754.5 478.3h0M754.5 415.0h0M754.7 484.4h0M754.8 430.0h0M754.8 489.9h0M754.9 494.5h0M755.0 495.9h0M755.2 484.8h0M755.3 454.6h0M755.5 451.6h0M755.5 487.3h0M755.6 482.5h0M755.9 492.1h0M755.9 461.5h0M756.0 501.4h0M756.0 450.6h0M756.1 414.0h0M756.1 452.0h0M756.2 470.2h0M756.2 464.5h0M756.3 501.8h0M756.4 484.0h0M756.6 488.8h0M756.6 474.1h0M756.7 478.0h0M757.0 491.0h0M757.0 499.5h0M757.2 470.9h0M757.5 462.6h0M757.6 467.7h0M757.6 471.9h0M757.7 450.2h0M757.8 449.1h0M758.1 500.2h0M758.2 499.8h0M758.2 480.5h0M758.3 492.1h0M758.3 433.4h0M758.4 498.3h0M758.5 489.0h0M758.5 496.4h0M758.6 498.8h0M758.7 468.5h0M758.9 428.5h0M758.9 468.5h0M759.0 495.9h0M759.3 487.7h0M759.4 485.1h0M759.5 494.7h0M759.6 488.8h0M759.7 488.6h0M759.9 475.6h0M760.0 493.2h0M760.1 485.9h0M760.1 480.4h0M760.3 489.3h0M760.4 501.1h0M760.4 476.7h0M760.5 480.4h0M760.5 423.4h0M760.6 488.7h0M760.7 484.4h0M760.8 495.5h0M761.0 493.8h0M761.0 490.2h0M761.1 497.9h0M761.3 484.4h0M761.4 500.1h0M761.4 406.1h0M761.5 476.9h0M761.6 494.5h0M761.7 469.8h0M761.7 473.4h0M761.8 491.2h0M762.0 497.0h0M762.1 484.8h0M762.3 447.4h0M762.3 495.7h0M762.4 455.2h0M762.4 496.0h0M762.5 480.5h0M762.5 474.3h0M762.5 436.2h0M762.6 497.3h0M762.6 456.5h0M762.7 500.6h0M762.8 493.6h0M762.8 419.3h0M763.0 482.4h0M763.0 483.0h0M763.0 463.9h0M763.1 462.5h0M763.2 473.6h0M763.2 472.3h0M763.3 486.8h0M763.3 494.3h0M763.4 436.8h0M763.4 494.0h0M763.5 472.3h0M763.6 455.5h0M763.8 500.9h0M763.8 469.3h0M763.9 448.7h0M764.0 464.0h0M764.0 498.5h0M764.1 460.1h0M764.2 501.1h0M764.2 461.0h0M764.3 499.0h0M764.5 455.1h0M764.5 487.4h0M764.8 478.0h0M764.8 450.8h0M764.9 457.8h0M765.0 492.5h0M765.0 419.4h0M765.1 476.7h0M765.1 421.2h0M765.2 456.0h0M765.3 475.4h0M765.4 475.9h0M765.4 465.7h0M765.5 489.4h0M765.8 498.4h0M765.9 473.9h0M766.0 489.8h0M766.1 495.7h0M766.1 442.9h0M766.2 491.8h0M766.2 475.7h0M766.3 473.1h0M766.4 498.2h0M766.5 472.6h0M766.8 484.2h0M766.8 498.0h0M766.9 450.8h0M767.0 442.6h0M767.2 462.2h0M767.3 477.1h0M767.3 483.1h0M767.5 501.1h0M767.5 496.3h0M767.5 501.1h0M767.7 494.7h0M767.8 455.9h0M767.9 501.8h0M768.1 434.6h0M768.2 500.6h0M768.2 485.0h0M768.3 430.9h0M768.4 501.6h0M768.5 475.2h0M768.6 495.8h0M768.7 442.8h0M768.8 498.8h0M768.9 486.3h0M769.0 473.1h0M769.0 478.3h0M769.1 494.2h0M769.1 499.2h0M769.2 496.3h0M769.3 497.8h0M769.3 464.3h0M769.4 469.6h0M769.5 501.6h0M769.7 496.3h0M769.8 487.4h0M769.9 493.7h0M770.1 492.7h0M770.2 475.8h0M770.3 485.3h0M770.4 495.7h0M770.5 489.0h0M770.5 443.0h0M770.6 496.7h0M770.6 498.2h0M770.7 497.5h0M770.8 493.9h0M770.9 499.2h0M771.0 489.1h0M771.2 492.6h0M771.2 488.0h0M771.3 470.8h0M771.4 478.0h0M771.5 499.4h0M771.5 488.4h0M771.7 466.8h0M772.0 473.4h0M772.3 497.8h0M772.3 495.2h0M772.4 499.3h0M772.4 456.7h0M772.5 501.8h0M772.5 479.5h0M772.5 497.9h0M772.6 500.8h0M772.7 486.8h0M772.9 494.6h0M773.0 442.8h0M773.1 450.3h0M773.1 494.6h0M773.2 482.0h0M773.4 495.6h0M773.6 497.5h0M773.7 488.1h0M773.9 497.4h0M774.0 467.4h0M774.0 444.6h0M774.0 459.2h0M774.1 490.6h0M774.1 449.0h0M774.2 421.0h0M774.2 493.4h0M774.3 484.1h0M774.5 495.7h0M774.6 492.1h0M774.8 489.1h0M774.8 471.9h0M775.0 494.3h0M775.0 493.3h0M775.0 494.7h0M775.1 483.7h0M775.2 473.0h0M775.4 446.4h0M775.5 470.2h0M775.6 478.9h0M775.6 472.4h0M775.7 492.7h0M775.8 474.1h0M776.0 499.3h0M776.2 500.9h0M776.3 443.8h0M776.5 500.5h0M776.5 494.8h0M776.6 443.9h0M776.7 431.1h0M776.8 467.3h0M776.9 479.6h0M777.0 502.0h0M777.1 500.3h0M777.2 491.3h0" stroke="#87ceeb" stroke-width="5.3" stroke-linecap="round" fill="none"/>
<rect x="774.6" y="494.7" width="28.5" height="26.0" fill="#bebebe"/>
<path d="M777.3 462.4h0M777.4 479.0h0M777.5 499.4h0M777.6 500.4h0M777.7 499.8h0M777.8 466.2h0M777.8 442.6h0M777.9 491.9h0M777.9 446.7h0M778.1 479.7h0M778.1 501.4h0M778.3 465.1h0M778.5 431.9h0M778.8 494.3h0M778.9 488.3h0M779.0 479.3h0M779.1 495.2h0M779.3 473.0h0M779.4 481.9h0M779.4 473.4h0M779.7 499.8h0M779.7 498.4h0M780.0 500.1h0M780.0 463.5h0M780.1 475.9h0M780.1 499.8h0M780.3 499.7h0M780.4 492.2h0M780.5 411.5h0M780.7 501.3h0M780.8 475.6h0M780.9 497.4h0M780.9 464.2h0M781.0 491.0h0M781.0 499.0h0M781.0 468.7h0M781.2 482.5h0M781.3 498.9h0M781.4 496.1h0M781.4 494.5h0M781.5 478.2h0M781.6 501.9h0M781.7 501.0h0M781.8 494.3h0M781.8 473.8h0M781.9 453.4h0M781.9 479.6h0M782.3 499.2h0M782.3 467.1h0M782.4 483.5h0M782.5 487.0h0M782.5 483.9h0M782.7 487.5h0M782.9 491.7h0M783.0 422.8h0M783.1 494.2h0M783.3 410.7h0M783.4 498.2h0M783.4 477.9h0M783.5 492.8h0M783.5 495.2h0M783.6 478.9h0M783.7 496.6h0M783.8 455.6h0M784.0 437.4h0M784.0 481.8h0M784.0 480.5h0M784.1 480.9h0M784.3 499.6h0M784.6 492.8h0M784.6 497.2h0M784.7 496.6h0M784.7 480.8h0M784.8 497.7h0M784.8 488.1h0M784.9 496.0h0M784.9 451.7h0M785.0 484.4h0M785.0 498.9h0M785.2 454.0h0M785.2 465.9h0M785.3 470.1h0M785.4 499.4h0M785.7 478.9h0M785.9 496.0h0M786.0 460.0h0M786.1 464.6h0M786.2 484.5h0M786.3 475.0h0M786.4 491.9h0M786.4 460.5h0M786.6 477.9h0M786.7 492.3h0M786.7 486.7h0M786.9 461.5h0M787.0 491.8h0M787.0 497.2h0M787.0 475.1h0M787.2 497.9h0M787.3 498.3h0M787.3 447.3h0M787.6 493.9h0M787.8 459.1h0M787.9 486.5h0M787.9 495.5h0M788.0 489.0h0M788.0 466.1h0M788.0 501.5h0M788.1 497.4h0M788.1 483.9h0M788.3 501.1h0M788.3 480.4h0M788.6 500.4h0M788.7 460.3h0M788.7 501.6h0M788.8 465.6h0M788.8 489.4h0M788.9 499.3h0M789.0 464.5h0M789.0 490.4h0M789.1 495.0h0M789.2 457.4h0M789.3 499.1h0M789.3 486.2h0M789.4 501.0h0M789.4 482.7h0M789.7 457.6h0M789.7 497.3h0M789.8 462.4h0M789.8 496.6h0M789.9 479.1h0M790.0 472.6h0M790.1 492.7h0M790.2 487.1h0M790.2 501.5h0M790.3 420.9h0M790.4 460.3h0M790.5 408.1h0M790.6 491.1h0M790.6 494.7h0M790.7 501.5h0M790.8 491.1h0M791.0 475.0h0M791.0 477.0h0M791.0 476.8h0M791.1 474.1h0M791.1 425.8h0M791.2 500.4h0M791.3 486.4h0M791.5 493.6h0M791.5 459.4h0M791.5 480.5h0M791.7 490.6h0M791.9 456.3h0M792.0 455.3h0M792.1 480.7h0M792.1 481.0h0M792.2 496.0h0M792.3 460.6h0M792.3 442.9h0M792.5 473.7h0M792.7 469.0h0M792.8 407.2h0M793.0 479.2h0M793.0 495.2h0M793.1 485.8h0M793.1 479.0h0M793.2 466.1h0M793.2 501.3h0M793.3 495.9h0M793.4 500.2h0M793.5 442.6h0M793.5 501.1h0M793.6 498.5h0M793.6 480.5h0M793.6 488.3h0M793.7 495.0h0M793.8 498.2h0M793.9 467.2h0M794.0 491.8h0M794.1 459.9h0M794.2 495.0h0M794.4 448.0h0M794.5 424.4h0M794.6 471.0h0M794.7 407.2h0M794.9 475.0h0M795.1 498.8h0M795.3 500.0h0M795.5 499.5h0M795.6 486.7h0M795.6 465.9h0M795.8 480.5h0M795.8 440.6h0M795.9 474.5h0M796.1 497.7h0M796.2 497.3h0M796.3 493.0h0M796.4 458.5h0M796.5 479.9h0M796.6 499.4h0M796.6 442.3h0M796.7 484.9h0M796.8 438.4h0M796.9 496.9h0M796.9 472.4h0M797.0 438.6h0M797.1 496.7h0M797.1 487.8h0M797.1 455.4h0M797.2 470.9h0M797.2 489.4h0M797.3 495.9h0M797.4 485.9h0M797.5 482.8h0M797.6 415.3h0M797.6 469.0h0M797.6 482.5h0M797.7 492.7h0M797.7 482.8h0M797.8 474.9h0M797.9 491.9h0M797.9 429.5h0M798.0 442.6h0M798.1 492.9h0M798.1 482.7h0M798.1 492.5h0M798.2 467.4h0M798.2 433.1h0M798.3 433.3h0M798.3 491.4h0M798.4 406.6h0M798.5 473.9h0M798.5 435.6h0M798.6 485.2h0M798.6 455.3h0M798.6 501.0h0M798.7 480.5h0M798.8 496.5h0M798.9 494.2h0M798.9 491.3h0M799.0 446.1h0M799.0 486.3h0M799.1 452.8h0M799.1 477.0h0M799.2 495.0h0M799.3 497.5h0M799.3 469.4h0M799.4 458.9h0M799.5 478.3h0M799.5 489.3h0M799.6 461.0h0M799.8 481.7h0M799.8 497.9h0M799.9 459.1h0M799.9 484.2h0M800.0 500.3h0M800.0 474.9h0M800.1 485.0h0M800.3 455.5h0M800.3 488.9h0M800.4 486.1h0" stroke="#bebebe" stroke-width="5.3" stroke-linecap="round" fill="none"/>
<rect x="797.9" y="494.7" width="27.9" height="26.0" fill="#87ceeb"/>
<path d="M800.6 450.4h0M800.6 465.8h0M800.8 431.4h0M800.9 500.3h0M801.0 493.5h0M801.0 473.2h0M801.1 445.8h0M801.1 480.3h0M801.2 501.4h0M801.2 492.6h0M801.3 495.0h0M801.4 474.3h0M801.6 497.1h0M801.6 439.6h0M801.6 496.1h0M801.7 491.8h0M801.9 489.1h0M802.0 438.5h0M802.0 499.4h0M802.1 485.4h0M802.1 488.5h0M802.3 471.2h0M802.4 479.0h0M802.5 470.0h0M802.6 480.6h0M802.6 495.9h0M802.6 491.0h0M802.7 481.2h0M802.8 489.7h0M802.9 487.4h0M803.0 483.0h0M803.0 489.1h0M803.2 440.9h0M803.2 456.5h0M803.3 484.1h0M803.3 455.1h0M803.4 489.3h0M803.4 461.6h0M803.5 492.4h0M803.5 473.0h0M803.6 410.8h0M803.6 463.7h0M804.0 465.8h0M804.1 475.3h0M804.1 496.4h0M804.1 488.3h0M804.3 498.5h0M804.4 490.3h0M804.5 461.6h0M804.6 500.5h0M804.7 492.0h0M805.0 490.6h0M805.1 476.8h0M805.1 485.2h0M805.1 424.8h0M805.2 440.6h0M805.3 495.3h0M805.3 432.1h0M805.5 485.2h0M805.6 498.2h0M805.6 475.1h0M805.7 478.4h0M805.8 488.6h0M805.8 474.6h0M806.1 479.1h0M806.1 489.0h0M806.2 500.9h0M806.2 499.5h0M806.3 490.9h0M806.4 496.6h0M806.6 472.6h0M806.6 501.0h0M806.7 500.4h0M806.8 450.1h0M807.0 472.3h0M807.0 465.7h0M807.1 456.3h0M807.1 490.4h0M807.2 483.7h0M807.3 451.0h0M807.3 492.2h0M807.4 479.2h0M807.7 469.8h0M807.8 498.2h0M807.9 493.2h0M808.0 491.3h0M808.1 483.6h0M808.1 486.9h0M808.2 484.1h0M808.3 488.1h0M808.3 440.5h0M808.4 456.8h0M808.4 494.1h0M808.5 490.5h0M808.6 489.3h0M808.7 484.9h0M808.9 457.6h0M808.9 495.5h0M809.0 500.4h0M809.0 422.4h0M809.2 502.0h0M809.2 418.4h0M809.3 481.2h0M809.3 478.2h0M809.5 456.2h0M809.5 487.9h0M809.6 501.3h0M809.6 476.2h0M809.7 494.3h0M809.9 501.6h0M810.0 497.6h0M810.1 444.4h0M810.2 481.1h0M810.3 464.4h0M810.6 477.8h0M810.6 445.6h0M810.8 448.0h0M810.9 471.4h0M811.0 461.4h0M811.1 493.2h0M811.1 455.9h0M811.2 489.6h0M811.4 482.8h0M811.6 435.7h0M811.6 480.0h0M811.7 488.9h0M811.8 483.6h0M811.8 460.3h0M812.1 433.4h0M812.1 495.7h0M812.2 472.4h0M812.2 451.2h0M812.3 491.4h0M812.4 437.2h0M812.4 472.6h0M812.6 491.0h0M812.7 450.3h0M812.7 497.8h0M812.8 498.1h0M812.9 484.0h0M812.9 496.0h0M813.0 485.6h0M813.1 444.5h0M813.1 477.3h0M813.2 431.8h0M813.2 465.0h0M813.3 495.2h0M813.4 420.5h0M813.4 499.6h0M813.5 429.5h0M813.6 498.9h0M813.7 463.0h0M813.8 485.7h0M813.9 478.8h0M814.0 453.6h0M814.0 501.1h0M814.1 495.5h0M814.1 499.7h0M814.3 406.0h0M814.3 495.2h0M814.4 471.2h0M814.5 492.4h0M814.8 473.5h0M814.8 492.0h0M814.9 498.5h0M815.1 492.2h0M815.1 491.2h0M815.2 493.5h0M815.3 488.0h0M815.4 432.4h0M815.5 492.7h0M815.6 498.0h0M815.7 499.4h0M816.3 491.3h0M816.5 465.2h0M816.6 448.5h0M816.7 461.2h0M816.8 492.3h0M816.8 474.3h0M817.1 497.7h0M817.1 477.0h0M817.3 497.9h0M817.4 443.8h0M817.4 477.3h0M817.5 497.1h0M817.6 439.4h0M817.7 486.8h0M817.8 466.7h0M817.9 478.4h0M818.0 463.8h0M818.1 496.4h0M818.3 430.0h0M818.4 462.6h0M818.5 486.6h0M818.5 481.4h0M818.6 491.8h0M818.7 488.8h0M818.7 484.1h0M818.8 497.9h0M818.9 486.8h0M819.0 481.1h0M819.1 488.0h0M819.2 462.6h0M819.2 493.5h0M819.3 468.8h0M819.4 501.1h0M819.5 473.7h0M819.5 463.3h0M819.8 498.7h0M819.8 475.7h0M820.0 477.2h0M820.1 478.2h0M820.4 468.2h0M820.7 470.2h0M820.8 489.1h0M820.8 494.1h0M820.9 498.1h0M820.9 488.2h0M821.0 488.3h0M821.1 464.4h0M821.2 493.6h0M821.2 478.8h0M821.3 479.7h0M821.3 498.5h0M821.4 467.0h0M821.5 499.9h0M821.6 449.8h0M821.6 487.4h0M821.6 492.5h0M821.7 488.6h0M821.8 473.0h0M821.9 466.3h0M821.9 492.6h0M822.1 480.0h0M822.3 480.1h0M822.4 486.7h0M822.4 499.9h0M822.5 495.8h0M822.6 475.7h0M822.6 404.4h0M822.7 499.5h0M822.8 453.3h0M822.9 452.7h0M822.9 461.5h0M823.0 482.8h0M823.1 459.3h0" stroke="#87ceeb" stroke-width="5.3" stroke-linecap="round" fill="none"/>
<path d="M78.3 297.4h0M100.4 311.5h0M79.6 344.1h0M77.3 347.3h0M95.4 345.3h0M132.3 341.4h0M137.3 346.4h0M79.4 357.4h0M89.4 358.3h0M98.3 368.3h0M112.2 369.4h0M75.5 372.2h0M211.3 366.3h0M215.4 375.2h0M205.6 377.0h0M230.3 377.0h0M314.3 325.4h0M376.3 321.5h0M300.4 341.4h0M304.4 358.3h0M319.3 363.3h0M326.2 368.3h0M371.5 370.4h0M373.2 374.3h0M388.3 341.4h0M454.4 343.2h0M448.3 365.4h0M458.5 367.2h0M398.1 372.2h0M396.4 376.1h0M386.2 376.5h0M445.3 377.9h0M524.5 313.3h0M521.3 316.5h0M566.3 349.4h0M506.3 360.5h0M561.3 360.5h0M585.4 356.5h0M580.2 361.5h0M499.4 370.4h0M510.4 368.3h0M564.4 367.2h0M581.3 368.3h0M511.3 377.9h0M562.2 377.9h0M628.3 344.4h0M641.2 348.4h0M692.3 378.8h0M796.3 305.4h0M728.3 331.6h0M730.6 332.5h0M791.3 336.4h0M729.5 366.3h0M743.4 374.3h0M213.1 4.8h0M212.8 20.4h0M212.6 51.3h0M212.6 53.4h0M213.3 63.3h0M212.6 77.4h0M213.3 88.8h0M212.5 93.6h0M212.5 96.0h0M212.5 100.0h0M213.0 101.6h0M212.5 109.3h0M212.5 114.5h0M212.5 118.5h0M212.8 124.0h0M213.0 130.2h0M213.0 132.9h0M213.0 136.1h0M213.0 137.7h0M212.3 152.4h0M213.0 162.9h0M213.3 170.4h0M212.5 175.2h0M213.0 177.3h0M212.3 185.3h0M212.3 198.5h0M213.3 208.1h0M212.5 219.3h0M213.0 223.3h0M212.5 226.5h0M212.5 241.4h0M211.2 264.8h0M213.3 267.2h0M213.6 286.5h0M211.5 320.4h0M213.5 320.4h0M75.2 388.2h0M77.3 390.4h0M125.4 382.4h0M117.3 387.2h0M119.5 389.3h0M108.1 394.2h0M126.5 394.5h0M109.4 399.2h0M111.6 400.5h0M115.3 400.5h0M121.4 400.1h0M196.4 381.2h0M203.4 384.4h0M210.3 392.3h0M222.3 390.4h0M209.3 399.2h0M211.8 398.6h0M214.6 400.5h0M238.4 398.3h0M307.3 386.3h0M287.7 390.4h0M297.2 391.2h0M310.3 394.5h0M304.2 396.3h0M287.5 398.3h0M316.6 397.3h0M320.4 400.1h0M326.3 401.4h0M310.3 401.4h0M369.4 395.4h0M375.0 373.9h0M392.5 382.4h0M382.3 386.2h0M386.4 390.4h0M390.4 390.4h0M395.5 389.5h0M385.4 396.3h0M392.5 397.3h0M393.4 402.4h0M443.4 387.4h0M444.4 395.4h0M446.5 397.3h0M465.5 398.3h0M464.2 402.4h0M582.3 381.1h0M509.4 391.2h0M515.4 393.3h0M561.6 398.3h0M528.1 402.4h0M621.3 392.0h0M673.4 397.3h0M691.3 383.4h0M686.3 399.2h0M692.3 397.3h0M696.3 391.2h0M695.7 396.0h0M729.5 386.2h0M734.3 384.4h0M735.3 398.3h0M781.1 386.9h0M783.4 391.2h0M776.3 400.1h0M796.3 400.1h0M789.4 383.1h0M798.3 399.0h0" stroke="#bebebe" stroke-width="5.3" stroke-linecap="round" fill="none"/>
<path d="M163.2 309.4h0M156.3 347.3h0M165.4 349.1h0M150.4 370.2h0M142.2 377.2h0M148.1 379.7h0M168.9 374.3h0M259.3 309.4h0M262.4 363.3h0M273.0 358.3h0M274.0 374.0h0M340.3 327.3h0M341.2 346.4h0M356.3 347.3h0M276.4 374.3h0M280.3 373.1h0M335.3 375.2h0M363.1 378.8h0M422.2 331.3h0M424.8 332.7h0M469.3 345.5h0M424.5 361.3h0M535.4 347.3h0M558.3 346.4h0M557.3 352.3h0M552.1 368.3h0M489.4 375.6h0M613.5 254.2h0M650.3 340.5h0M658.3 358.3h0M669.4 358.3h0M647.3 369.4h0M596.2 374.3h0M706.4 238.3h0M767.3 328.2h0M716.3 365.4h0M762.1 372.6h0M767.4 371.3h0M806.2 353.3h0M813.3 379.6h0M169.5 380.6h0M148.2 391.2h0M167.3 396.0h0M142.3 399.8h0M146.5 399.2h0M141.0 402.4h0M170.1 380.2h0M173.6 382.4h0M184.6 387.2h0M183.4 389.3h0M189.7 391.2h0M192.2 391.2h0M268.5 385.3h0M254.2 395.4h0M262.2 392.9h0M264.4 398.3h0M329.2 384.4h0M326.3 392.3h0M285.8 389.1h0M348.5 398.3h0M270.0 385.3h0M411.5 382.4h0M411.5 384.7h0M419.3 382.1h0M415.5 387.8h0M417.8 391.0h0M419.6 394.5h0M401.3 389.5h0M426.3 402.4h0M477.3 383.1h0M481.3 387.2h0M473.5 388.5h0M469.3 392.3h0M489.5 387.8h0M492.7 389.1h0M487.6 392.0h0M496.2 399.2h0M534.4 393.3h0M539.2 394.2h0M539.2 398.3h0M530.4 399.2h0M548.4 393.3h0M554.4 390.4h0M556.6 393.3h0M558.2 402.4h0M588.9 387.8h0M588.6 395.4h0M590.1 388.2h0M598.3 388.2h0M589.4 395.2h0M600.2 402.1h0M613.1 403.0h0M647.0 393.3h0M652.5 400.1h0M644.5 402.1h0M717.2 399.2h0M706.5 402.4h0M712.2 401.4h0M764.4 392.0h0M755.2 397.3h0M763.4 396.3h0M768.5 398.3h0M798.6 399.2h0M809.6 382.0h0M813.3 381.4h0M815.2 394.3h0M801.4 399.4h0M811.2 402.7h0" stroke="#87ceeb" stroke-width="5.3" stroke-linecap="round" fill="none"/>
<path d="M36.1 150.6H860" stroke="#1ad81a" stroke-width="3" stroke-dasharray="3 9" fill="none"/>
<path d="M36.1 180.3H860" stroke="#e00000" stroke-width="3" stroke-dasharray="6 6 18 6" fill="none"/>
</svg>
<svg width="869" height="562" viewBox="0 0 869 562" style="position:absolute;left:0;top:0">
<rect x="0" y="0" width="869" height="4.8" fill="#fff"/>
<path d="M36.5 4.8V520" stroke="#000" stroke-width="1.1" fill="none"/>
<path d="M32.3 397.2H36.5M32.3 273.9H36.5M32.3 150.6H36.5M32.3 27.2H36.5" stroke="#333" stroke-width="1.1" fill="none"/>
<path d="M108.2 520V524M169.4 520V524M220.2 520V524M265.6 520V524M306.8 520V524M345.8 520V524M382.4 520V524M417.5 520V524M450.8 520V524M483.5 520V524M514.8 520V524M545.0 520V524M574.4 520V524M602.8 520V524M630.8 520V524M658.5 520V524M685.0 520V524M711.6 520V524M736.9 520V524M761.5 520V524M786.0 520V524M811.8 520V524" stroke="#333" stroke-width="1.1" fill="none"/>
</svg>
<div class="yl" style="top:391.6px">2</div><div class="yl" style="top:268.3px">4</div><div class="yl" style="top:145.0px">6</div><div class="yl" style="top:21.6px">8</div><svg width="869" height="562" style="position:absolute;left:0;top:0"><g fill="#4d4d4d" font-family="Liberation Sans, sans-serif" font-size="12.2"><text x="166.01" y="537.75">2</text><text x="216.81" y="537.75">3</text><text x="262.21" y="537.75">4</text><text x="303.41" y="537.75">5</text><text x="342.41" y="537.75">6</text><text x="379.01" y="537.75">7</text><text x="414.11" y="537.75">8</text><text x="447.41" y="537.75">9</text><text x="483.50" y="537.75">0</text><text x="545.00" y="537.75">2</text><text x="574.40" y="537.75">3</text><text x="602.80" y="537.75">4</text><text x="630.80" y="537.75">5</text><text x="658.50" y="537.75">6</text><text x="685.00" y="537.75">7</text><text x="711.60" y="537.75">8</text><text x="736.90" y="537.75">9</text><text x="754.72" y="537.75">2</text><text x="761.50" y="537.75">0</text><text x="779.22" y="537.75">2</text><text x="805.02" y="537.75">2</text><text x="811.80" y="537.75">2</text><path transform="translate(104.81 537.75) scale(0.00596 -0.00596)" d="M744 0H563V1147Q480 1070 360 1000Q230 925 109 880V1056Q280 1120 400 1230Q520 1340 580 1466H744Z"/><path transform="translate(476.72 537.75) scale(0.00596 -0.00596)" d="M744 0H563V1147Q480 1070 360 1000Q230 925 109 880V1056Q280 1120 400 1230Q520 1340 580 1466H744Z"/><path transform="translate(508.02 537.75) scale(0.00596 -0.00596)" d="M744 0H563V1147Q480 1070 360 1000Q230 925 109 880V1056Q280 1120 400 1230Q520 1340 580 1466H744Z"/><path transform="translate(514.80 537.75) scale(0.00596 -0.00596)" d="M744 0H563V1147Q480 1070 360 1000Q230 925 109 880V1056Q280 1120 400 1230Q520 1340 580 1466H744Z"/><path transform="translate(538.22 537.75) scale(0.00596 -0.00596)" d="M744 0H563V1147Q480 1070 360 1000Q230 925 109 880V1056Q280 1120 400 1230Q520 1340 580 1466H744Z"/><path transform="translate(567.62 537.75) scale(0.00596 -0.00596)" d="M744 0H563V1147Q480 1070 360 1000Q230 925 109 880V1056Q280 1120 400 1230Q520 1340 580 1466H744Z"/><path transform="translate(596.02 537.75) scale(0.00596 -0.00596)" d="M744 0H563V1147Q480 1070 360 1000Q230 925 109 880V1056Q280 1120 400 1230Q520 1340 580 1466H744Z"/><path transform="translate(624.02 537.75) scale(0.00596 -0.00596)" d="M744 0H563V1147Q480 1070 360 1000Q230 925 109 880V1056Q280 1120 400 1230Q520 1340 580 1466H744Z"/><path transform="translate(651.72 537.75) scale(0.00596 -0.00596)" d="M744 0H563V1147Q480 1070 360 1000Q230 925 109 880V1056Q280 1120 400 1230Q520 1340 580 1466H744Z"/><path transform="translate(678.22 537.75) scale(0.00596 -0.00596)" d="M744 0H563V1147Q480 1070 360 1000Q230 925 109 880V1056Q280 1120 400 1230Q520 1340 580 1466H744Z"/><path transform="translate(704.82 537.75) scale(0.00596 -0.00596)" d="M744 0H563V1147Q480 1070 360 1000Q230 925 109 880V1056Q280 1120 400 1230Q520 1340 580 1466H744Z"/><path transform="translate(730.12 537.75) scale(0.00596 -0.00596)" d="M744 0H563V1147Q480 1070 360 1000Q230 925 109 880V1056Q280 1120 400 1230Q520 1340 580 1466H744Z"/><path transform="translate(786.00 537.75) scale(0.00596 -0.00596)" d="M744 0H563V1147Q480 1070 360 1000Q230 925 109 880V1056Q280 1120 400 1230Q520 1340 580 1466H744Z"/></g></svg>
<div class="t" style="left:424px;top:541.5px;font-size:15.6px;color:#000;line-height:17px">BPcum</div>
<div class="t" style="left:-17px;top:254px;width:60px;text-align:center;font-size:14.9px;color:#000;line-height:17px;transform:rotate(-90deg)">-log10(P)</div>
<svg width="869" height="562" viewBox="0 0 869 562" style="position:absolute;left:0;top:0">
<ellipse cx="707.9" cy="517.8" rx="12" ry="9.8" fill="#fbfdff" fill-opacity="0.92"/>
<path d="M696.5 522Q697.5 527 700.5 529.5L699.5 530.5L705 528" fill="none" stroke="#666" stroke-width="0.7" stroke-dasharray="2 1.2"/>
<circle cx="703" cy="514.8" r="1.3" fill="#5f93b0"/><circle cx="712.6" cy="514.8" r="1.3" fill="#5f93b0"/>
<ellipse cx="719" cy="526.6" rx="10.6" ry="9.6" fill="#fff" fill-opacity="0.88"/>
<path d="M709.5 531Q706.5 519 719 517.2Q723 517 725 518.5" fill="none" stroke="#333" stroke-width="0.9"/>
<path d="M728.3 521.5Q730.5 528 726 533.5L727.5 537L722.5 534.8Q718 536.5 713 535.5" fill="none" stroke="#666" stroke-width="0.7" stroke-dasharray="2.5 1"/>
<path d="M714 523.3q1.5-1.6 3 0M721.8 523.3q1.5-1.6 3 0" fill="none" stroke="#777" stroke-width="0.7"/>
<g transform="translate(737 514.3)"><path d="M6 0.7L2 8.7M2.5 4.9H18.5M10 -0.3V18.9M3 11.7H17M1 18.9H20" transform="translate(-0.5 0.9)" fill="none" stroke="#333" stroke-width="2.0" stroke-opacity="0.9"/><path d="M6 0.7L2 8.7M2.5 4.9H18.5M10 -0.3V18.9M3 11.7H17M1 18.9H20" fill="none" stroke="#fff" stroke-width="1.7" stroke-opacity="0.95"/></g>
<g transform="translate(758 514.3)"><path d="M5.5 0.2L1.2 9.6M4.7 3V20.7M11.9 0.5L13.5 2.7M5.5 4.2H19.5M8 7.2H18M8 10.1H18M8 14V20M8 14H18V20.7M8 18.9H16" transform="translate(-0.5 0.9)" fill="none" stroke="#333" stroke-width="2.0" stroke-opacity="0.9"/><path d="M5.5 0.2L1.2 9.6M4.7 3V20.7M11.9 0.5L13.5 2.7M5.5 4.2H19.5M8 7.2H18M8 10.1H18M8 14V20M8 14H18V20.7M8 18.9H16" fill="none" stroke="#fff" stroke-width="1.7" stroke-opacity="0.95"/></g>
<g transform="translate(779 514.3)"><path d="M2.6 0L4.5 2.2M1 5H6M9 5.3L1 14.4M4.8 10.7V22.7M9 12.7L10.5 15.7M12.5 -1.3V23.2M14.4 6.4L19.7 11.7" transform="translate(-0.5 0.9)" fill="none" stroke="#333" stroke-width="2.0" stroke-opacity="0.9"/><path d="M2.6 0L4.5 2.2M1 5H6M9 5.3L1 14.4M4.8 10.7V22.7M9 12.7L10.5 15.7M12.5 -1.3V23.2M14.4 6.4L19.7 11.7" fill="none" stroke="#fff" stroke-width="1.7" stroke-opacity="0.95"/></g>
<g transform="translate(800 514.3)"><path d="M5.5 0.5L2.7 7.1L7.5 6.2M7.8 5.1L2.1 12.5L7 11M1.6 18.2L7.8 14.7M12.1 0.2L8.4 7.7M12.1 0.2L19.2 7.9M9 8.2H18M8.5 11.9V18.7M8.5 11.9H17.5V18.7M8.5 18.7H17.5" transform="translate(-0.5 0.9)" fill="none" stroke="#333" stroke-width="2.0" stroke-opacity="0.9"/><path d="M5.5 0.5L2.7 7.1L7.5 6.2M7.8 5.1L2.1 12.5L7 11M1.6 18.2L7.8 14.7M12.1 0.2L8.4 7.7M12.1 0.2L19.2 7.9M9 8.2H18M8.5 11.9V18.7M8.5 11.9H17.5V18.7M8.5 18.7H17.5" fill="none" stroke="#fff" stroke-width="1.7" stroke-opacity="0.95"/></g>
<g transform="translate(821 514.3)"><path d="M5.5 1.2L5.8 3.2M1.5 5.2H9.5M3.5 7.7V14.7M7.5 6.7L6.5 14.2M1 17.7L10 15.7M14.7 0.2V8.7M15 5.2H20M11.5 10.7V19.2M11.5 10.7H19.5V19.2M11.5 19.2H19.5" transform="translate(-0.5 0.9)" fill="none" stroke="#333" stroke-width="2.0" stroke-opacity="0.9"/><path d="M5.5 1.2L5.8 3.2M1.5 5.2H9.5M3.5 7.7V14.7M7.5 6.7L6.5 14.2M1 17.7L10 15.7M14.7 0.2V8.7M15 5.2H20M11.5 10.7V19.2M11.5 10.7H19.5V19.2M11.5 19.2H19.5" fill="none" stroke="#fff" stroke-width="1.7" stroke-opacity="0.95"/></g>
</svg>
</body></html>
